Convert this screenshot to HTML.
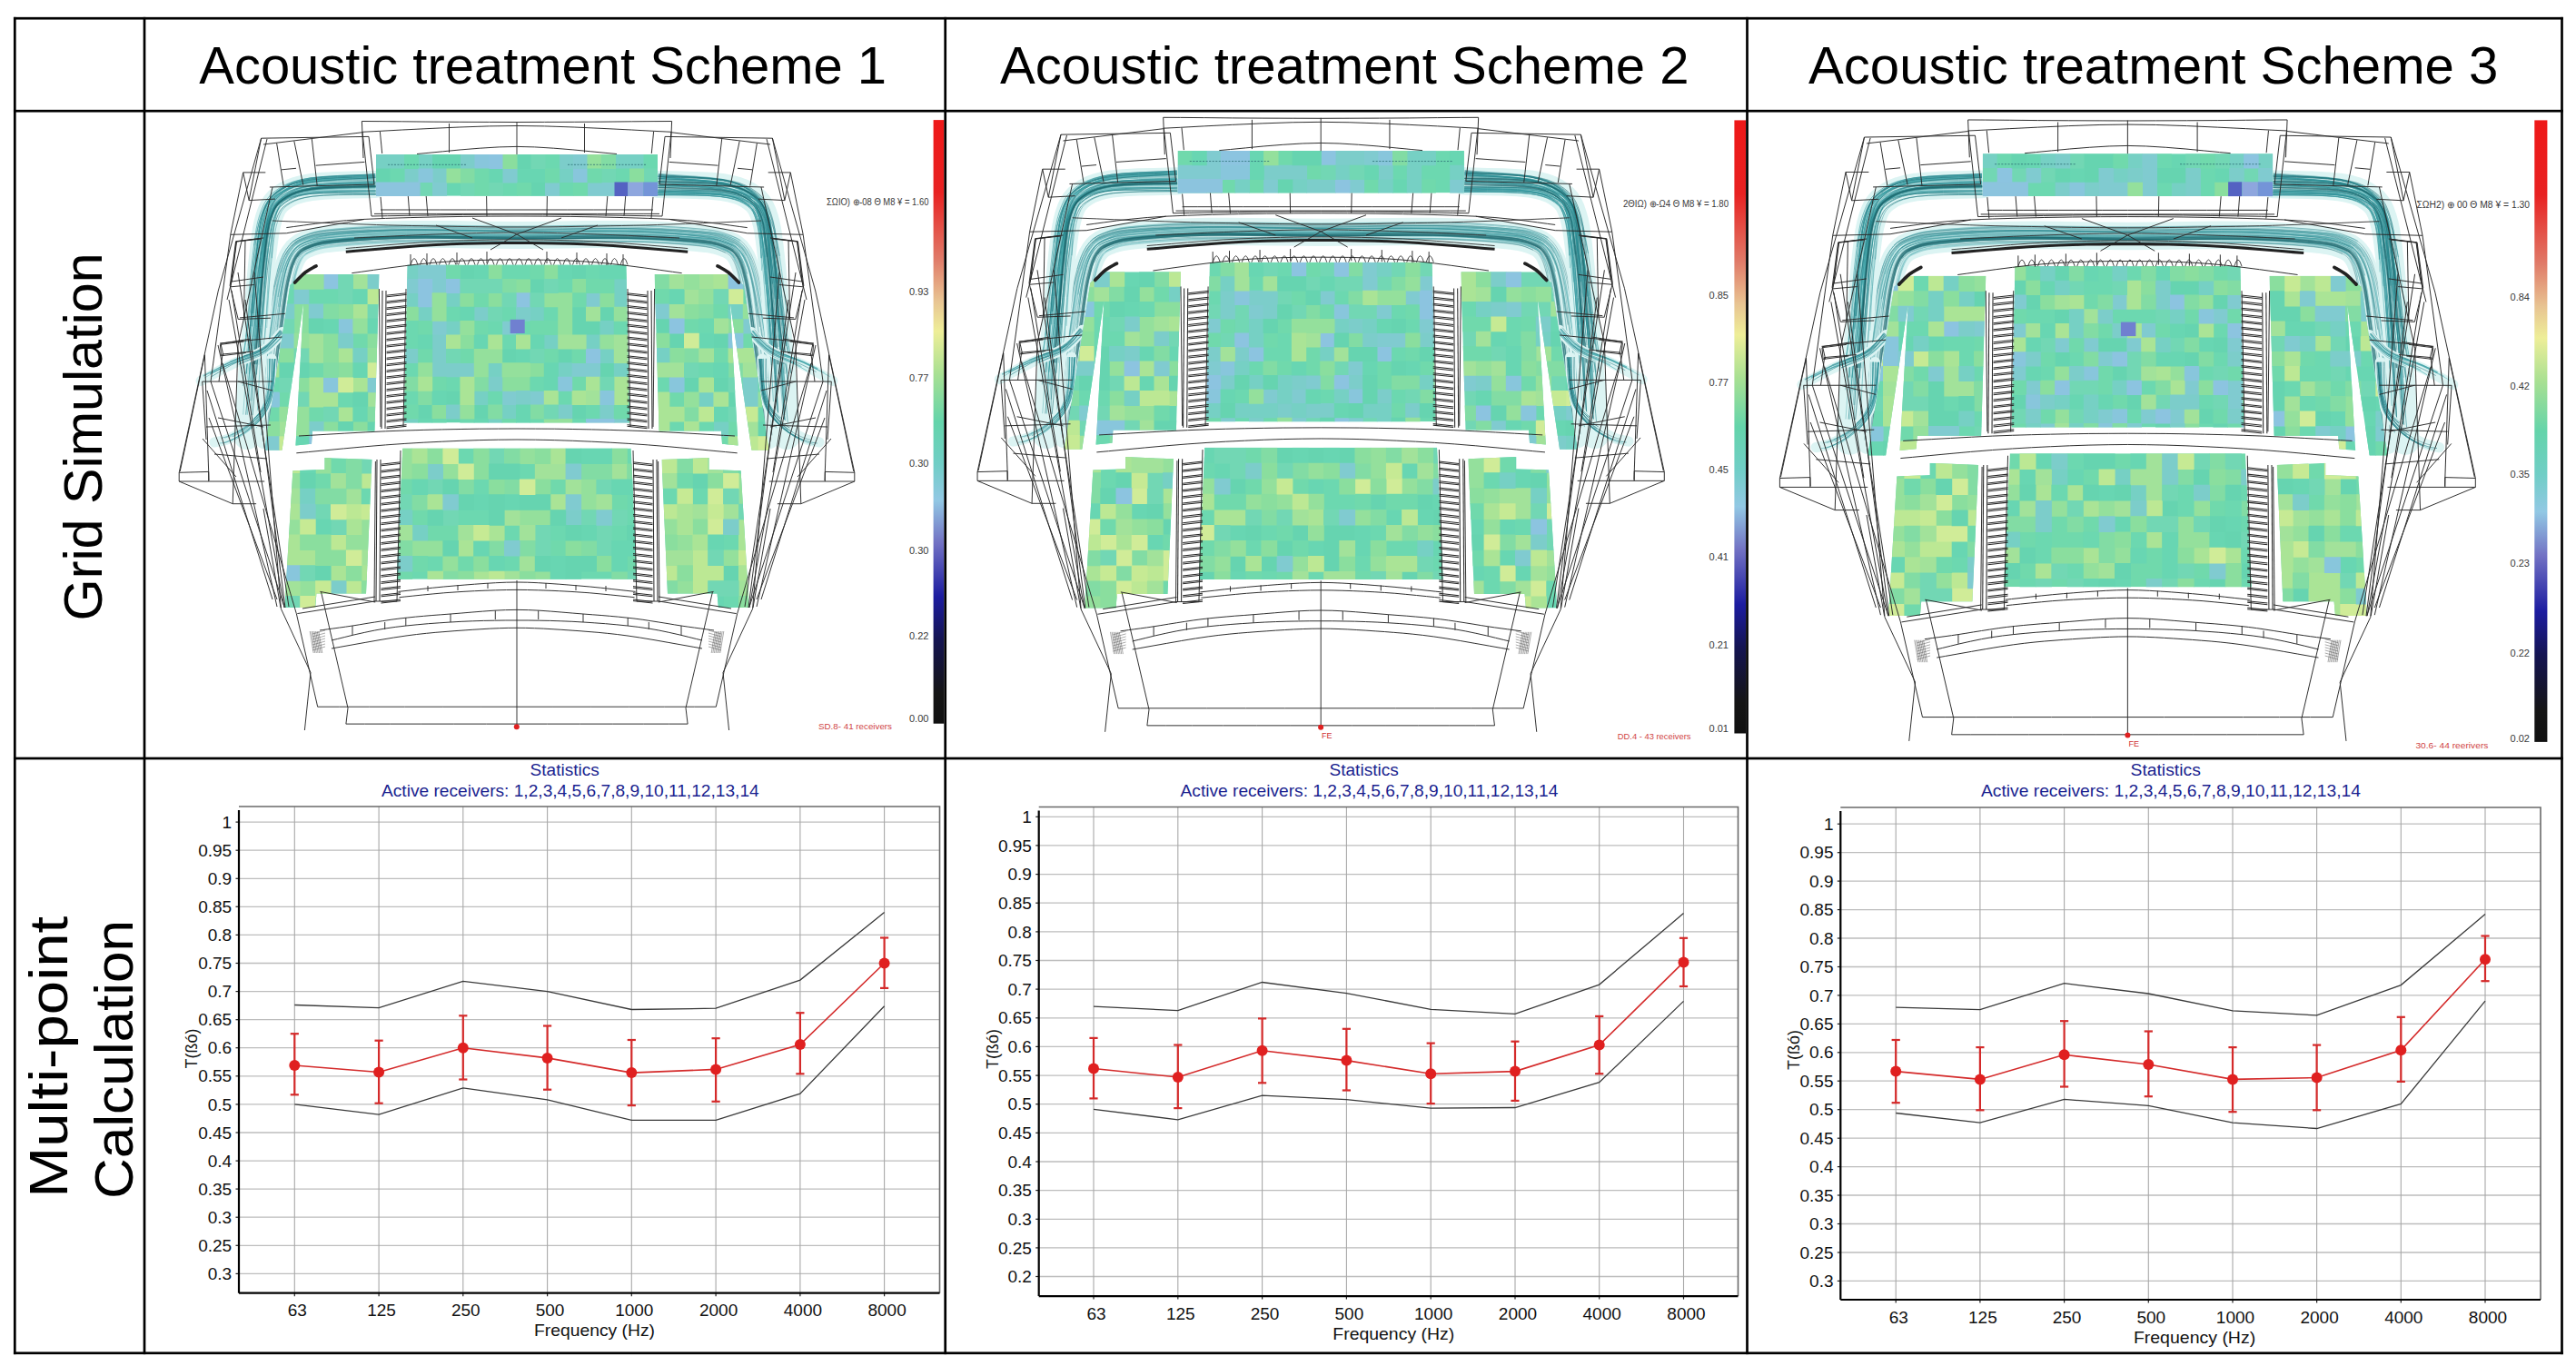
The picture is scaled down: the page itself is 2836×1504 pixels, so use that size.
<!DOCTYPE html>
<html><head><meta charset="utf-8"><style>html,body{margin:0;padding:0;width:2836px;height:1504px;overflow:hidden;background:#fff}</style></head><body>
<svg width="2836" height="1504" viewBox="0 0 2836 1504" style="position:absolute;left:0;top:0" font-family='"Liberation Sans", sans-serif'>
<rect width="2836" height="1504" fill="#fff"/>
<defs><filter id="soft" x="-2%" y="-2%" width="104%" height="104%"><feGaussianBlur stdDeviation="0.45"/></filter></defs>
<defs><g id="bund"><polyline points="845.1,479.7 844.4,471.6 843.6,460.1 842.5,446.7 841.3,432.9 840,420 838.6,407.9 837.1,395.7 835.5,383.6 833.9,371.8 832.3,360.4 830.8,349.3 829.3,338.3 827.9,327.7 826.3,317.9 824.6,309.2 822.8,301.7 821,295.1 819,289.4 816.9,284.4 814.4,280 811.7,276.4 808.9,273.7 805.8,271.5 802.2,269.7 798,268 793.6,266.4 789.3,265.1 784.1,264 777.3,263 768,262 756.3,261 742.6,260 727,259.1 709.7,258.4 690.6,258 669.1,257.9 645.1,258.1 619.8,258.5 594,258.8 569,259 544,258.8 518.2,258.5 492.9,258.1 468.9,257.9 447.4,258 428.3,258.4 411,259.1 395.4,260 381.7,261 370,262 360.7,263 353.9,264 348.7,265.1 344.4,266.4 340,268 335.8,269.7 332.2,271.5 329.1,273.7 326.3,276.4 323.6,280 321.1,284.4 319,289.4 317,295.1 315.2,301.7 313.4,309.2 311.7,317.9 310.1,327.7 308.7,338.3 307.2,349.3 305.7,360.4 304.1,371.8 302.5,383.6 300.9,395.7 299.4,407.9 298,420 296.7,432.9 295.5,446.7 294.4,460.1 293.6,471.6 292.9,479.7" fill="none" stroke="#dcf4f3" stroke-width="30.0" stroke-linejoin="round" stroke-linecap="round"/>
<polyline points="848.8,446.2 847.4,432.3 845.9,419.4 844.3,407.3 842.5,395.1 840.7,382.9 838.9,371.1 837.1,359.7 835.4,348.7 833.7,337.7 832,327.1 830.2,317.2 828.3,308.4 826.3,300.8 824.2,294.1 822,288.3 819.5,283.1 816.7,278.5 813.6,274.8 810.4,271.9 806.9,269.8 803,268.1 798.6,266.5 794.1,265.1 789.5,263.9 784.2,263 777.3,262.2 768.1,261.5 756.3,260.7 742.6,259.9 727,259.2 709.7,258.8 690.6,258.5 669.1,258.6 645.2,259.1 619.8,259.7 594,260.2 569,260.6 544,260.7 518.2,260.5 492.8,260.4 468.9,260.4 447.4,260.7 428.4,261.3 411.1,262.2 395.6,263.3 382,264.5 370.4,265.7 361.2,266.9 354.7,268.1 349.8,269.3 345.8,270.7 341.7,272.5 337.8,274.3 334.8,276.1 332.5,277.9 330.6,280.1 328.3,283.5" fill="none" stroke="#1f7f86" stroke-width="0.72" stroke-opacity="0.5"/>
<polyline points="823.9,350.2 822.6,339.2 821.2,328.7 819.8,319 818.2,310.6 816.6,303.3 815,297 813.3,291.6 811.4,287.1 809.4,283.2 807.3,280.2 805.3,278.1 803,276.4 800,274.8 796,273 791.9,271.4 788,270.1 783.2,269 776.6,267.9 767.5,266.8 755.9,265.7 742.3,264.6 726.8,263.7 709.5,262.9 690.5,262.3 669.1,262.1 645.2,262.2 619.8,262.5 594.1,262.7 569,262.7 543.9,262.5 518.2,262 492.8,261.5 468.9,261.2 447.4,261.2 428.4,261.5 411.1,262.1 395.6,262.9 382,263.7 370.2,264.6 361.1,265.5 354.3,266.3 349.3,267.3 345.1,268.5 340.8,269.9 336.6,271.5 333.1,273.1 330.2,275 327.5,277.5 324.9,280.8 322.4,285 320.2,289.8 318.1,295.5 316.2,301.9 314.3,309.4 312.5,318 310.9,327.8 309.3,338.3 307.7,349.3 306.1,360.5 304.4,371.8" fill="none" stroke="#1f7f86" stroke-width="0.60" stroke-opacity="0.5"/>
<polyline points="817.8,289.9 815.8,284.9 813.5,280.6 811,277.1 808.4,274.4 805.4,272.2 802,270.4 797.8,268.5 793.5,266.8 789.2,265.4 784,264.2 777.2,263.1 768,262 756.3,260.9 742.6,259.8 727,258.9 709.7,258 690.6,257.5 669.1,257.3 645.1,257.4 619.8,257.7 594,257.9 569,258 544,257.7 518.3,257.2 492.9,256.8 468.9,256.4 447.4,256.4 428.3,256.8 410.9,257.4 395.3,258.1 381.6,259 369.8,259.9 360.5,260.8 353.5,261.7 348.2,262.7 343.6,264 339,265.5 334.6,267.2 330.7,269.1 327.2,271.4 323.9,274.4 320.9,278.3 318.2,282.9 315.8,288.2 313.7,294.1 311.7,300.8 309.8,308.4 307.9,317.2 306.3,327.1 304.7,337.7 303.1,348.7 301.5,359.8 299.8,371.2 298.1,383 296.4,395.2 294.7,407.4 293.2,419.5 291.9,432.4 290.5,446.3 289.4,459.7 288.4,471.2 287.6,479.3" fill="none" stroke="#3aa0a6" stroke-width="0.66" stroke-opacity="0.5"/>
<polyline points="832.1,461 831.3,447.7 830.3,433.9 829.2,421.1 828.1,409.2 826.8,397.1 825.4,385 824,373.1 822.6,361.7 821.3,350.5 820.1,339.5 818.8,329 817.5,319.4 816.1,311 814.6,303.8 813.1,297.5 811.5,292.3 809.8,287.9 808,284.1 806.1,281.3 804.3,279.2 802.3,277.6 799.4,275.9 795.6,274.1 791.6,272.4 787.7,271 783,269.8 776.6,268.7 767.5,267.5 755.8,266.3 742.3,265.1 726.8,264 709.5,263.1 690.5,262.5 669.1,262.2 645.2,262.2 619.8,262.3 594.1,262.5 569,262.4 543.9,262 518.2,261.5 492.8,260.9 468.9,260.5 447.4,260.3 428.4,260.6 411.1,261.1 395.5,261.7 381.9,262.5 370.1,263.3 360.9,264 354.1,264.8 348.9,265.7 344.5,266.8 340.1,268.2 335.8,269.8 332.1,271.4 328.8,273.4 325.8,276 322.9,279.5 320.2,283.9 317.8,288.9 315.6,294.7 313.6,301.3 311.5,308.8 309.6,317.5 307.8,327.4 306.2,337.9 304.5,348.9 302.8,360 301,371.3 299.1,383.2 297.3,395.3" fill="none" stroke="#2a8f96" stroke-width="0.78" stroke-opacity="0.5"/>
<polyline points="832,372 830.3,360.7 828.7,349.6 827.1,338.6 825.4,328.1 823.8,318.3 821.9,309.8 820,302.4 818.1,296 816.1,290.5 813.9,285.9 811.5,281.9 809,278.7 806.6,276.5 803.9,274.9 800.6,273.4 796.5,271.9 792.3,270.5 788.2,269.4 783.3,268.5 776.7,267.7 767.5,266.8 755.9,266 742.2,265.2 726.8,264.4 709.5,263.9 690.5,263.6 669.1,263.6 645.2,264 619.8,264.5 594.1,265 569,265.3 543.9,265.3 518.1,265.1 492.8,264.9 468.9,264.8 447.5,265 428.6,265.6 411.3,266.4 395.9,267.4 382.3,268.6 370.7,269.7 361.7,270.8 355.3,271.9 350.7,273 347,274.3 343.1,275.9 339.3,277.6 336.6,279.1 334.7,280.5 333.1,282.3 331.3,285 329.5,288.5 327.8,292.8 326.2,297.9 324.6,304.1 323.1,311.3 321.6,319.6 320.2,329.2 318.9,339.7 317.6,350.7 316.2,361.8 314.7,373.2 313.3,385.1 311.8,397.2 310.5,409.3 309.2,421.3" fill="none" stroke="#3aa0a6" stroke-width="0.72" stroke-opacity="0.5"/>
<polyline points="806.8,276.7 804,274.6 800.9,272.8 796.8,271 792.7,269.2 788.6,267.8 783.6,266.6 777,265.4 767.8,264.3 756.1,263.1 742.5,261.9 726.9,260.9 709.6,260 690.6,259.4 669.1,259.1 645.2,259.2 619.8,259.4 594,259.5 569,259.5 544,259.2 518.2,258.7 492.9,258.1 468.9,257.7 447.4,257.6 428.3,257.9 410.9,258.4 395.4,259.1 381.7,259.9 369.9,260.8 360.6,261.6 353.7,262.4 348.3,263.4 343.8,264.5 339.2,266 334.8,267.6 330.9,269.4 327.4,271.6 324.1,274.6 321.1,278.4 318.3,283 315.8,288.2 313.6,294.1 311.6,300.8 309.6,308.4 307.7,317.2 305.9,327" fill="none" stroke="#1f7f86" stroke-width="0.78" stroke-opacity="0.5"/>
<polyline points="814.6,265.4 810.9,262.9 806.4,260.6 801.6,258.7 796.8,256.9 791.7,255.4 785.8,254.1 778.5,253 768.9,252 757,251 743.2,250 727.5,249.1 710,248.4 690.7,248 669.1,247.9 645,248.1 619.6,248.5 593.9,248.8 569,249 544.1,248.8 518.4,248.5 493,248.1 468.9,247.9 447.3,247.9 428,248.4 410.5,249.1 394.8,250 381,251 369.1,252 359.5,253 352.2,254 346.3,255.3 341.2,256.8 336.3,258.6 331.6,260.5 327,262.8 322.6,265.9 318.6,269.8 315.1,274.5 312.1,279.9 309.5,285.8 307.3,292.1 305.4,299.2 303.5,307.1 301.7,316.1 300.1,326.2 298.6,336.9 297.2,347.9 295.7,359" fill="none" stroke="#2a8f96" stroke-width="0.52" stroke-opacity="0.5"/>
<polyline points="798.8,278.2 794.7,276.3 790.8,274.7 787.1,273.5 782.6,272.4 776.2,271.3 767.2,270.2 755.6,269.1 742.1,268 726.6,267 709.4,266.1 690.5,265.5 669.1,265.3 645.2,265.4 619.9,265.6 594.1,265.8 569,265.8 543.9,265.5 518.1,265.1 492.8,264.6 468.9,264.2 447.5,264.1 428.5,264.4 411.3,265 395.8,265.7 382.2,266.5 370.5,267.4 361.4,268.2 354.8,269 350,269.9 345.9,271 341.7,272.4 337.6,273.9 334.4,275.4 331.8,277 329.4,279.1 326.8,282.4" fill="none" stroke="#186c74" stroke-width="0.78" stroke-opacity="0.5"/>
<polyline points="836.4,359.9 834.7,348.8 833,337.8 831.4,327.2 829.6,317.3 827.7,308.5 825.8,300.9 823.7,294.3 821.5,288.4 819.1,283.3 816.4,278.7 813.4,275 810.2,272.2 806.7,270 802.9,268.3 798.5,266.7 794,265.2 789.5,264 784.2,263.1 777.3,262.2 768.1,261.4 756.3,260.6 742.6,259.8 727,259.1 709.7,258.6 690.6,258.3 669.1,258.4 645.2,258.8 619.8,259.3 594,259.9 569,260.2 544,260.2 518.2,260.1 492.8,259.9 468.9,259.8 447.4,260.1 428.4,260.7 411.1,261.6 395.6,262.6 382,263.8 370.3,264.9 361.1,266.1 354.5,267.2 349.6,268.5 345.5,269.9 341.4,271.6 337.4,273.4 334.3,275.2 331.8,277 329.7,279.4 327.4,282.8" fill="none" stroke="#186c74" stroke-width="0.79" stroke-opacity="0.5"/>
<polyline points="826.8,338.6 825.6,328 824.3,318.3 822.8,309.6 821.3,302.1 819.7,295.5 818,289.8 816.1,284.8 813.9,280.3 811.4,276.7 808.8,273.8 805.9,271.5 802.4,269.4 798.2,267.5 793.9,265.6 789.5,264.1 784.3,262.7 777.4,261.5 768.2,260.2 756.4,259 742.7,257.8 727.1,256.7 709.8,255.7 690.6,255 669.1,254.7 645.1,254.7 619.7,254.8 594,254.9 569,254.8 544,254.4 518.3,253.9 492.9,253.3 468.9,252.8 447.3,252.6 428.2,252.9 410.7,253.3 395,253.9 381.2,254.7 369.4,255.5 359.9,256.2 352.7,257 347,258 342,259.3 337.2,260.8 332.5,262.5 328,264.4 324.3,266.7" fill="none" stroke="#1f7f86" stroke-width="0.53" stroke-opacity="0.5"/>
<polyline points="810,288.2 808,284.2 806.1,281.3 804.3,279.3 802.2,277.7 799.4,276.1 795.5,274.3 791.5,272.7 787.7,271.3 783,270.1 776.5,269 767.4,267.9 755.8,266.7 742.2,265.6 726.8,264.5 709.5,263.6 690.5,263 669.1,262.8 645.2,262.8 619.8,263 594.1,263.2 569,263.1 543.9,262.8 518.2,262.3 492.8,261.7 468.9,261.3 447.4,261.2 428.4,261.5 411.1,262 395.6,262.7 381.9,263.5 370.2,264.4 361,265.1 354.3,266 349.2,266.9 344.9,268 340.5,269.4 336.3,270.9 332.7,272.5 329.7,274.4 326.9,276.9 324.1,280.3 321.5,284.6 319.2,289.5 317.1,295.1 315.1,301.6 313.1,309.1 311.2,317.8 309.5,327.6 307.8,338.1 306.2,349.1 304.5,360.2" fill="none" stroke="#48aaae" stroke-width="0.48" stroke-opacity="0.5"/>
<polyline points="815,303.8 813.5,297.4 812,292.1 810.3,287.6 808.5,283.8 806.6,280.8 804.8,278.7 802.7,276.9 799.8,275.2 795.9,273.3 791.9,271.6 788,270.1 783.2,268.8 776.7,267.6 767.6,266.4 755.9,265.1 742.3,263.9 726.8,262.8 709.6,261.8 690.6,261.1 669.1,260.7 645.2,260.7 619.8,260.8 594,260.9 569,260.8 544,260.4 518.2,259.8 492.8,259.1 468.9,258.7 447.4,258.5 428.3,258.7 411,259.1 395.4,259.7 381.7,260.4 369.9,261.2 360.6,261.9 353.7,262.6 348.4,263.5 343.8,264.6 339.2,266 334.8,267.6 330.8,269.2 327.2,271.4 323.9,274.3 320.7,278.1 317.8,282.7 315.2,288 313,293.9 310.8,300.6 308.8,308.2 306.8,317 304.9,326.9 303.2,337.5 301.4,348.5 299.7,359.6 297.9,370.9 296,382.8 294.1,394.9 292.3,407.1 290.7,419.2 289.1,432.2 287.7,446.1 286.3,459.5" fill="none" stroke="#48aaae" stroke-width="0.62" stroke-opacity="0.5"/>
<polyline points="850,479.3 849.4,471.2 848.6,459.7 847.6,446.3 846.5,432.4 845.3,419.4 844,407.3 842.5,395.1 841,382.9 839.5,371 838,359.6 836.6,348.5 835.2,337.5 833.8,326.8 832.3,316.8 830.6,307.9 828.9,300.1 827,293.3 825,287.1 822.7,281.5 819.9,276.4 816.8,272 813.2,268.5 809.3,265.6 805.1,263.4 800.5,261.5 795.9,259.7 791,258.1 785.3,256.8 778.1,255.7 768.7,254.6 756.8,253.5 743.1,252.4 727.4,251.5 709.9,250.7 690.7,250.1 669.1,250 645,250.1 619.6,250.4 593.9,250.7 569,250.7 544.1,250.5 518.4,250.1 493,249.6 468.9,249.3 447.3,249.3 428.1,249.7 410.6,250.3 394.9,251.1 381,252 369.1,252.9 359.6,253.8 352.3,254.8 346.4,256 341.4,257.4 336.5,259.1 331.8,261 327.2,263.2 322.8,266.1 318.8,269.9 315.2,274.6 312.1,279.9 309.5,285.7 307.2,292.1 305.2,299.1 303.2,307 301.4,316.1 299.7,326.1 298.1,336.8 296.5,347.8 295,358.9 293.3,370.3 291.6,382.2 289.9,394.3 288.3,406.6 286.8,418.8 285.4,431.8 284.1,445.8 283,459.2 282,470.7" fill="none" stroke="#186c74" stroke-width="0.65" stroke-opacity="0.5"/>
<polyline points="818.2,310.7 816.4,303.3 814.6,297.1 812.7,291.8 810.7,287.4 808.5,283.8 806.4,281 804.4,279.2 802.2,277.8 799.2,276.4 795.3,274.9 791.3,273.5 787.4,272.4 782.7,271.5 776.3,270.7 767.3,269.8 755.6,268.9 742.1,268 726.6,267.2 709.4,266.6 690.5,266.2 669.1,266.2 645.2,266.5 619.9,267 594.1,267.4 569,267.7 543.9,267.6 518.1,267.3 492.8,267.1 468.9,266.9 447.5,267.1 428.6,267.6 411.4,268.4 396,269.3 382.5,270.4 370.9,271.5 361.9,272.5 355.6,273.5 351.1,274.5 347.5,275.7 343.6,277.3 339.9,278.9 337.3,280.2 335.5,281.5 334,283.1 332.3,285.6 330.5,289 328.8,293.2 327.1,298.2 325.5,304.3 323.9,311.5 322.4,319.8 321,329.3 319.6,339.7 318.2,350.7 316.8,361.9 315.3,373.3 313.8,385.1 312.3,397.2 310.8,409.3 309.6,421.2 308.4,434" fill="none" stroke="#3aa0a6" stroke-width="0.64" stroke-opacity="0.5"/>
<polyline points="814.7,279.8 812.1,276.1 809.4,273.1 806.3,270.8 802.7,268.7 798.5,266.8 794.1,265 789.7,263.5 784.4,262.1 777.5,260.9 768.2,259.8 756.5,258.6 742.7,257.4 727.2,256.3 709.8,255.4 690.6,254.8 669.1,254.5 645.1,254.6 619.7,254.7 594,254.9 569,254.8 544,254.5 518.3,254 492.9,253.4 468.9,253 447.3,252.9 428.2,253.1 410.7,253.7 395.1,254.3 381.3,255.1 369.4,256 360,256.8 352.8,257.6 347.1,258.6 342.2,259.9 337.4,261.4 332.8,263.2 328.4,265.2 324.2,267.8 320.4,271.3 316.9,275.7 313.8,280.8 311.1,286.4 308.8,292.6 306.7,299.5 304.7,307.3 302.7,316.3 300.9,326.3 299.2,337 297.6,348 295.9,359.1 294.1,370.4 292.3,382.3 290.5,394.4 288.8,406.7 287.2,418.8" fill="none" stroke="#186c74" stroke-width="0.57" stroke-opacity="0.5"/>
<polyline points="810.4,271.5 807.2,269.2 803.4,267.2 799,265.4 794.5,263.6 790,262.2 784.6,261 777.6,259.9 768.3,258.8 756.5,257.8 742.8,256.7 727.2,255.8 709.8,255 690.6,254.5 669.1,254.3 645.1,254.5 619.7,254.8 594,255.1 569,255.1 544,254.9 518.3,254.5 492.9,254.1 468.9,253.8 447.3,253.8 428.2,254.2 410.8,254.8 395.1,255.6 381.4,256.5 369.6,257.5 360.2,258.4 353.1,259.4 347.6,260.5 342.8,261.8 338.2,263.4 333.7,265.2 329.6,267.2 325.8,269.7 322.4,273 319.2,277.2 316.4,282 313.9,287.5 311.8,293.5 309.9,300.2" fill="none" stroke="#1f7f86" stroke-width="0.72" stroke-opacity="0.5"/>
<polyline points="821.9,281.5 819.3,276.9 816.2,272.6 812.7,269.1 808.8,266.4 804.7,264.3 800.2,262.4 795.6,260.6 790.7,259.2 785.1,257.9 778,256.8 768.6,255.8 756.7,254.7 743,253.7 727.3,252.8 709.9,252.1 690.7,251.6 669.1,251.4 645.1,251.6 619.7,252 594,252.3 569,252.4 544,252.2 518.3,251.8 492.9,251.4 468.9,251.1 447.3,251.2 428.1,251.6 410.7,252.2 395,253.1 381.2,254 369.3,255 359.9,255.9 352.7,256.9 347,258.1 342.1,259.5 337.4,261.2 332.7,263.1 328.4,265.2 324.4,268 321.1,271.1" fill="none" stroke="#186c74" stroke-width="0.72" stroke-opacity="0.5"/>
<polyline points="840.8,432.9 839.5,420.1 838.1,408 836.5,395.8 834.8,383.7 833.2,371.9 831.5,360.5 830,349.4 828.5,338.4 826.9,327.8 825.3,318.1 823.6,309.4 821.8,301.9 819.9,295.4 817.9,289.8 815.8,284.9 813.3,280.7 810.7,277.3 808,274.8 805.1,272.8 801.6,271.1 797.4,269.5 793.1,267.9 788.8,266.7 783.8,265.7 777,264.7 767.8,263.8 756.1,262.9 742.5,261.9 726.9,261.1 709.6,260.5 690.6,260.1 669.1,260.1 645.2,260.3 619.8,260.7 594,261.1 569,261.4 543.9,261.3 518.2,261 492.8,260.6 468.9,260.5 447.4,260.6 428.4,261.1 411.1,261.9 395.6,262.8 382,263.8 370.3,264.9 361.1,265.9 354.4,266.9 349.5,268 345.4,269.3 341.1,270.9 337.1,272.7 333.6,274.4" fill="none" stroke="#186c74" stroke-width="0.52" stroke-opacity="0.5"/>
<polyline points="825.9,338.7 824.5,328.2 822.9,318.5 821.2,309.9 819.5,302.5 817.7,296.1 815.8,290.6 813.8,285.9 811.5,281.9 809.1,278.7 806.7,276.4 804.1,274.5 800.8,272.9 796.7,271.3 792.5,269.7 788.4,268.5 783.5,267.4 776.8,266.5 767.7,265.5 756,264.5 742.4,263.5 726.8,262.7 709.6,262 690.6,261.5 669.1,261.5 645.2,261.7 619.8,262.1 594.1,262.4 569,262.6 543.9,262.4 518.2,262.1 492.8,261.7 468.9,261.5 447.4,261.6 428.4,262 411.2,262.7 395.7,263.6 382,264.6 370.3,265.6 361.2,266.6 354.6,267.5 349.6,268.6 345.5,269.8 341.3,271.4 337.2,273.1 334,274.7 331.4,276.5 329,278.8 326.7,282 324.4,286 322.4,290.7 320.5,296.2 318.7,302.6 317,310 315.3,318.5 313.8,328.2 312.3,338.8 310.9,349.8" fill="none" stroke="#186c74" stroke-width="0.64" stroke-opacity="0.5"/>
<polyline points="819,283.2 816.5,278.7 813.7,274.7 810.6,271.6 807.2,269.2 803.4,267.1 799.1,265.2 794.6,263.5 790,262 784.6,260.8 777.7,259.7 768.3,258.6 756.5,257.5 742.8,256.4 727.2,255.5 709.8,254.7 690.7,254.1 669.1,253.9 645.1,254.1 619.7,254.3 594,254.6 569,254.7 544,254.4 518.3,254 492.9,253.5 468.9,253.2 447.3,253.2 428.2,253.6 410.7,254.2 395.1,254.9 381.3,255.8 369.5,256.8 360.1,257.7 353,258.6 347.4,259.7 342.6,261 337.9,262.7 333.4,264.4 329.2,266.4 325.2,269 321.6,272.4 318.4,276.6 315.5,281.6 313,287.1 310.8,293.2 308.8,300 306.9,307.8 305,316.7 303.4,326.7 301.8,337.3 300.2,348.3 298.6,359.4 297,370.8 295.3,382.6" fill="none" stroke="#3aa0a6" stroke-width="0.64" stroke-opacity="0.5"/>
<polyline points="842.5,432.8 841.3,419.9 840,407.8 838.6,395.6 837.1,383.4 835.6,371.5 834.1,360.2 832.7,349 831.3,338 829.9,327.4 828.5,317.5 826.8,308.7 825.1,301.1 823.4,294.4 821.5,288.5 819.3,283.2 816.7,278.5 813.9,274.5 810.8,271.4 807.4,268.9 803.6,266.9 799.2,265 794.7,263.2 790.1,261.7 784.7,260.5 777.7,259.3 768.4,258.3 756.6,257.1 742.8,256.1 727.2,255.1 709.8,254.3 690.7,253.8 669.1,253.6 645.1,253.7 619.7,254 594,254.2 569,254.3 544,254 518.3,253.6 492.9,253.1 468.9,252.8 447.3,252.8 428.2,253.1 410.7,253.7 395.1,254.5 381.3,255.4 369.5,256.3 360,257.2 352.9,258.2 347.3,259.3 342.4,260.6 337.8,262.2 333.2,264 328.9,266 324.9,268.7 321.3,272.1 318,276.4 315.1,281.4 312.5,286.9 310.3,293.1 308.3,299.9 306.4,307.7 304.5,316.6 302.9,326.6 301.3,337.3 299.7,348.3 298.1,359.4 296.4,370.7 294.7,382.6 293,394.7 291.4,407 289.9,419.1 288.5,432.1 287.2,446 286,459.4" fill="none" stroke="#48aaae" stroke-width="0.46" stroke-opacity="0.5"/>
<polyline points="813.9,266.4 810.2,264.1 805.7,262 801,260.3 796.2,258.7 791.2,257.4 785.4,256.3 778.2,255.4 768.7,254.6 756.8,253.8 743,252.9 727.3,252.2 709.9,251.7 690.7,251.4 669.1,251.5 645.1,251.9 619.7,252.5 594,253 569,253.3 544,253.3 518.3,253.2 492.9,253 468.9,252.9 447.3,253.2 428.2,253.8 410.8,254.7 395.2,255.7 381.4,256.9 369.6,258.1 360.3,259.2 353.3,260.4 347.9,261.8 343.3,263.3 338.9,265.1 334.6,267.1 330.8,269.2 327.4,271.7 324.5,274.9 321.8,278.8 319.3,283.5 317.2,288.7 315.4,294.6 313.7,301.3 312.1,308.9 310.6,317.7 309.2,327.5 307.9,338.2 306.6,349.2 305.3,360.3 303.9,371.7 302.4,383.6 301,395.8 299.6,408 298.4,420 297.3,432.9 296.3,446.8 295.4,460.2 294.7,471.7" fill="none" stroke="#48aaae" stroke-width="0.54" stroke-opacity="0.5"/>
<polyline points="839.8,460.4 838.6,447.1 837.3,433.3 836,420.4 834.5,408.4 832.9,396.3 831.2,384.2 829.5,372.4 827.8,361 826.2,349.9 824.6,338.9 823,328.4 821.4,318.8 819.6,310.3 817.8,303 815.9,296.7 814,291.3 811.9,286.8 809.7,283 807.4,280.1 805.2,278.2 802.8,276.7 799.8,275.2 795.8,273.7 791.6,272.3 787.7,271.2 783,270.3 776.5,269.5 767.4,268.6 755.7,267.7 742.1,266.9 726.7,266.1 709.4,265.5 690.5,265.2 669.1,265.2 645.2,265.5 619.9,266 594.1,266.5 569,266.7 543.9,266.7 518.1,266.4 492.8,266.2 468.9,266 447.5,266.2 428.6,266.8 411.4,267.6 396,268.6 382.4,269.6 370.8,270.7 361.8,271.8 355.5,272.8 351,273.9 347.3,275.1 343.4,276.7 339.6,278.3 337,279.7 335.2,281.1 333.6,282.7 331.8,285.3 330,288.8 328.3,293 326.7,298.1 325.1,304.2 323.5,311.6" fill="none" stroke="#3aa0a6" stroke-width="0.54" stroke-opacity="0.5"/>
<polyline points="807.4,268.4 803.6,266.7 799.1,265.1 794.6,263.6 789.9,262.4 784.5,261.5 777.5,260.6 768.2,259.9 756.4,259.1 742.7,258.3 727.1,257.6 709.7,257.1 690.6,256.9 669.1,257 645.1,257.4 619.8,258 594,258.5 569,258.9 544,258.9 518.2,258.8 492.9,258.6 468.9,258.6 447.4,258.9 428.4,259.5 411,260.4 395.5,261.5 381.9,262.7 370.2,263.9 361,265.1 354.3,266.2 349.4,267.5 345.2,269 341.1,270.7 337,272.6 333.8,274.4 331.3,276.4 329.1,278.8 326.9,282.1 324.8,286.2 323,290.9 321.3,296.4 319.8,302.8 318.2,310.3" fill="none" stroke="#48aaae" stroke-width="0.62" stroke-opacity="0.5"/>
<polyline points="839.8,460.4 838.9,447 837.8,433.2 836.7,420.3 835.5,408.3 834.1,396.1 832.7,384 831.2,372.1 829.8,360.7 828.4,349.6 827.1,338.6 825.8,328 824.4,318.2 822.9,309.6 821.3,302.1 819.6,295.5 817.8,289.9 815.8,284.9 813.6,280.5 811.1,277 808.5,274.2 805.6,272 802.1,270.1 797.9,268.2 793.6,266.5 789.3,265 784.1,263.8 777.3,262.6 768,261.5 756.3,260.3 742.6,259.2 727.1,258.2 709.7,257.3 690.6,256.7 669.1,256.5 645.1,256.5 619.7,256.8 594,256.9 569,256.9 544,256.6 518.3,256.1 492.9,255.6 468.9,255.2 447.4,255.2 428.2,255.5 410.8,256 395.2,256.7 381.5,257.6 369.7,258.4 360.3,259.3 353.3,260.1 347.8,261.1 343,262.4 338.4,263.9 333.9,265.6 329.8,267.5 326,270 322.5,273.2 319.3,277.2 316.4,282 313.9,287.4 311.7,293.5 309.6,300.3 307.6,308 305.8,316.8 304,326.8 302.4,337.4 300.8,348.4 299.1,359.5 297.4,370.9 295.6,382.7 293.8,394.8" fill="none" stroke="#48aaae" stroke-width="0.49" stroke-opacity="0.5"/>
<polyline points="806.9,281.4 804.6,278.9 802.5,277.2 799.6,275.5 795.8,273.8 791.7,272 787.8,270.7 783.1,269.4 776.6,268.3 767.5,267.1 755.9,265.9 742.3,264.8 726.8,263.7 709.5,262.8 690.5,262.1 669.1,261.9 645.2,261.9 619.8,262 594.1,262.2 569,262.1 543.9,261.8 518.2,261.2 492.8,260.7 468.9,260.2 447.4,260.1 428.4,260.4 411.1,260.9 395.5,261.5 381.8,262.3 370.1,263.1 360.9,263.9 354.1,264.7 348.9,265.6 344.5,266.7 340,268.1 335.7,269.6 332,271.3 328.7,273.3 325.7,275.9 322.8,279.5 320.1,283.9 317.7,288.9 315.5,294.7 313.5,301.2 311.5,308.8 309.6,317.5 307.8,327.3 306.1,337.9" fill="none" stroke="#2a8f96" stroke-width="0.53" stroke-opacity="0.5"/>
<polyline points="844.8,370.3 843.1,358.9 841.4,347.9 839.8,336.8 838.1,326.2 836.3,316.1 834.4,307.1 832.3,299.2 830.2,292.3 827.9,286 825.2,280.3 822.1,275.1 818.5,270.6 814.5,266.9 810.2,264.1 805.7,262.1 801,260.3 796.2,258.7 791.2,257.4 785.4,256.3 778.2,255.5 768.7,254.6 756.8,253.8 743,253 727.3,252.3 709.9,251.8 690.7,251.5 669.1,251.6 645.1,252 619.7,252.5 594,253 569,253.4 544,253.4 518.3,253.2 492.9,253 468.9,253 447.3,253.2 428.2,253.8 410.8,254.7 395.2,255.8 381.4,256.9 369.6,258.1 360.3,259.3 353.3,260.5 347.9,261.8 343.4,263.3 338.9,265.2 334.6,267.1 330.8,269.2 327.5,271.7 324.5,274.9 321.8,278.8 319.3,283.5 317.3,288.7 315.4,294.6 313.7,301.3 312.1,308.9 310.6,317.7 309.2,327.6 307.9,338.2 306.6,349.2 305.3,360.3 303.9,371.7 302.4,383.6 301,395.8 299.6,408 298.4,420 297.3,432.9 296.3,446.8 295.4,460.2 294.7,471.7 294.2,479.8" fill="none" stroke="#186c74" stroke-width="0.69" stroke-opacity="0.5"/>
<polyline points="839.1,325.9 837.5,315.9 835.6,306.8 833.7,298.9 831.6,291.8 829.4,285.4 826.7,279.5 823.6,274.1 820,269.3 815.8,265.3 811.3,262.3 806.6,260 801.8,258.1 797,256.4 791.8,254.9 785.9,253.7 778.5,252.7 769,251.8 757.1,250.8 743.2,249.9 727.5,249.1 710,248.5 690.7,248.1 669.1,248.1 645,248.4 619.6,248.8 593.9,249.2 569,249.4 544.1,249.4 518.4,249.1 493,248.8 468.9,248.6 447.3,248.8 428,249.3 410.6,250.1 394.9,251 381,252.1 369.2,253.2 359.7,254.2 352.4,255.4 346.6,256.7 341.6,258.2 336.9,260.1 332.3,262 327.9,264.3 323.8,267.3 320,271 316.7,275.6 313.9,280.8 311.4,286.5 309.4,292.8 307.5,299.7 305.7,307.6 304.1,316.5 302.5,326.6 301.1,337.2 299.7,348.3 298.3,359.4 296.8,370.8 295.2,382.6 293.7,394.8 292.2,407.1 290.9,419.2" fill="none" stroke="#186c74" stroke-width="0.61" stroke-opacity="0.5"/>
<polyline points="833.5,337.7 832.1,327.1 830.5,317.2 828.8,308.3 827.1,300.6 825.2,293.8 823.2,287.8 820.9,282.4 818.2,277.5 815.2,273.4 811.9,270.1 808.2,267.5 804.2,265.4 799.7,263.5 795.2,261.8 790.4,260.3 784.9,259.1 777.9,258 768.5,257 756.7,255.9 742.9,254.9 727.3,254 709.8,253.3 690.7,252.8 669.1,252.6 645.1,252.8 619.7,253.1 594,253.4 569,253.5 544,253.3 518.3,252.9 492.9,252.5 468.9,252.3 447.3,252.3 428.2,252.7 410.7,253.4 395.1,254.2 381.3,255.1 369.4,256.1 360,257.1 352.9,258 347.3,259.2 342.4,260.6 337.8,262.3 333.2,264.1 329,266.2 325.1,268.8 321.5,272.3 318.2,276.5 315.4,281.5 312.9,287.1 310.8,293.2 308.8,300.1 306.9,307.8 305.2,316.7 303.5,326.7 302,337.3 300.5,348.4 298.9,359.5 297.3,370.8 295.6,382.7 294,394.9 292.4,407.1 291,419.3 289.7,432.2 288.4,446.1 287.3,459.5 286.3,471 285.6,479.1" fill="none" stroke="#1f7f86" stroke-width="0.47" stroke-opacity="0.5"/>
<polyline points="846,394.6 844.2,382.5 842.3,370.6 840.4,359.3 838.7,348.2 836.9,337.2 835.2,326.6 833.3,316.7 831.3,307.8 829.2,300.1 827,293.3 824.7,287.2 822,281.8 819,277 815.7,273 812.1,269.9 808.2,267.5 804,265.8 799.5,264.2 794.8,262.8 790.1,261.6 784.6,260.7 777.6,260 768.3,259.3 756.5,258.5 742.7,257.8 727.1,257.2 709.7,256.8 690.6,256.6 669.1,256.8 645.1,257.3 619.8,258 594,258.6 569,259 544,259.1 518.2,259.1 492.8,259 468.9,259 447.4,259.4 428.4,260.1 411.1,261.1 395.6,262.2 381.9,263.4 370.3,264.7 361.1,266 354.5,267.2 349.6,268.5 345.6,270 341.5,271.8 337.6,273.7 334.2,275.7" fill="none" stroke="#2a8f96" stroke-width="0.56" stroke-opacity="0.5"/>
<polyline points="807.8,275.3 804.8,273.4 801.3,271.8 797.2,270.1 792.9,268.7 788.6,267.5 783.6,266.5 776.9,265.7 767.7,264.8 756,263.9 742.4,263 726.9,262.2 709.6,261.6 690.6,261.3 669.1,261.3 645.2,261.6 619.8,262.1 594.1,262.5 569,262.8 543.9,262.7 518.2,262.5 492.8,262.2 468.9,262.1 447.5,262.3 428.5,262.8 411.2,263.6 395.7,264.6 382.1,265.6 370.4,266.7 361.3,267.8 354.8,268.9 350,270 346,271.3 341.9,272.9 338,274.6 334.9,276.2 332.6,278 330.5,280.1 328.4,283.1 326.4,287 324.4,291.8" fill="none" stroke="#2a8f96" stroke-width="0.65" stroke-opacity="0.5"/>
<polyline points="809,284 806.9,280.6 805.1,278.4 802.9,276.5 800,274.6 796.2,272.7 792.2,270.8 788.2,269.2 783.4,267.8 776.8,266.5 767.7,265.2 756,263.8 742.4,262.5 726.9,261.3 709.6,260.2 690.6,259.4 669.1,259 645.2,258.9 619.8,258.9 594,258.9 569,258.6 544,258.1 518.3,257.4 492.9,256.7 468.9,256.1 447.4,255.9 428.3,256 410.8,256.3 395.2,256.8 381.5,257.4 369.6,258.1 360.2,258.7 353.1,259.4 347.5,260.2 342.7,261.3 337.9,262.7 333.3,264.2 328.9,266 324.8,268.5 320.9,271.7 317.3,275.9 314.1,280.9 311.3,286.4 308.8,292.6 306.6,299.5 304.3,307.3 302.3,316.1" fill="none" stroke="#1f7f86" stroke-width="0.51" stroke-opacity="0.5"/>
<polyline points="815.2,272.9 812,270 808.2,267.5 804.1,265.6 799.6,263.9 795,262.4 790.3,261.1 784.8,260 777.7,259.1 768.4,258.3 756.5,257.4 742.8,256.6 727.2,255.8 709.8,255.2 690.6,254.9 669.1,255 645.1,255.3 619.7,255.8 594,256.3 569,256.6 544,256.6 518.3,256.3 492.9,256.1 468.9,256 447.4,256.2 428.3,256.8 410.9,257.6 395.3,258.6 381.6,259.7 369.9,260.9 360.6,262 353.8,263.1 348.6,264.4 344.2,265.8 339.8,267.6 335.6,269.4 332.1,271.4" fill="none" stroke="#1f7f86" stroke-width="0.52" stroke-opacity="0.5"/>
<polyline points="853,459.3 851.8,446 850.5,432 849.1,419 847.6,406.9 846,394.6 844.3,382.5 842.5,370.6 840.8,359.2 839.2,348.1 837.7,337.1 836,326.5 834.3,316.5 832.5,307.5 830.5,299.7 828.5,292.8 826.2,286.6 823.7,281 820.7,275.9 817.3,271.6 813.6,268.1 809.5,265.4 805.1,263.3 800.5,261.5 795.8,259.9 790.9,258.6 785.2,257.5 778,256.5 768.6,255.7 756.7,254.8 743,253.9 727.3,253.1 709.9,252.5 690.7,252.2 669.1,252.2 645.1,252.6 619.7,253 594,253.5 569,253.8 544,253.7 518.3,253.5 492.9,253.2 468.9,253.1 447.3,253.3 428.2,253.9 410.8,254.7 395.2,255.7 381.4,256.8 369.6,257.9 360.3,259 353.3,260.1 347.8,261.4 343.2,262.9 338.7,264.7 334.3,266.6 330.5,268.7 327,271.2 323.9,274.4 321.1,278.4 318.6,283.1 316.4,288.4 314.5,294.3 312.7,301 311,308.7 309.4,317.5 308,327.3" fill="none" stroke="#1f7f86" stroke-width="0.49" stroke-opacity="0.5"/>
<polyline points="822.8,301.7 820.9,295.1 818.9,289.4 816.7,284.5 814.1,280.2 811.5,276.6 808.7,274 805.6,272 802,270.3 797.8,268.6 793.4,267.1 789.1,265.9 783.9,264.8 777.1,263.9 767.9,263 756.2,262.1 742.5,261.2 727,260.4 709.6,259.8 690.6,259.4 669.1,259.4 645.2,259.7 619.8,260.1 594,260.5 569,260.8 544,260.7 518.2,260.4 492.8,260.1 468.9,260 447.4,260.1 428.4,260.7 411.1,261.4 395.6,262.4 381.9,263.4 370.2,264.5 361.1,265.5 354.4,266.6 349.4,267.7 345.3,269 341,270.7 337,272.4 333.7,274.1 331,276.1 328.7,278.5 326.3,281.8 324.1,285.9 322.1,290.6 320.3,296.1 318.6,302.6 316.9,310 315.3,318.5 313.8,328.2 312.4,338.8 311.1,349.8 309.6,360.9 308.1,372.3 306.6,384.2 305,396.3" fill="none" stroke="#1f7f86" stroke-width="0.76" stroke-opacity="0.5"/>
<polyline points="841,480 840.5,471.9 839.8,460.4 839,447 838,433.2 836.9,420.3 835.8,408.3 834.5,396.1 833.1,384 831.6,372.1 830.3,360.7 829,349.5 827.7,338.5 826.4,327.9 825.1,318.1 823.6,309.4 822,301.9 820.4,295.3 818.7,289.5 816.7,284.5 814.4,280 811.9,276.2 809.2,273.3 806.2,271 802.6,269 798.4,267 794,265.2 789.6,263.6 784.4,262.3 777.5,261.1 768.2,259.9 756.4,258.7 742.7,257.5 727.1,256.4 709.8,255.5 690.6,254.8 669.1,254.6 645.1,254.6 619.7,254.7 594,254.9 569,254.8 544,254.4 518.3,253.9 492.9,253.3 468.9,252.9 447.3,252.8 428.2,253 410.7,253.5 395.1,254.2 381.3,254.9 369.4,255.8 360,256.5 352.8,257.4 347.1,258.4 342.1,259.6 337.3,261.2 332.7,262.9 328.2,264.9 324,267.5 320.1,271.1 316.6,275.5 313.4,280.6 310.8,286.2 308.4,292.5 306.3,299.4 304.2,307.2 302.2,316.2 300.4,326.2 298.7,336.9 297.1,347.9 295.4,359 293.6,370.3 291.7,382.2 289.9,394.3 288.2,406.6 286.6,418.8 285.1,431.7" fill="none" stroke="#3aa0a6" stroke-width="0.57" stroke-opacity="0.5"/>
<polyline points="848.1,419.1 846.7,407 845.2,394.7 843.7,382.5 842.1,370.7 840.5,359.3 839.1,348.2 837.6,337.1 836.2,326.5 834.6,316.4 832.9,307.4 831.1,299.6 829.2,292.6 827.1,286.3 824.6,280.6 821.7,275.3 818.3,270.7 814.5,266.9 810.3,264 805.9,261.7 801.2,259.7 796.5,257.9 791.4,256.4 785.6,255.1 778.3,254 768.9,253 757,251.9 743.2,250.9 727.5,250 710,249.2 690.7,248.7 669.1,248.6 645,248.8 619.6,249.1 593.9,249.4 569,249.5 544.1,249.4 518.4,249 493,248.6 468.9,248.3 447.3,248.4 428,248.8 410.5,249.4 394.8,250.3 381,251.2 369.1,252.2 359.5,253.2 352.2,254.2 346.3,255.4 341.2,256.9 336.4,258.7 331.6,260.6 327,262.8 322.6,265.8 318.6,269.8 315,274.5 311.9,279.8 309.3,285.7 307.1,292.1 305.2,298.9" fill="none" stroke="#48aaae" stroke-width="0.77" stroke-opacity="0.5"/>
<polyline points="819.6,276.2 816.5,272.3 812.9,268.9 808.9,266.3 804.7,264.3 800.1,262.6 795.4,261 790.6,259.6 785,258.6 777.9,257.6 768.5,256.8 756.7,255.9 742.9,255 727.3,254.2 709.8,253.7 690.7,253.3 669.1,253.4 645.1,253.7 619.7,254.2 594,254.7 569,254.9 544,254.9 518.3,254.7 492.9,254.4 468.9,254.3 447.4,254.5 428.2,255.1 410.8,255.9 395.2,256.9 381.5,258 369.7,259.1 360.4,260.2 353.5,261.3 348.1,262.6 343.6,264.1 339.2,265.8 334.8,267.7 331.1,269.8 327.8,272.2 324.9,275.2 322.2,279.1 319.7,283.7 317.6,288.9 315.7,294.7 314,301.4 312.3,309 310.7,317.7 309.3,327.6 307.9,338.2" fill="none" stroke="#2a8f96" stroke-width="0.70" stroke-opacity="0.5"/>
<polyline points="853.4,459.3 852.1,445.9 850.6,432 849.1,419 847.5,406.9 845.8,394.6 843.9,382.5 842.1,370.6 840.3,359.3 838.6,348.2 836.9,337.2 835.2,326.6 833.3,316.7 831.4,307.7 829.3,300 827.2,293.2 824.9,287.1 822.3,281.7 819.3,276.9 815.9,272.8 812.3,269.6 808.4,267.1 804.3,265.3 799.7,263.7 795,262.2 790.3,261 784.7,260 777.7,259.3 768.3,258.5 756.5,257.7 742.8,256.9 727.2,256.3 709.7,255.8 690.6,255.6 669.1,255.7 645.1,256.2 619.7,256.8 594,257.4 569,257.7 544,257.8 518.2,257.7 492.9,257.6 468.9,257.6 447.4,257.9 428.3,258.5 411,259.5 395.5,260.6 381.8,261.8 370.1,263 360.9,264.2 354.2,265.4 349.2,266.7 345,268.2 340.8,270 336.7,271.9 333.5,273.8 330.9,275.8 328.6,278.4 326.3,281.8 324.3,285.9 322.4,290.7 320.8,296.3 319.2,302.7 317.7,310.1 316.3,318.7 314.9,328.4 313.7,338.9 312.5,350 311.2,361.2 309.8,372.6 308.4,384.4 307.1,396.5 305.8,408.7 304.6,420.7 303.6,433.6" fill="none" stroke="#48aaae" stroke-width="0.66" stroke-opacity="0.5"/>
<polyline points="811.3,282.3 808.8,278.9 806.5,276.7 803.9,274.9 800.6,273.3 796.6,271.7 792.4,270.1 788.3,268.9 783.4,267.9 776.8,267 767.6,266 755.9,265.1 742.3,264.1 726.8,263.3 709.5,262.6 690.5,262.2 669.1,262.1 645.2,262.4 619.8,262.7 594.1,263.1 569,263.3 543.9,263.2 518.2,262.8 492.8,262.5 468.9,262.3 447.5,262.4 428.5,262.9 411.2,263.6 395.7,264.5 382.1,265.5 370.4,266.5 361.3,267.5 354.7,268.5 349.9,269.5 345.8,270.7 341.7,272.3 337.7,274 334.5,275.6 332,277.3 329.8,279.5 327.6,282.6 325.4,286.5 323.4,291.1 321.6,296.5 319.9,302.9 318.1,310.2 316.5,318.7 315,328.4 313.5,338.9 312.1,349.9 310.6,361.1 309.1,372.5 307.5,384.3" fill="none" stroke="#186c74" stroke-width="0.72" stroke-opacity="0.5"/>
<polyline points="822.8,294.5 820.9,288.7 818.8,283.5 816.2,278.8 813.5,274.9 810.4,271.9 807.1,269.4 803.3,267.4 799,265.6 794.5,263.8 789.9,262.4 784.6,261.1 777.6,260 768.3,259 756.5,257.9 742.8,256.8 727.2,255.8 709.8,255 690.6,254.5 669.1,254.3 645.1,254.5 619.7,254.7 594,255 569,255.1 544,254.8 518.3,254.4 492.9,253.9 468.9,253.6 447.3,253.6 428.2,254 410.8,254.6 395.1,255.4 381.4,256.3 369.5,257.2 360.2,258.1 353.1,259 347.5,260.1 342.7,261.5 338.1,263.1 333.5,264.9 329.4,266.9 325.6,269.4 322,272.7 318.8,276.9 315.9,281.8 313.5,287.3 311.3,293.4 309.3,300.2 307.4,307.9 305.6,316.8 303.9,326.8 302.3,337.4 300.8,348.4" fill="none" stroke="#48aaae" stroke-width="0.46" stroke-opacity="0.5"/>
<polyline points="851.3,471 850.5,459.6 849.4,446.2 848.2,432.2 846.9,419.3 845.6,407.1 844.1,394.9 842.5,382.7 840.9,370.8 839.3,359.4 837.8,348.3 836.4,337.3 834.9,326.6 833.3,316.7 831.6,307.7 829.8,299.9 827.9,293 825.8,286.8 823.3,281.2 820.5,276.1 817.2,271.7 813.6,268.1 809.5,265.3 805.3,263.1 800.7,261.2 796,259.4 791.1,257.9 785.3,256.7 778.1,255.6 768.7,254.6 756.8,253.6 743,252.6 727.4,251.7 709.9,251 690.7,250.5 669.1,250.4 645.1,250.6 619.7,251 594,251.3 569,251.4 544,251.3 518.3,250.9 492.9,250.5 468.9,250.3 447.3,250.4 428.1,250.8 410.6,251.5 394.9,252.3 381.1,253.3 369.3,254.3 359.8,255.3 352.6,256.3 346.8,257.5 341.9,259 337.2,260.7 332.5,262.6 328.2,264.8 324.1,267.6 320.8,270.8" fill="none" stroke="#48aaae" stroke-width="0.49" stroke-opacity="0.5"/>
<polyline points="816.3,319.8 814.9,311.3 813.5,304.1 812,297.9 810.5,292.7 808.9,288.3 807.2,284.7 805.4,281.9 803.8,279.9 801.9,278.3 799.1,276.6 795.3,274.8 791.4,273.1 787.6,271.7 782.9,270.4 776.5,269.2 767.4,268 755.8,266.7 742.2,265.5 726.8,264.4 709.5,263.4 690.5,262.7 669.1,262.4 645.2,262.4 619.8,262.5 594.1,262.5 569,262.4 543.9,262 518.2,261.4 492.8,260.8 468.9,260.3 447.4,260.2 428.4,260.3 411.1,260.8 395.5,261.4 381.8,262.1 370.1,262.9 360.8,263.6 354,264.3 348.8,265.2 344.3,266.2 339.8,267.6 335.5,269.1 331.7,270.7 328.4,272.7" fill="none" stroke="#186c74" stroke-width="0.48" stroke-opacity="0.5"/>
<polyline points="840.2,407.7 838.8,395.5 837.4,383.4 835.9,371.5 834.5,360.1 833.1,349 831.8,337.9 830.5,327.3 829.1,317.4 827.5,308.6 825.9,300.9 824.2,294.1 822.3,288.1 820.2,282.8 817.6,277.9 814.8,273.8 811.6,270.5 808,267.8 804.1,265.7 799.7,263.7 795.2,261.8 790.5,260.2 784.9,258.9 777.9,257.7 768.5,256.6 756.7,255.4 742.9,254.2 727.3,253.2 709.9,252.3 690.7,251.7 669.1,251.5 645.1,251.5 619.7,251.7 594,251.9 569,251.9 544,251.6 518.3,251.1 492.9,250.5 468.9,250.2 447.3,250.1 428.1,250.4 410.6,250.9 394.9,251.6 381.1,252.4 369.2,253.3 359.7,254.1 352.4,255 346.5,256.1 341.4,257.5 336.5,259.1 331.8,260.9 327.2,263 322.7,265.9 319.1,269.1" fill="none" stroke="#1f7f86" stroke-width="0.76" stroke-opacity="0.5"/>
<polyline points="838.7,460.5 837.7,447.1 836.6,433.3 835.4,420.5 834.2,408.5 832.7,396.3 831.2,384.2 829.7,372.4 828.2,361 826.8,349.8 825.5,338.8 824.1,328.3 822.6,318.5 821.1,310 819.4,302.5 817.7,296.1 816,290.6 814,285.8 811.8,281.7 809.4,278.4 807.1,275.9 804.4,274 801.1,272.2 797,270.4 792.8,268.8 788.7,267.4 783.7,266.3 777,265.2 767.8,264.1 756.1,263 742.5,261.9 726.9,261 709.6,260.2 690.6,259.6 669.1,259.4 645.2,259.6 619.8,259.8 594,260.1 569,260.1 544,259.9 518.2,259.4 492.8,259 468.9,258.7 447.4,258.6 428.3,259 411,259.6 395.4,260.4 381.8,261.2 370,262.1 360.8,263 353.9,263.9 348.7,264.9 344.3,266.1 339.9,267.7 335.6,269.3 331.9,271.1 328.6,273.2 325.7,275.9 322.9,279.5 320.3,284 318,289 315.9,294.8 314,301.4 312.1,308.9 310.3,317.6 308.6,327.5 307,338 305.5,349 303.9,360.2 302.2,371.5 300.5,383.4 298.8,395.5 297.2,407.7 295.7,419.8 294.3,432.7 293,446.5 291.8,459.9 290.8,471.4" fill="none" stroke="#2a8f96" stroke-width="0.48" stroke-opacity="0.5"/>
<polyline points="832.5,461 831.6,447.7 830.4,433.9 829.3,421.1 828,409.2 826.6,397.1 825.1,385 823.5,373.2 822,361.8 820.6,350.6 819.2,339.6 817.9,329.2 816.4,319.6 814.9,311.3 813.3,304.1 811.6,298 810,292.9 808.3,288.7 806.4,285.2 804.6,282.6 803,280.9 801.1,279.5 798.5,278.1 794.7,276.5 790.8,274.9 787.1,273.7 782.5,272.7 776.2,271.7 767.2,270.6 755.6,269.6 742,268.5 726.6,267.6 709.4,266.8 690.5,266.3 669.1,266.1 645.2,266.2 619.9,266.5 594.1,266.8 569,266.8 543.9,266.6 518.1,266.2 492.8,265.7 468.9,265.4 447.5,265.4 428.6,265.8 411.3,266.4 395.9,267.2 382.3,268.1 370.7,269 361.6,269.8 355.1,270.7 350.4,271.6 346.5,272.7 342.4,274.1 338.4,275.7 335.4,277.1 333.1,278.6 330.6,280.9" fill="none" stroke="#186c74" stroke-width="0.60" stroke-opacity="0.5"/>
<polyline points="837.4,460.6 836.5,447.2 835.4,433.4 834.3,420.6 833.1,408.6 831.8,396.4 830.3,384.3 828.9,372.5 827.4,361.1 826.1,349.9 824.8,338.9 823.5,328.3 822.1,318.6 820.6,310.1 819,302.6 817.4,296.2 815.7,290.7 813.8,285.9 811.6,281.8 809.4,278.4 807.1,275.9 804.4,273.9 801.2,272.1 797.1,270.3 792.9,268.6 788.7,267.1 783.7,265.9 777,264.8 767.8,263.6 756.1,262.5 742.5,261.3 727,260.3 709.6,259.4 690.6,258.8 669.1,258.6 645.1,258.6 619.8,258.8 594,259 569,259 544,258.7 518.2,258.2 492.9,257.7 468.9,257.3 447.4,257.2 428.3,257.5 410.9,258 395.3,258.7 381.6,259.5 369.8,260.4 360.5,261.2 353.6,262.1 348.2,263 343.7,264.2 339.1,265.7 334.7,267.4 330.8,269.2 327.2,271.4 323.9,274.4 320.9,278.2 318.1,282.9 315.6,288.1 313.4,294 311.4,300.7 309.4,308.3 307.5,317.2 305.8,327 304.1,337.6 302.5,348.6 300.9,359.7 299.1,371.1 297.3,382.9 295.6,395.1 293.9,407.3 292.3,419.4 290.9,432.3" fill="none" stroke="#2a8f96" stroke-width="0.60" stroke-opacity="0.5"/>
<polyline points="806.3,270.6 802.7,268.6 798.5,266.7 794.1,264.9 789.7,263.4 784.4,262.1 777.5,260.9 768.2,259.8 756.4,258.6 742.7,257.4 727.1,256.4 709.8,255.5 690.6,254.9 669.1,254.6 645.1,254.7 619.7,254.9 594,255 569,255 544,254.7 518.3,254.2 492.9,253.6 468.9,253.2 447.3,253.1 428.2,253.4 410.7,253.9 395.1,254.6 381.3,255.5 369.5,256.3 360,257.1 352.9,258 347.2,259 342.3,260.3 337.6,261.9 333,263.6 328.6,265.6 324.5,268.2 320.7,271.6 317.3,276 314.5,280.6" fill="none" stroke="#186c74" stroke-width="0.54" stroke-opacity="0.5"/>
<polyline points="834.4,348.8 832.7,337.8 831,327.2 829.2,317.4 827.3,308.6 825.3,301 823.2,294.4 821,288.6 818.6,283.5 815.8,279.1 812.8,275.5 809.7,272.7 806.4,270.7 802.6,269 798.2,267.5 793.7,266 789.3,264.9 784.1,264 777.2,263.3 768,262.5 756.2,261.7 742.5,261 727,260.3 709.6,259.8 690.6,259.6 669.1,259.7 645.2,260.2 619.8,260.8 594.1,261.3 569,261.7 543.9,261.8 518.2,261.7 492.8,261.5 468.9,261.5 447.5,261.8 428.5,262.5 411.2,263.4 395.7,264.5 382.1,265.7 370.5,266.9 361.4,268.1 354.9,269.2 350.1,270.5 346.2,271.9 342.2,273.6 338.3,275.4 335.4,277.1 333.3,278.8 331.5,280.9 329.6,283.8 327.7,287.6 326,292.1 324.4,297.4 322.9,303.7 321.4,310.9 320,319.4 318.7,329 317.4,339.5 316.2,350.5 314.9,361.7 313.5,373.1 312.1,384.9 310.8,397 309.5,409.1 308.3,421.1 307.3,433.9 306.3,447.6 305.5,461" fill="none" stroke="#2a8f96" stroke-width="0.73" stroke-opacity="0.5"/>
<polyline points="806.5,277.2 803.7,275.2 800.5,273.6 796.5,271.9 792.3,270.3 788.2,269.1 783.4,268 776.8,267 767.6,266 756,264.9 742.3,263.9 726.8,263 709.5,262.3 690.6,261.8 669.1,261.6 645.2,261.8 619.8,262.2 594.1,262.5 569,262.6 543.9,262.4 518.2,262 492.8,261.6 468.9,261.3 447.4,261.4 428.4,261.8 411.1,262.4 395.6,263.2 382,264.2 370.3,265.1 361.1,266.1 354.5,267 349.5,268 345.3,269.2 341.1,270.7 336.9,272.4 333.6,274 330.9,275.8 328.4,278.2 325.9,281.5 323.5,285.6 321.4,290.3 319.5,296" fill="none" stroke="#1f7f86" stroke-width="0.47" stroke-opacity="0.5"/>
<polyline points="815.3,264.4 811.3,262.3 806.4,260.5 801.5,259.1 796.5,257.9 791.3,257 785.4,256.3 778.1,255.9 768.6,255.5 756.7,255 742.9,254.6 727.2,254.3 709.8,254.2 690.6,254.4 669.1,254.9 645.1,255.7 619.7,256.6 594,257.6 569,258.3 544,258.8 518.2,259 492.8,259.2 468.9,259.6 447.4,260.3 428.4,261.3 411.1,262.6 395.7,264 382.1,265.6 370.5,267.2 361.5,268.7 355,270.3 350.5,271.8 346.8,273.6 343,275.6 339.3,277.7 336.3,279.9" fill="none" stroke="#3aa0a6" stroke-width="0.72" stroke-opacity="0.5"/>
<polyline points="827.1,285.9 824.6,280.6 821.4,275.5 817.9,271.1 814,267.6 809.7,264.9 805.3,263 800.6,261.3 795.8,259.8 790.9,258.6 785.2,257.6 778,256.8 768.6,256 756.7,255.2 742.9,254.5 727.3,253.8 709.8,253.4 690.7,253.1 669.1,253.3 645.1,253.7 619.7,254.3 594,254.9 569,255.3 544,255.4 518.3,255.3 492.9,255.1 468.9,255.2 447.4,255.5 428.3,256.2 410.9,257.1 395.3,258.2 381.6,259.4 369.9,260.7 360.6,261.9 353.8,263.1 348.6,264.4 344.2,266 339.9,267.8 335.8,269.8 332.3,271.8 329.4,274.1 326.8,276.9" fill="none" stroke="#48aaae" stroke-width="0.54" stroke-opacity="0.5"/>
<polyline points="821.8,328.7 820.2,319 818.5,310.5 816.7,303.2 814.9,297 813.1,291.7 811.1,287.3 808.9,283.5 806.7,280.7 804.7,278.8 802.4,277.4 799.4,275.9 795.5,274.4 791.4,273 787.5,271.9 782.8,270.9 776.4,270.1 767.3,269.2 755.7,268.2 742.1,267.3 726.7,266.5 709.4,265.9 690.5,265.5 669.1,265.5 645.2,265.8 619.9,266.2 594.1,266.7 569,266.9 543.9,266.8 518.1,266.5 492.8,266.2 468.9,266 447.5,266.2 428.6,266.7 411.4,267.5 396,268.4 382.4,269.4 370.8,270.5 361.8,271.5 355.4,272.5 350.9,273.5 347.2,274.7 343.2,276.3 339.4,277.9 336.7,279.3 334.8,280.7 333.2,282.4 331.3,285 329.4,288.5 327.7,292.7 326,297.9 324.3,304 322.7,311.2 321.1,319.6 319.7,329.1 318.3,339.6 316.9,350.6 315.5,361.7 313.9,373.1 312.4,385 310.9,397.1" fill="none" stroke="#48aaae" stroke-width="0.48" stroke-opacity="0.5"/>
<polyline points="820.7,288.7 818.4,283.6 815.7,279.1 812.9,275.4 809.8,272.6 806.5,270.4 802.8,268.6 798.4,267 794,265.4 789.5,264.2 784.2,263.1 777.3,262.2 768.1,261.3 756.3,260.4 742.6,259.6 727,258.8 709.7,258.2 690.6,257.8 669.1,257.8 645.1,258.1 619.8,258.6 594,259 569,259.3 544,259.2 518.2,259 492.9,258.7 468.9,258.6 447.4,258.8 428.4,259.3 411,260.1 395.5,261.1 381.8,262.1 370.1,263.2 360.9,264.3 354.2,265.4 349.1,266.5 344.9,267.9 340.6,269.6 336.5,271.4 333.1,273.2 330.3,275.2 327.8,277.8 325.4,281.2 323.2,285.4 321.2,290.2 319.3,295.8 317.6,302.3 316,309.8 314.4,318.4 312.9,328.1 311.6,338.7 310.2,349.7 308.8,360.8 307.3,372.2 305.8,384.1 304.3,396.2 302.8,408.4 301.6,420.4 300.4,433.2 299.3,447.1 298.3,460.4" fill="none" stroke="#3aa0a6" stroke-width="0.59" stroke-opacity="0.5"/>
<polyline points="832.7,396.3 831.3,384.2 829.9,372.3 828.5,360.9 827.2,349.8 825.9,338.7 824.7,328.2 823.3,318.4 821.8,309.8 820.2,302.3 818.6,295.8 816.9,290.2 815,285.3 812.8,281 810.4,277.5 808,274.8 805.2,272.7 801.8,270.8 797.7,268.9 793.4,267.1 789.1,265.6 784,264.3 777.2,263.1 768,262 756.3,260.8 742.6,259.6 727,258.5 709.7,257.6 690.6,257 669.1,256.7 645.1,256.7 619.7,256.9 594,257.1 569,257 544,256.7 518.3,256.2 492.9,255.6 468.9,255.2 447.4,255.1 428.2,255.3 410.8,255.8 395.2,256.5 381.5,257.3 369.6,258.1 360.3,258.9 353.2,259.8 347.6,260.7 342.9,262 338.2,263.5 333.7,265.1 329.5,267 325.6,269.5 322,272.7 318.7,276.8 315.7,281.7 313.2,287.2 310.9,293.2 308.8,300 306.8,307.8 304.8,316.7 303,326.6 301.4,337.3 299.7,348.3 298,359.3 296.2,370.7 294.4,382.5 292.6,394.7" fill="none" stroke="#48aaae" stroke-width="0.54" stroke-opacity="0.5"/>
<polyline points="850.9,459.5 849.6,446.1 848.1,432.3 846.5,419.3 844.9,407.2 843.1,395 841.2,382.9 839.3,371 837.5,359.7 835.7,348.6 834,337.6 832.2,327 830.4,317.2 828.4,308.4 826.3,300.8 824.2,294.1 821.9,288.3 819.4,283.1 816.5,278.6 813.5,274.9 810.2,272.1 806.7,270 802.9,268.4 798.4,266.9 793.9,265.5 789.4,264.4 784.1,263.6 777.3,262.8 768,262.1 756.2,261.4 742.5,260.7 727,260.1 709.6,259.7 690.6,259.5 669.1,259.7 645.2,260.1 619.8,260.8 594.1,261.4 569,261.8 543.9,261.9 518.2,261.9 492.8,261.8 468.9,261.8 447.5,262.2 428.5,262.9 411.2,263.8 395.7,265 382.1,266.2 370.5,267.5 361.4,268.7 355,269.9 350.3,271.2 346.5,272.6 342.5,274.4 338.7,276.2 335.9,277.9 333.9,279.6 332.3,281.6 330.5,284.4 328.7,288.1 327.1,292.5 325.6,297.7 324.1,304 322.7,311.2 321.3,319.8" fill="none" stroke="#3aa0a6" stroke-width="0.46" stroke-opacity="0.5"/>
<polyline points="842.6,479.9 842,471.8 841.1,460.3 840,446.9 838.8,433.1 837.6,420.3 836.2,408.2 834.7,396.1 833.1,384 831.4,372.1 829.9,360.7 828.4,349.6 826.9,338.6 825.4,328.1 823.9,318.3 822.2,309.7 820.4,302.3 818.6,295.8 816.8,290.3 814.7,285.5 812.3,281.3 809.9,278 807.4,275.6 804.6,273.7 801.2,272 797.1,270.3 792.8,268.7 788.7,267.5 783.6,266.4 777,265.4 767.8,264.4 756.1,263.4 742.4,262.5 726.9,261.6 709.6,260.9 690.6,260.5 669.1,260.4 645.2,260.6 619.8,261 594.1,261.3 569,261.5 543.9,261.3 518.2,261 492.8,260.6 468.9,260.4 447.4,260.5 428.4,260.9 411.1,261.6 395.6,262.5 381.9,263.4 370.2,264.4 361,265.4 354.4,266.4 349.3,267.5 345.2,268.7 340.9,270.3 336.8,272 333.4,273.7 330.6,275.6 328.1,278 325.7,281.3 323.3,285.5 321.2,290.3 319.4,295.8 317.6,302.3 315.8,309.7 314.1,318.3 312.6,328.1 311.1,338.6 309.6,349.6 308.1,360.7 306.6,372.1 304.9,384 303.3,396.1 301.8,408.2 300.4,420.3 299.2,433.1 298,446.9 296.9,460.3 296,471.8 295.4,479.9" fill="none" stroke="#125a60" stroke-width="1.6" stroke-opacity="0.6"/>
<polyline points="841,480 840.4,471.9 839.5,460.4 838.4,447.1 837.2,433.3 835.9,420.4 834.5,408.4 833,396.3 831.4,384.2 829.8,372.3 828.2,361 826.7,349.8 825.3,338.8 823.8,328.3 822.3,318.6 820.6,310.1 818.8,302.7 817.1,296.3 815.2,290.9 813.2,286.2 810.9,282.2 808.6,279.1 806.3,276.8 803.8,275.1 800.6,273.5 796.5,271.8 792.3,270.3 788.2,269.1 783.4,268 776.8,267.1 767.6,266.1 755.9,265.1 742.3,264.1 726.8,263.2 709.5,262.6 690.5,262.1 669.1,262 645.2,262.2 619.8,262.6 594.1,263 569,263.1 543.9,263 518.2,262.6 492.8,262.2 468.9,262 447.5,262.1 428.5,262.6 411.2,263.2 395.7,264.1 382.1,265.1 370.4,266.1 361.2,267.1 354.6,268 349.8,269.1 345.7,270.3 341.5,271.8 337.4,273.5 334.2,275.1 331.7,276.8 329.4,279.1 327.1,282.2 324.8,286.2 322.8,290.9 320.9,296.3 319.2,302.7 317.4,310.1 315.7,318.6 314.2,328.3 312.7,338.8 311.3,349.8 309.8,361 308.2,372.3 306.6,384.2 305,396.3 303.5,408.4 302.1,420.4 300.8,433.3 299.6,447.1 298.5,460.4 297.6,471.9 297,480" fill="none" stroke="#125a60" stroke-width="1.6" stroke-opacity="0.6"/>
<polyline points="413.5,203 403.3,203.3 388.6,203.6 371.9,204 355.8,204.8 343,206 333.7,207.7 326.2,209.7 320,212 314.8,214.8 310,218 305.9,221.4 302.7,225.1 300.2,229.2 298,234.1 296,240 294.2,246.7 292.7,254.1 291.5,262.3 290.3,271.9 289,283 287.6,296.6 286.1,312.6 284.7,329.4 283.3,345.7 282,360 280.9,371.7 279.9,381.8 278.9,391.2 278,401 277,412 275.9,425.7 274.8,441.3 273.6,456.9 272.7,470.5 272,480" fill="none" stroke="#dcf4f3" stroke-width="30.0" stroke-linejoin="round" stroke-linecap="round"/>
<polyline points="413.8,213.3 403.5,213.6 388.8,213.8 372.3,214.3 356.5,215 344.3,216.2 335.9,217.7 329.3,219.5 324.3,221.4 320,223.6 316.1,226.2 313,228.8 311,231.1 309.3,233.9 307.6,237.8 305.8,243 304.1,249.1 302.8,255.8 301.6,263.7 300.4,273.1 299.2,284.1 297.7,297.6 296.3,313.5 294.8,330.2 293.4,346.5 292.2,360.9 291,372.7 290,382.9" fill="none" stroke="#2a8f96" stroke-width="0.55" stroke-opacity="0.8"/>
<polyline points="413.5,203.2 403.3,203.1 388.6,203.1 371.9,203.3 355.8,203.8 342.8,204.7 333.4,206.1 325.6,207.9 319.2,210.1 313.6,212.7 308.4,215.8 303.8,219.3 300.1,223.1 297,227.6 294.5,232.7 292.1,238.8 289.9,245.7 288.1,253.3 286.5,261.7 285.1,271.3 283.5,282.4 281.8,296.1 280,312 278.3,328.8 276.6,345.1 275,359.4 273.6,371 272.3,381.1 271.1,390.5 269.9,400.2 268.6,411.3 267.2,425" fill="none" stroke="#3aa0a6" stroke-width="0.49" stroke-opacity="0.8"/>
<polyline points="413.6,207.1 403.4,207.2 388.7,207.4 372,207.7 356.1,208.3 343.4,209.4 334.4,210.9 327.1,212.7 321.3,214.8 316.2,217.3 311.6,220.2 307.7,223.3 304.7,226.5 302.2,230.3 300.1,234.9 297.9,240.6 296,247.1 294.4,254.4 293.1,262.6 291.7,272.1 290.3,283.1 288.7,296.7 287.1,312.6 285.6,329.4 284,345.7 282.6,360.1 281.3,371.8 280.2,381.9 279.1,391.3 278,401 276.9,412 275.7,425.6" fill="none" stroke="#3aa0a6" stroke-width="0.51" stroke-opacity="0.8"/>
<polyline points="413.7,211.6 403.5,211 388.7,210.5 372.1,210.1 356.2,210.1 343.6,210.4 334.5,211.2 327,212.3 320.8,213.9 315.4,215.8 310.2,218.3 305.5,221.1 301.6,224.3 298.3,228.2 295.3,233 292.4,238.9 289.6,245.7 287.3,253.1 285.2,261.5 283.2,271 281.1,282.1 278.8,295.7" fill="none" stroke="#48aaae" stroke-width="0.49" stroke-opacity="0.8"/>
<polyline points="413.2,192.9 403.1,193.8 388.4,194.6 371.6,195.6 355.3,197 342.1,198.8 332.3,201.1 324.3,203.8 317.7,206.9 312.2,210.5 307.3,214.4 303.1,218.6 300,223.1 297.7,227.9 295.9,233.3 294.4,239.5 293,246.4 292.1,254 291.4,262.3 290.8,271.9 290.1,283.1 289.2,296.8 288.3,312.7 287.4,329.6 286.5,345.9 285.8,360.4 285.3,372.2 284.8,382.3" fill="none" stroke="#3aa0a6" stroke-width="0.50" stroke-opacity="0.8"/>
<polyline points="413.8,214.2 403.6,214.3 388.8,214.4 372.3,214.6 356.5,215.2 344.3,216.1 335.8,217.4 329.2,219 324,220.8 319.6,222.9 315.5,225.4 312.1,227.9 309.8,230.2 307.8,233.1 305.8,237.1 303.8,242.4 301.9,248.5 300.3,255.4 298.9,263.3 297.5,272.8 296.1,283.8 294.4,297.3 292.8,313.1 291.1,329.9 289.5,346.2 288,360.6 286.7,372.3 285.5,382.4 284.3,391.8 283.2,401.5 282,412.4 280.7,426 279.4,441.6 278,457.2" fill="none" stroke="#186c74" stroke-width="0.73" stroke-opacity="0.8"/>
<polyline points="413.3,194.8 403.1,195.2 388.4,195.5 371.6,196 355.3,196.9 342,198.2 332,200.1 323.8,202.3 316.9,205.1 310.9,208.3 305.5,212 300.7,216.1 296.8,220.7 293.7,225.9 291.3,231.5 289.2,237.9 287.3,245.1 285.8,252.9 284.6,261.4 283.5,271.1 282.2,282.3 280.9,296 279.5,312 278.1,328.8 276.8,345.1 275.6,359.4 274.5,371.1 273.6,381.2 272.7,390.6 271.8,400.4 270.9,411.5 269.9,425.2 268.8,440.9 267.7,456.5" fill="none" stroke="#3aa0a6" stroke-width="0.51" stroke-opacity="0.8"/>
<polyline points="413.7,211.2 403.5,210.9 388.7,210.7 372.1,210.6 356.2,210.8 343.7,211.5 334.8,212.6 327.6,213.9 321.6,215.6 316.5,217.7 311.7,220.3 307.5,223.1 304.1,226.1 301.3,229.8 298.7,234.4 296.2,240.1 293.8,246.6 291.8,253.9 290.1,262.2 288.4,271.7 286.5,282.7 284.6,296.3 282.6,312.2 280.6,329 278.7,345.3 276.9,359.5" fill="none" stroke="#3aa0a6" stroke-width="0.54" stroke-opacity="0.8"/>
<polyline points="413.2,191.9 403.1,192.3 388.3,192.8 371.5,193.5 355.1,194.5 341.7,195.9 331.6,197.9 323.2,200.4 316.1,203.3 310,206.8 304.5,210.6 299.6,215 295.6,219.9 292.6,225.3 290.2,231.1 288.2,237.6 286.4,244.9 285,252.7 283.9,261.3 282.9,271" fill="none" stroke="#186c74" stroke-width="0.54" stroke-opacity="0.8"/>
<polyline points="413.5,202.1 403.3,202.9 388.6,203.7 371.9,204.6 355.9,205.9 343.2,207.6 334.1,209.7 327,212.2 321.3,214.9 316.6,217.9 312.5,221.3 309.1,224.8 306.9,228.1 305.2,231.8 303.8,236.3 302.4,242 301.1,248.4 300.3,255.4 299.6,263.4 298.9,272.9 298.2,284 297.2,297.6 296.3,313.5 295.3,330.3 294.5,346.6 293.7,361" fill="none" stroke="#48aaae" stroke-width="0.51" stroke-opacity="0.8"/>
<polyline points="413.3,196 403.2,196.1 388.4,196.3 371.6,196.6 355.3,197.2 342,198.4 332,200 323.8,202.1 316.7,204.7 310.6,207.8 305,211.3 300,215.4 295.8,220 292.4,225.2 289.8,230.9 287.4,237.4 285.3,244.6 283.6,252.5 282.2,261.1 280.9,270.8 279.4,281.9 277.9,295.7 276.3,311.7 274.7,328.5 273.2,344.8 271.8,359.1 270.5,370.8" fill="none" stroke="#186c74" stroke-width="0.46" stroke-opacity="0.8"/>
<polyline points="413.5,201.1 403.3,201.3 388.5,201.6 371.8,202.1 355.7,202.8 342.7,204 333.3,205.7 325.6,207.8 319.2,210.2 313.8,213.1 308.8,216.4 304.5,220 301,223.9 298.4,228.3 296.1,233.3 294,239.4 292.1,246.2 290.6,253.7 289.4,262.1 288.2,271.6 286.9,282.8 285.4,296.4 284,312.4 282.5,329.2 281.1,345.5 279.8,359.8 278.7,371.5 277.7,381.6 276.7,391 275.7,400.8 274.8,411.8" fill="none" stroke="#3aa0a6" stroke-width="0.54" stroke-opacity="0.8"/>
<polyline points="413.6,205.5 403.4,205.7 388.6,206 372,206.5 356,207.2 343.3,208.4 334.2,210 326.9,212 321,214.3 316,216.9 311.4,220 307.6,223.2 304.7,226.5 302.3,230.3 300.3,235 298.3,240.7 296.5,247.3 295.1,254.5 293.9,262.7 292.7,272.2 291.4,283.3 290,296.9 288.5,312.8 287,329.6 285.7,345.9 284.4,360.2 283.2,372 282.2,382.1 281.3,391.5 280.3,401.2 279.4,412.2 278.3,425.8 277.1,441.5" fill="none" stroke="#186c74" stroke-width="0.48" stroke-opacity="0.8"/>
<polyline points="413.7,210.7 403.5,210.9 388.8,211 372.2,211.4 356.3,212 343.9,213 335.2,214.5 328.3,216.2 322.8,218.2 318.1,220.5 313.8,223.2 310.3,226 307.7,228.7 305.6,232 303.6,236.2 301.5,241.7 299.7,248 298.2,255 296.8,263.1 295.5,272.5 294.1,283.6 292.6,297.1 291,313 289.4,329.8 287.9,346.1 286.5,360.4 285.2,372.2" fill="none" stroke="#1f7f86" stroke-width="0.78" stroke-opacity="0.8"/>
<polyline points="413.7,209.6 403.5,209.8 388.7,210 372.1,210.4 356.3,211.1 343.8,212.2 335,213.7 328,215.5 322.5,217.5 317.8,219.9 313.5,222.7 309.9,225.6 307.3,228.4 305.2,231.8 303.2,236.1 301.3,241.6 299.4,248 298,255 296.7,263.1 295.5,272.5 294.1,283.6 292.6,297.1 291.1,313 289.6,329.8 288.1,346.1 286.8,360.4 285.6,372.2 284.5,382.3 283.4,391.7 282.4,401.4" fill="none" stroke="#1f7f86" stroke-width="0.78" stroke-opacity="0.8"/>
<polyline points="413.6,206.9 403.4,207 388.7,207 372,207.3 356,207.8 343.4,208.8 334.3,210.2 326.9,211.9 320.9,214 315.8,216.5 311,219.4 306.9,222.5 303.7,225.8 301.1,229.7 298.8,234.4 296.6,240.2 294.5,246.8 292.9,254.1 291.4,262.3 290,271.9 288.5,282.9 286.9,296.6 285.2,312.5 283.5,329.3 281.9,345.5 280.4,359.9 279.1,371.6 277.9,381.6 276.7,391 275.5,400.8 274.3,411.8" fill="none" stroke="#48aaae" stroke-width="0.79" stroke-opacity="0.8"/>
<polyline points="413.2,192.9 403.1,193.3 388.3,193.8 371.5,194.4 355.2,195.4 341.8,196.8 331.8,198.8 323.5,201.2 316.4,204.1 310.4,207.5 305,211.3 300.2,215.5 296.2,220.3 293.2,225.6 290.9,231.3 288.8,237.8 287,245 285.6,252.8 284.5,261.4 283.5,271.1 282.4,282.3 281.1,296 279.8,312" fill="none" stroke="#48aaae" stroke-width="0.51" stroke-opacity="0.8"/>
<polyline points="413.3,193.8 403.1,194.5 388.4,195.2 371.6,196.1 355.3,197.4 342.1,199.1 332.3,201.3 324.3,203.9 317.7,206.9 312.1,210.3 307.2,214.2 302.9,218.3 299.6,222.8 297.1,227.6 295.2,233 293.6,239.2 292.1,246.2 291,253.8 290.2,262.2 289.5,271.8 288.7,283 287.7,296.6 286.6,312.6 285.6,329.5 284.7,345.8 283.9,360.2 283.2,372 282.6,382.1 282.1,391.6 281.6,401.3 281.1,412.3 280.4,426" fill="none" stroke="#48aaae" stroke-width="0.75" stroke-opacity="0.8"/>
<polyline points="413.4,198.2 403.2,198.4 388.5,198.7 371.7,199.1 355.5,199.8 342.4,201 332.6,202.7 324.6,204.8 317.9,207.4 312.2,210.4 306.9,213.8 302.2,217.7 298.5,222 295.5,226.8 293.1,232.2 290.9,238.4 288.9,245.5 287.3,253.1 286,261.6 284.8,271.2 283.5,282.4 282,296.1 280.5,312.1 279,328.9 277.6,345.2" fill="none" stroke="#186c74" stroke-width="0.48" stroke-opacity="0.8"/>
<polyline points="413.4,200.5 403.3,200.8 388.5,201.2 371.8,201.8 355.7,202.7 342.7,204 333.3,205.8 325.6,208 319.3,210.5 314,213.5 309.1,216.8 304.9,220.5 301.7,224.4 299.2,228.7 297.1,233.7 295.2,239.7 293.4,246.5 292,253.9 290.9,262.3 289.8,271.8 288.7,283" fill="none" stroke="#1f7f86" stroke-width="0.51" stroke-opacity="0.8"/>
<polyline points="413.7,209.8 403.5,209.7 388.7,209.6 372.1,209.6 356.2,210 343.6,210.8 334.7,212 327.4,213.6 321.6,215.4 316.5,217.7 311.8,220.4 307.6,223.3 304.4,226.4 301.8,230 299.4,234.6 297,240.3 294.8,246.9 292.9,254.1 291.3,262.3 289.8,271.8 288.1,282.9 286.3,296.5 284.4,312.4" fill="none" stroke="#2a8f96" stroke-width="0.62" stroke-opacity="0.8"/>
<polyline points="413.4,199.7 403.2,200.2 388.5,200.8 371.8,201.5 355.7,202.5 342.7,203.9 333.3,205.9 325.7,208.2 319.5,210.8 314.2,213.9 309.5,217.3 305.4,221 302.4,224.9 300.1,229.1 298.2,234.1 296.3,240.1 294.7,246.8 293.5,254.2 292.5,262.5 291.6,272 290.6,283.2 289.4,296.8 288.2,312.7 286.9,329.6 285.8,345.9 284.8,360.2" fill="none" stroke="#3aa0a6" stroke-width="0.64" stroke-opacity="0.8"/>
<polyline points="413.5,202.4 403.3,203 388.6,203.6 371.9,204.3 355.9,205.4 343.1,206.9 334,208.9 326.7,211.2 320.8,213.8 315.9,216.7 311.5,220 307.8,223.4 305.2,226.9 303.2,230.8 301.5,235.4 299.8,241.2 298.4,247.7 297.3,254.8 296.4,263 295.5,272.5 294.5,283.6 293.4,297.2 292.2,313.1 291.1,329.9 290,346.2 289,360.6 288.2,372.5 287.5,382.6 286.9,392 286.2,401.7 285.6,412.7 284.8,426.3 284,442 283.1,457.6 282.5,471.2" fill="none" stroke="#48aaae" stroke-width="0.67" stroke-opacity="0.8"/>
<polyline points="413.2,193.1 403.1,193.3 388.3,193.5 371.5,194 355.1,194.7 341.7,195.9 331.5,197.7 323.1,199.9 315.8,202.7 309.5,205.9 303.8,209.7 298.6,213.9 294.2,218.9 290.8,224.4 288.2,230.3 285.8,236.9 283.7,244.3 282.1,252.2 280.8,260.9 279.5,270.6 278.2,281.8 276.7,295.6 275.2,311.6 273.7,328.4" fill="none" stroke="#3aa0a6" stroke-width="0.79" stroke-opacity="0.8"/>
<polyline points="413.2,191.8 403.1,192.3 388.3,192.8 371.5,193.5 355.1,194.6 341.7,196.1 331.6,198.1 323.3,200.6 316.2,203.6 310.2,207 304.8,210.9 299.9,215.3 296,220.2 293,225.5 290.7,231.3 288.7,237.8 287,245 285.7,252.8 284.6,261.4 283.7,271.1 282.6,282.3 281.4,296 280.2,312 279,328.9 277.9,345.2 276.8,359.5 275.9,371.3 275.2,381.4 274.4,390.8" fill="none" stroke="#2a8f96" stroke-width="0.61" stroke-opacity="0.8"/>
<polyline points="413.2,191.7 403.1,192.4 388.3,193.1 371.5,194 355.2,195.2 341.8,196.9 331.8,199.1 323.6,201.8 316.8,204.9 311,208.4 305.8,212.4 301.3,216.7 297.7,221.4 295.1,226.6 293.1,232.2 291.3,238.6 289.8,245.7 288.7,253.4 287.9,261.9 287.1,271.5 286.3,282.7 285.3,296.4 284.2,312.4 283.2,329.2 282.2,345.6 281.4,359.9 280.7,371.7 280.1,381.9 279.6,391.3 279.1,401.1 278.5,412.1 277.9,425.8 277.1,441.5 276.5,457.1" fill="none" stroke="#1f7f86" stroke-width="0.59" stroke-opacity="0.8"/>
<polyline points="413.5,204.5 403.3,204.6 388.6,204.8 371.9,205.1 355.9,205.7 343.1,206.8 333.8,208.3 326.4,210.2 320.2,212.4 314.9,215.1 310.1,218.1 305.9,221.4 302.6,225 300,229.1 297.7,234 295.5,239.8 293.5,246.6 291.9,253.9 290.5,262.2 289.2,271.8 287.8,282.9 286.2,296.5 284.6,312.4 283.1,329.2 281.5,345.5 280.1,359.8 278.9,371.5 277.7,381.6 276.6,391 275.6,400.8 274.5,411.8 273.3,425.5 272,441.1 270.7,456.7" fill="none" stroke="#1f7f86" stroke-width="0.79" stroke-opacity="0.8"/>
<polyline points="413.4,200.6 403.3,201.1 388.5,201.6 371.8,202.3 355.7,203.3 342.8,204.7 333.5,206.7 325.9,208.9 319.8,211.5 314.6,214.5 309.9,217.9 306,221.5 303,225.3 300.7,229.5 298.8,234.4 297,240.3 295.4,247 294.2,254.3 293.2,262.6 292.2,272.1 291.2,283.3" fill="none" stroke="#2a8f96" stroke-width="0.68" stroke-opacity="0.8"/>
<polyline points="413.6,205.9 403.4,206 388.6,206.1 372,206.3 356,206.9 343.3,207.9 334.1,209.4 326.7,211.2 320.6,213.3 315.4,215.9 310.6,218.8 306.5,222 303.2,225.5 300.6,229.4 298.3,234.2 296.1,240 294,246.7 292.4,254 291,262.3 289.6,271.8 288.1,282.9 286.5,296.5 284.9,312.4 283.2,329.2" fill="none" stroke="#3aa0a6" stroke-width="0.63" stroke-opacity="0.8"/>
<polyline points="413.8,214.3 403.5,213.7 388.8,213.2 372.2,212.8 356.4,212.8 343.9,213.2 335.1,213.9 327.9,215 322,216.4 316.8,218.2 311.9,220.6 307.5,223.1 304,226 300.9,229.6 298,234.1 295.2,239.7 292.5,246.3 290.3,253.6 288.2,261.9 286.2,271.4 284.1,282.5 281.9,296.1 279.6,312 277.4,328.7 275.2,345 273.1,359.2 271.2,370.8 269.4,380.8 267.6,390.1" fill="none" stroke="#3aa0a6" stroke-width="0.74" stroke-opacity="0.8"/>
<polyline points="413.6,208.2 403.4,208.1 388.7,208.2 372,208.3 356.1,208.8 343.5,209.7 334.4,211.1 327.2,212.7 321.2,214.7 316.1,217.1 311.4,219.9 307.3,222.9 304.1,226.1 301.5,229.9 299.2,234.5 296.9,240.3 294.8,246.9 293.1,254.1 291.6,262.4 290.1,271.9 288.5,283 286.8,296.6 285.1,312.5" fill="none" stroke="#48aaae" stroke-width="0.56" stroke-opacity="0.8"/>
<polyline points="413.3,195 403.1,195.6 388.4,196.2 371.6,196.9 355.4,198 342.2,199.6 332.4,201.6 324.4,204.1 317.7,207 312.1,210.3 307,214 302.6,218.1 299.2,222.5 296.5,227.3 294.5,232.7 292.7,239 291,246 289.8,253.6 288.9,262 288,271.6 287,282.8 285.9,296.5 284.7,312.4 283.6,329.3 282.5,345.6 281.5,360 280.7,371.7 279.9,381.8 279.3,391.3 278.7,401 278,412.1 277.2,425.8" fill="none" stroke="#3aa0a6" stroke-width="0.64" stroke-opacity="0.8"/>
<polyline points="413.3,194.5 403.1,194.8 388.4,195.2 371.6,195.7 355.3,196.6 341.9,197.9 332,199.8 323.8,202.1 316.8,204.8 310.8,208.1 305.4,211.8 300.5,215.9 296.6,220.6 293.5,225.8 291.1,231.4 289,237.8 287.1,245.1 285.6,252.8 284.4,261.4 283.3,271.1 282.1,282.2 280.7,296 279.4,312 278,328.8 276.7,345.1 275.5,359.4 274.4,371.1" fill="none" stroke="#186c74" stroke-width="0.76" stroke-opacity="0.8"/>
<polyline points="413.3,195.5 403.1,195.7 388.4,195.9 371.6,196.3 355.3,196.9 342,198.1 332,199.8 323.7,201.9 316.6,204.5 310.5,207.6 305,211.2 299.9,215.3 295.7,220 292.4,225.2 289.8,230.9 287.4,237.3 285.3,244.6 283.6,252.5 282.3,261.1 281,270.8 279.6,282 278,295.7 276.4,311.7" fill="none" stroke="#2a8f96" stroke-width="0.49" stroke-opacity="0.8"/>
<polyline points="413.5,201.9 403.3,201.8 388.5,201.8 371.8,201.9 355.7,202.4 342.6,203.3 333,204.6 325.1,206.4 318.5,208.6 312.7,211.3 307.4,214.4 302.5,218 298.6,222.1 295.3,226.7 292.7,232 290.1,238.2 287.9,245.2 286,252.9 284.4,261.4 282.9,271 281.2,282.1 279.5,295.8 277.7,311.8 275.9,328.6 274.2,344.9 272.6,359.1 271.1,370.8 269.8,380.8 268.5,390.2 267.2,400 265.9,411" fill="none" stroke="#3aa0a6" stroke-width="0.48" stroke-opacity="0.8"/>
<polyline points="413.3,195.7 403.2,196.3 388.4,197 371.7,197.8 355.4,198.9 342.3,200.6 332.6,202.7 324.7,205.1 318.2,208.1 312.7,211.4 307.8,215.1 303.6,219.1 300.3,223.4 297.9,228 296,233.3 294.3,239.5 292.8,246.4 291.6,253.9 290.8,262.3 290,271.8 289,283 288,296.7 286.9,312.6 285.8,329.5 284.8,345.8" fill="none" stroke="#48aaae" stroke-width="0.72" stroke-opacity="0.8"/>
<polyline points="413.7,212 403.5,211.7 388.8,211.4 372.2,211.2 356.3,211.4 343.8,212 334.9,213 327.7,214.3 321.8,215.9 316.7,218 311.8,220.5 307.6,223.2 304.2,226.2 301.3,229.8 298.7,234.4 296.1,240 293.7,246.6 291.6,253.9 289.8,262.1 288,271.6 286.2,282.7 284.1,296.3 282.1,312.2 280,329 278.1,345.2" fill="none" stroke="#48aaae" stroke-width="0.56" stroke-opacity="0.8"/>
<polyline points="413.3,196.2 403.2,196.6 388.4,197 371.6,197.5 355.4,198.4 342.2,199.7 332.4,201.6 324.3,203.8 317.6,206.6 311.8,209.7 306.5,213.3 301.9,217.3 298.1,221.7 295.2,226.7 293,232.1 290.9,238.4 289,245.5 287.6,253.2 286.4,261.7 285.3,271.3 284.1,282.5 282.8,296.2 281.4,312.1 280.1,329 278.8,345.3 277.6,359.6" fill="none" stroke="#1f7f86" stroke-width="0.49" stroke-opacity="0.8"/>
<polyline points="413.6,205.8 403.4,206 388.6,206.1 372,206.4 356,207.1 343.3,208.2 334.1,209.7 326.8,211.5 320.8,213.7 315.6,216.3 310.9,219.2 306.9,222.4 303.7,225.8 301.2,229.7 299,234.5 296.9,240.3 294.9,246.9 293.4,254.2 292,262.4 290.7,271.9 289.3,283 287.7,296.6 286.1,312.6 284.6,329.4 283,345.6 281.7,360 280.4,371.7 279.3,381.8 278.2,391.2 277.1,400.9 276,411.9 274.8,425.6 273.5,441.2 272.3,456.8" fill="none" stroke="#48aaae" stroke-width="0.67" stroke-opacity="0.8"/>
<polyline points="413.4,197.3 403.2,197.5 388.4,197.8 371.7,198.3 355.4,199.1 342.3,200.4 332.5,202.1 324.5,204.3 317.7,206.9 311.9,210 306.6,213.5 302,217.4 298.2,221.8 295.2,226.6 292.8,232.1 290.6,238.3 288.7,245.4 287.2,253.1 285.9,261.6 284.8,271.2 283.5,282.4 282,296.1 280.6,312.1 279.1,328.9 277.8,345.2 276.5,359.5 275.4,371.2 274.4,381.3 273.4,390.7 272.5,400.5 271.5,411.5" fill="none" stroke="#3aa0a6" stroke-width="0.80" stroke-opacity="0.8"/>
<polyline points="413.3,195 403.1,195.6 388.4,196.3 371.6,197.2 355.4,198.3 342.2,200 332.5,202.1 324.6,204.6 318,207.6 312.5,211 307.6,214.7 303.3,218.8 300,223.1 297.6,227.9 295.7,233.2 294,239.4 292.5,246.3 291.4,253.8 290.5,262.2 289.7,271.8 288.8,283 287.8,296.6 286.7,312.6 285.7,329.5 284.7,345.8 283.8,360.2 283,372" fill="none" stroke="#48aaae" stroke-width="0.70" stroke-opacity="0.8"/>
<polyline points="413.4,198.9 403.2,199.6 388.5,200.4 371.8,201.3 355.7,202.5 342.8,204.1 333.4,206.3 325.9,208.7 319.8,211.5 314.7,214.7 310.2,218.2 306.4,222 303.6,225.8 301.6,229.9 300,234.8 298.4,240.7 297,247.4 296,254.6 295.2,262.9 294.5,272.4 293.6,283.5 292.6,297.1 291.6,313 290.6,329.9 289.6,346.2 288.8,360.6 288.1,372.4" fill="none" stroke="#186c74" stroke-width="0.45" stroke-opacity="0.8"/>
<polyline points="413.5,204.8 403.4,205.1 388.6,205.4 372,205.8 356,206.6 343.2,207.9 334.1,209.5 326.8,211.5 320.8,213.8 315.8,216.5 311.2,219.6 307.3,222.9 304.3,226.3 302,230.1 300,234.8 298,240.6 296.2,247.2 294.8,254.4 293.6,262.6 292.4,272.1 291.2,283.2 289.8,296.8 288.3,312.7 286.9,329.6 285.5,345.9 284.3,360.2" fill="none" stroke="#186c74" stroke-width="0.65" stroke-opacity="0.8"/>
<polyline points="413.3,193.5 403.1,193.8 388.4,194.2 371.5,194.8 355.2,195.7 341.8,197.1 331.8,199 323.5,201.4 316.5,204.2 310.5,207.5 305,211.3 300.1,215.5 296.1,220.3 293.1,225.5 290.7,231.2 288.6,237.7 286.7,245 285.3,252.8 284.1,261.4 283.1,271 281.9,282.2 280.6,295.9 279.2,311.9 277.9,328.8 276.6,345.1 275.5,359.4 274.5,371.1 273.6,381.2 272.7,390.6 271.9,400.4 271.1,411.5" fill="none" stroke="#1f7f86" stroke-width="0.80" stroke-opacity="0.8"/>
<polyline points="413.2,191.8 403.1,192.8 388.3,193.8 371.5,195 355.3,196.5 342,198.5 332.2,201 324.3,203.9 317.8,207.2 312.5,210.9 307.7,214.9 303.7,219.2 300.8,223.7 298.7,228.5 297.2,233.8 295.9,240 294.7,246.8 294,254.3 293.5,262.6 293.1,272.2 292.5,283.4 291.8,297 291.1,313" fill="none" stroke="#2a8f96" stroke-width="0.59" stroke-opacity="0.8"/>
<polyline points="413.4,199.8 403.2,199.8 388.5,199.8 371.7,200 355.5,200.5 342.4,201.5 332.7,203 324.7,204.9 317.9,207.2 312,210 306.5,213.3 301.6,217.1 297.6,221.3 294.3,226.2 291.7,231.6 289.2,237.9 287,245 285.2,252.8 283.6,261.3 282.2,270.9 280.6,282.1 278.9,295.8 277.2,311.8 275.5,328.6 273.9,344.8 272.3,359.1 270.9,370.8 269.7,380.8 268.5,390.2" fill="none" stroke="#48aaae" stroke-width="0.75" stroke-opacity="0.8"/>
<polyline points="413.3,195.4 403.1,195.9 388.4,196.3 371.6,196.9 355.4,197.9 342.1,199.3 332.3,201.2 324.2,203.5 317.5,206.3 311.7,209.6 306.5,213.2 301.9,217.3 298.2,221.8 295.3,226.7 293.1,232.2 291.1,238.5 289.3,245.6 288,253.2 286.9,261.7 285.8,271.4 284.7,282.5 283.4,296.2 282.1,312.2 280.8,329 279.6,345.3 278.5,359.7 277.5,371.4 276.7,381.5 275.9,391 275.1,400.7 274.3,411.8 273.4,425.5" fill="none" stroke="#48aaae" stroke-width="0.77" stroke-opacity="0.8"/>
<polyline points="413.6,205.1 403.4,205.2 388.6,205.3 371.9,205.5 355.9,206.1 343.1,207.1 333.9,208.5 326.4,210.3 320.2,212.4 314.9,215 310,218 305.7,221.3 302.4,224.8 299.6,228.9 297.3,233.8 295,239.7 292.9,246.4 291.2,253.8 289.8,262.1 288.4,271.7 286.9,282.8 285.3,296.4 283.6,312.3 281.9,329.1 280.3,345.4 278.8,359.7 277.5,371.4 276.3,381.5 275.1,390.9 274,400.6 272.8,411.7 271.5,425.3" fill="none" stroke="#48aaae" stroke-width="0.50" stroke-opacity="0.8"/>
<polyline points="413.5,203.4 403.3,203.6 388.6,203.9 371.9,204.4 355.9,205.2 343.1,206.4 333.8,208.1 326.3,210.1 320.2,212.5 315,215.2 310.3,218.4 306.2,221.8 303.1,225.4 300.7,229.5 298.6,234.3 296.5,240.2 294.7,246.8 293.3,254.2 292.1,262.4 290.9,272 289.6,283.1 288.2,296.7 286.8,312.6 285.3,329.4 284,345.7 282.7,360.1 281.6,371.8 280.6,381.9 279.6,391.3 278.7,401 277.8,412.1 276.7,425.7 275.5,441.4" fill="none" stroke="#2a8f96" stroke-width="0.54" stroke-opacity="0.8"/>
<polyline points="413.4,200.8 403.3,201.7 388.6,202.6 371.9,203.7 355.9,205.1 343.1,206.9 334,209.2 326.9,211.8 321.2,214.6 316.5,217.8 312.4,221.3 309.1,224.8 307,228.2 305.5,231.9 304.2,236.5 302.9,242.1 301.8,248.5 301,255.5 300.5,263.6 299.9,273 299.3,284.2" fill="none" stroke="#2a8f96" stroke-width="0.68" stroke-opacity="0.8"/>
<polyline points="413.5,202.8 403.3,202.5 388.5,202.3 371.8,202.2 355.7,202.4 342.6,203.1 332.9,204.2 324.9,205.8 318.1,207.8 312.1,210.4 306.6,213.4 301.5,216.9 297.2,221 293.6,225.8 290.6,231.2 287.9,237.5 285.3,244.6 283.2,252.4 281.4,261 279.7,270.6" fill="none" stroke="#2a8f96" stroke-width="0.59" stroke-opacity="0.8"/>
<polyline points="413.4,200.5 403.3,201.1 388.5,201.7 371.8,202.5 355.7,203.6 342.9,205.1 333.6,207.1 326.1,209.5 320.1,212.1 315,215.2 310.5,218.6 306.6,222.2 303.8,225.9 301.7,230 300,234.8 298.3,240.7 296.8,247.3 295.7,254.6 294.8,262.8 294,272.3 293,283.4 291.9,297 290.8,313 289.7,329.8 288.6,346.1 287.7,360.5 286.8,372.3 286.2,382.5 285.5,391.9 284.9,401.6" fill="none" stroke="#3aa0a6" stroke-width="0.53" stroke-opacity="0.8"/>
<polyline points="413.8,213.4 403.5,213 388.8,212.6 372.2,212.5 356.4,212.6 343.9,213.1 335.1,214.1 328,215.3 322.2,216.9 317.2,218.8 312.4,221.3 308.2,223.9 304.9,226.7 302.1,230.2 299.5,234.6 296.9,240.3 294.4,246.8 292.3,254 290.5,262.2 288.7,271.7 286.8,282.8 284.7,296.3 282.6,312.2 280.5,329 278.5,345.3" fill="none" stroke="#186c74" stroke-width="0.68" stroke-opacity="0.8"/>
<polyline points="413.5,201.6 403.3,202.3 388.6,203.1 371.9,204 355.9,205.3 343.1,207 334,209.1 326.8,211.5 321,214.2 316.2,217.3 312,220.7 308.5,224.1 306.1,227.6 304.4,231.4 302.9,236 301.4,241.7 300.1,248.1 299.2,255.2 298.5,263.3 297.8,272.8 296.9,283.9 296,297.4 295,313.3 294,330.2 293.1,346.5 292.3,360.9 291.6,372.8" fill="none" stroke="#48aaae" stroke-width="0.68" stroke-opacity="0.8"/>
<polyline points="413.3,195.4 403.2,196.1 388.4,196.9 371.7,197.8 355.4,199 342.3,200.7 332.6,202.8 324.8,205.4 318.4,208.3 312.9,211.7 308.1,215.4 304,219.4 300.8,223.7 298.5,228.3 296.7,233.6 295,239.7 293.6,246.6 292.6,254 291.8,262.4 291,272 290.2,283.1 289.2,296.8 288.1,312.7 287.1,329.6 286.2,345.9 285.3,360.3 284.6,372.1 284.1,382.3 283.5,391.7 283,401.4 282.5,412.5" fill="none" stroke="#186c74" stroke-width="0.71" stroke-opacity="0.8"/>
<polyline points="413.6,205.4 403.4,205.6 388.6,205.8 372,206.2 356,206.9 343.3,208 334.1,209.5 326.8,211.4 320.8,213.7 315.6,216.3 311,219.3 306.9,222.5 303.9,225.9 301.4,229.8 299.2,234.6 297.1,240.4 295.2,247 293.7,254.2 292.4,262.5 291.2,272 289.8,283.1 288.3,296.7 286.7,312.6 285.2,329.4 283.7,345.7 282.4,360" fill="none" stroke="#48aaae" stroke-width="0.75" stroke-opacity="0.8"/>
<polyline points="413.5,204.6 403.3,204.9 388.6,205.2 371.9,205.6 355.9,206.4 343.2,207.6 334,209.3 326.7,211.2 320.7,213.5 315.6,216.2 311,219.3 307,222.6 304,226 301.6,230 299.6,234.7 297.6,240.5 295.7,247.1 294.3,254.3 293.1,262.6 291.9,272.1 290.6,283.2 289.2,296.8 287.7,312.7 286.3,329.5 284.9,345.8 283.6,360.1 282.5,371.9 281.5,382 280.5,391.4 279.6,401.1" fill="none" stroke="#125a60" stroke-width="1.6" stroke-opacity="0.6"/>
<polyline points="413.6,205.7 403.4,205.9 388.6,206.2 372,206.7 356,207.4 343.3,208.6 334.3,210.3 327,212.2 321.1,214.5 316.1,217.1 311.6,220.1 307.7,223.3 304.8,226.6 302.6,230.4 300.5,235.1 298.5,240.8 296.7,247.3 295.3,254.5 294.1,262.7 292.9,272.2 291.6,283.3 290.2,296.9 288.8,312.8 287.3,329.6 285.9,345.9 284.7,360.2 283.5,372 282.5,382.1 281.6,391.5 280.6,401.2" fill="none" stroke="#125a60" stroke-width="1.6" stroke-opacity="0.6"/>
<polyline points="310.8,365.5 308.3,368.4 304.8,372.5 300.6,377.2 295.7,381.9 290.3,386 284.1,389.4 277,392.4 269.4,395.3 261.7,398.2 254.5,401.4 247.1,405.1 239.4,409.2 232,413.3 225.7,416.8 221.2,419.3" fill="none" stroke="#dcf4f3" stroke-width="11.2" stroke-linejoin="round" stroke-linecap="round"/>
<polyline points="309.4,364.3 306.8,367.1 303.3,371.1 299.1,375.7 294.3,380.2 289.1,384.1 283,387.2 276,390.1 268.5,392.9 260.7,395.8 253.3,398.9 245.8,402.6 238,406.7 230.5,410.7 224.2,414.1" fill="none" stroke="#2a8f96" stroke-width="0.75" stroke-opacity="0.8"/>
<polyline points="311.5,366.1 308.7,368.7 305,372.6 300.5,377.1 295.4,381.5 289.9,385.3 283.6,388.3 276.4,391 268.7,393.6 260.9,396.2 253.4,399.1 245.8,402.6 237.9,406.4 230.3,410.2 223.8,413.5" fill="none" stroke="#3aa0a6" stroke-width="0.72" stroke-opacity="0.8"/>
<polyline points="310,364.7 307.7,367.9 304.7,372.3 300.8,377.4 296.2,382.4 290.9,387 284.8,390.8 277.7,394.3 270.3,397.7 262.8,401.1" fill="none" stroke="#186c74" stroke-width="0.61" stroke-opacity="0.8"/>
<polyline points="309.3,364.1 306.8,367.1 303.4,371.2 299.3,375.9 294.6,380.6 289.4,384.6 283.4,387.9 276.4,391 268.9,394 261.2,397 254,400.3 246.6,404 238.9,408.3 231.5,412.4 225.2,416" fill="none" stroke="#48aaae" stroke-width="0.61" stroke-opacity="0.8"/>
<polyline points="308.9,363.8 306.3,366.7 302.7,370.7 298.5,375.2 293.7,379.6 288.6,383.3 282.7,386.4 275.7,389.2 268.1,392" fill="none" stroke="#1f7f86" stroke-width="0.58" stroke-opacity="0.8"/>
<polyline points="312.5,367 309.8,369.7 306.1,373.6 301.6,378.1 296.4,382.7 290.7,386.6 284.2,389.7 277,392.4 269.3,395 261.5,397.6 254.1,400.5 246.5,404 238.6,407.8 231.1,411.6" fill="none" stroke="#48aaae" stroke-width="0.47" stroke-opacity="0.8"/>
<polyline points="312,366.6 309,369 305.1,372.7 300.4,377 295.2,381.3 289.5,384.8 283.2,387.5 276,390 268.2,392.3 260.4,394.6" fill="none" stroke="#3aa0a6" stroke-width="0.47" stroke-opacity="0.8"/>
<polyline points="314,368.3 311.1,370.8 307.3,374.6 302.6,379.1 297.2,383.6 291.3,387.5 284.6,390.5 277.2,393.1 269.5,395.5 261.6,398 254.2,400.7 246.6,404 238.6,407.7 230.9,411.3" fill="none" stroke="#2a8f96" stroke-width="0.62" stroke-opacity="0.8"/>
<polyline points="309.3,364.2 306.6,367 303.1,371 298.8,375.5 294,380 288.8,383.7 282.9,386.8 275.9,389.7 268.3,392.4 260.5,395.3 253.1,398.4 245.6,402" fill="none" stroke="#1f7f86" stroke-width="0.57" stroke-opacity="0.8"/>
<polyline points="313.4,367.8 310.6,370.4 306.8,374.2 302.2,378.7 296.9,383.3 291.1,387.2 284.5,390.3 277.2,393 269.5,395.5 261.7,398.1 254.3,400.9 246.7,404.3 238.8,408.1 231.2,411.8" fill="none" stroke="#2a8f96" stroke-width="0.53" stroke-opacity="0.8"/>
<polyline points="311.1,365.8 308.4,368.5 304.7,372.4 300.3,376.9 295.2,381.3 289.7,385.1 283.5,388.1 276.3,390.9 268.7,393.5 260.9,396.1" fill="none" stroke="#3aa0a6" stroke-width="0.53" stroke-opacity="0.8"/>
<polyline points="310.5,365.2 308.1,368.2 304.7,372.4 300.6,377.2 295.8,382.1 290.5,386.3 284.3,389.8 277.2,393 269.7,396.1 262.1,399.2" fill="none" stroke="#1f7f86" stroke-width="0.70" stroke-opacity="0.8"/>
<polyline points="310.2,364.9 307.4,367.6 303.7,371.5 299.4,376 294.4,380.4 289.1,384.1 283,387.1 275.9,389.8 268.3,392.4 260.5,395.1 253,398" fill="none" stroke="#2a8f96" stroke-width="0.47" stroke-opacity="0.8"/>
<polyline points="308.4,363.4 306.1,366.5 302.9,370.8 299.1,375.7 294.6,380.6 289.6,384.9 283.7,388.5 276.7,391.8 269.3,395.1 261.8,398.4 254.7,401.9 247.6,405.9 240,410.3 232.8,414.7" fill="none" stroke="#1f7f86" stroke-width="0.75" stroke-opacity="0.8"/>
<polyline points="312.8,367.3 310.4,370.2 306.9,374.3 302.6,379.2 297.6,384.1 291.9,388.5 285.4,392 278.1,395.2 270.5,398.1 262.8,401.1" fill="none" stroke="#3aa0a6" stroke-width="0.73" stroke-opacity="0.8"/>
<polyline points="311.6,366.2 308.6,368.7 304.7,372.4 300.1,376.7 294.9,381 289.4,384.5 283.1,387.3 275.9,389.8 268.2,392.1" fill="none" stroke="#186c74" stroke-width="0.47" stroke-opacity="0.8"/>
<polyline points="299,395 298.8,400 298.6,407.1 298.3,415.3 297.8,423.3 297,430 296.1,435.3 295,439.9 293.7,444.1 292.1,448.1 290,452 287.5,455.9 284.5,459.7 281.3,463.4 277.7,466.8 274,470 269.9,473.1 265.3,476 260.7,478.7 256.1,481.1 252,483 248.2,484.4 244.4,485.4 241,486.1 238.1,486.6 236,487" fill="none" stroke="#dcf4f3" stroke-width="11.2" stroke-linejoin="round" stroke-linecap="round"/>
<polyline points="302.3,395.1 302,400.1 301.6,407.2 301.1,415.4 300.4,423.5 299.4,430.3 298.3,435.7 297,440.5 295.5,444.8 293.6,448.8 291.4,452.8 288.6,456.7 285.5,460.5 282,464.1 278.3,467.4 274.4,470.5 270.2,473.5 265.5,476.3" fill="none" stroke="#48aaae" stroke-width="0.77" stroke-opacity="0.8"/>
<polyline points="302.9,395.2 302.2,400.1 301.5,407.2 300.6,415.4 299.5,423.4 298.2,430.2 296.8,435.4 295.2,440 293.3,444 291.2,447.7 288.8,451.3 285.9,454.8 282.6,458.1 279,461.3" fill="none" stroke="#2a8f96" stroke-width="0.78" stroke-opacity="0.8"/>
<polyline points="299.6,395 299.5,400 299.4,407.1 299.2,415.3 298.8,423.4 298.1,430.2 297.2,435.5 296.2,440.3 295,444.6 293.4,448.7 291.4,452.8 288.9,456.9 285.9,460.9 282.6,464.7 279.1,468.3 275.3,471.6 271.1,474.9 266.5,478 261.8,480.8 257.2,483.3 253,485.4 249,487 245.1,488.1" fill="none" stroke="#1f7f86" stroke-width="0.67" stroke-opacity="0.8"/>
<polyline points="297.3,394.9 297.1,399.9 296.8,407 296.4,415.2 295.8,423.1 295,429.7 294,434.9 292.9,439.4 291.6,443.4 290,447.1 288,450.8 285.5,454.6 282.6,458.1 279.4,461.6 276,464.9 272.3,467.9 268.3,470.8 263.9,473.6 259.3,476.2 254.8,478.4 250.8,480.3 247.2,481.5 243.6,482.4" fill="none" stroke="#1f7f86" stroke-width="0.59" stroke-opacity="0.8"/>
<polyline points="294.8,394.8 294.7,399.8 294.7,407 294.5,415.1 294.1,423 293.5,429.5 292.8,434.6 291.9,439.1 290.8,443.1 289.4,446.8 287.6,450.6 285.3,454.4 282.7,458.2 279.6,461.7 276.3,465.2 272.7,468.4 268.8,471.5 264.5,474.5 259.9,477.3 255.5,479.8 251.5,481.8" fill="none" stroke="#3aa0a6" stroke-width="0.54" stroke-opacity="0.8"/>
<polyline points="296.4,394.9 296.5,399.9 296.5,407 296.5,415.2 296.3,423.1 295.8,429.8 295.1,435.1 294.4,439.8 293.3,444 292,448 290.1,452.1 287.8,456.2 285.1,460.2 282,464 278.6,467.7 275,471.2 270.9,474.6 266.4,477.8 261.8,480.8 257.3,483.4 253.2,485.6" fill="none" stroke="#1f7f86" stroke-width="0.66" stroke-opacity="0.8"/>
<polyline points="298.8,395 298.8,400 298.8,407.1 298.7,415.3 298.4,423.3 297.9,430.1 297.2,435.5 296.3,440.3 295.1,444.6 293.7,448.8 291.7,453 289.3,457.2 286.4,461.3 283.2,465.2 279.7,468.9 275.9,472.4 271.8,475.8 267.2,479 262.5,482 257.9,484.6" fill="none" stroke="#48aaae" stroke-width="0.64" stroke-opacity="0.8"/>
<polyline points="297.1,394.9 297,399.9 296.8,407 296.6,415.2 296.2,423.1 295.5,429.8 294.7,435 293.7,439.6 292.5,443.7 291,447.6 289.1,451.5 286.7,455.4 283.8,459.1 280.7,462.8 277.2,466.2 273.6,469.5 269.6,472.6 265.1,475.6 260.5,478.3 256,480.8" fill="none" stroke="#2a8f96" stroke-width="0.70" stroke-opacity="0.8"/>
<polyline points="297,394.9 296.8,399.9 296.6,407 296.2,415.2 295.7,423.1 295,429.7 294,434.9 293,439.4 291.7,443.4 290.1,447.2 288.2,450.9 285.7,454.7 282.9,458.3 279.7,461.8 276.3,465.2 272.6,468.3 268.6,471.3 264.2,474.1 259.6,476.7 255.1,479 251.1,480.9 247.4,482.3" fill="none" stroke="#48aaae" stroke-width="0.51" stroke-opacity="0.8"/>
<polyline points="303,395.2 302.7,400.1 302.4,407.2 301.9,415.4 301.3,423.6 300.5,430.5 299.4,436 298.2,440.8 296.7,445.2 294.9,449.4 292.6,453.5 289.9,457.6 286.7,461.6 283.3,465.3 279.6,468.7" fill="none" stroke="#1f7f86" stroke-width="0.75" stroke-opacity="0.8"/>
<polyline points="302.7,395.1 302,400.1 301.3,407.2 300.4,415.4 299.4,423.4 298.2,430.2 296.7,435.4 295.2,440 293.4,444 291.3,447.7 288.9,451.3 286,454.9 282.8,458.2 279.2,461.5" fill="none" stroke="#1f7f86" stroke-width="0.63" stroke-opacity="0.8"/>
<polyline points="300.7,395.1 300.6,400 300.5,407.2 300.3,415.4 299.9,423.5 299.3,430.3 298.4,435.8 297.4,440.6 296.2,445 294.6,449.2 292.5,453.5 289.9,457.7 286.9,461.7 283.6,465.6 280.1,469.2" fill="none" stroke="#2a8f96" stroke-width="0.61" stroke-opacity="0.8"/>
<polyline points="299.9,395 299.6,400 299.1,407.1 298.6,415.3 297.9,423.3 296.9,430 295.8,435.2 294.5,439.8 293.1,443.9 291.3,447.7 289.1,451.5 286.4,455.2 283.4,458.8 280.1,462.2 276.4,465.4" fill="none" stroke="#1f7f86" stroke-width="0.46" stroke-opacity="0.8"/>
<polyline points="302.7,395.1 302.2,400.1 301.6,407.2 300.9,415.4 300.1,423.5 299,430.3 297.7,435.6 296.3,440.3 294.6,444.5 292.7,448.3 290.3,452.2 287.5,455.9 284.3,459.5 280.8,462.9 277,466 273.2,468.9 268.9,471.7 264.3,474.3 259.5,476.6 254.9,478.7" fill="none" stroke="#2a8f96" stroke-width="0.56" stroke-opacity="0.8"/>
<polyline points="303,395.2 302.7,400.1 302.4,407.2 302,415.4 301.4,423.6 300.5,430.5 299.5,436 298.3,440.8 296.8,445.2 295,449.4 292.8,453.6 290,457.7 286.9,461.7 283.4,465.4 279.7,468.9 275.7,472.2 271.4,475.3 266.7,478.2 261.9,480.9 257.2,483.3 252.9,485.2 248.9,486.6 244.9,487.6 241.4,488.2" fill="none" stroke="#3aa0a6" stroke-width="0.54" stroke-opacity="0.8"/>
<polyline points="302.4,395.1 302,400.1 301.4,407.2 300.8,415.4 300,423.5 298.9,430.3 297.7,435.6 296.3,440.3 294.7,444.5 292.8,448.4 290.4,452.2 287.6,456 284.4,459.7 281,463.1 277.2,466.3 273.4,469.2 269.1,472 264.5,474.6" fill="none" stroke="#2a8f96" stroke-width="0.60" stroke-opacity="0.8"/>
<polyline points="724.5,203 734.7,203.3 749.4,203.6 766.1,204 782.2,204.8 795,206 804.3,207.7 811.8,209.7 818,212 823.2,214.8 828,218 832.1,221.4 835.3,225.1 837.8,229.2 840,234.1 842,240 843.8,246.7 845.3,254.1 846.5,262.3 847.7,271.9 849,283 850.4,296.6 851.9,312.6 853.3,329.4 854.7,345.7 856,360 857.1,371.7 858.1,381.8 859.1,391.2 860,401 861,412 862.1,425.7 863.2,441.3 864.4,456.9 865.3,470.5 866,480" fill="none" stroke="#dcf4f3" stroke-width="30.0" stroke-linejoin="round" stroke-linecap="round"/>
<polyline points="724.5,204.4 734.7,204.4 749.4,204.4 766.1,204.6 782.1,205.2 795,206.1 804.3,207.6 811.9,209.3 818.2,211.5 823.7,214.1 828.7,217.1 833.1,220.5 836.6,224.1 839.5,228.4 841.9,233.3 844.2,239.3 846.4,246.1 848.1,253.6 849.6,261.9 851,271.5 852.6,282.6 854.2,296.3 856,312.2" fill="none" stroke="#48aaae" stroke-width="0.63" stroke-opacity="0.8"/>
<polyline points="724.3,212.5 734.5,212.4 749.2,212.3 765.8,212.3 781.6,212.7 794,213.4 802.8,214.6 809.8,216.1 815.4,217.8 820.2,219.9 824.7,222.4 828.6,225.1 831.5,227.9 834,231.2 836.3,235.5 838.6,241 840.8,247.4 842.6,254.5 844.2,262.7 845.8,272.1 847.5,283.2 849.3,296.7 851.2,312.6 853,329.4 854.8,345.7 856.5,360" fill="none" stroke="#3aa0a6" stroke-width="0.68" stroke-opacity="0.8"/>
<polyline points="724.2,214.7 734.4,214.7 749.2,214.8 765.7,215 781.4,215.5 793.6,216.4 802.1,217.7 808.8,219.2 814,220.9 818.4,223 822.5,225.4 825.9,227.9 828.2,230.2 830.3,233.1 832.3,237.1 834.4,242.4 836.3,248.5 837.9,255.3 839.4,263.3 840.8,272.7 842.3,283.7 844,297.3 845.7,313.1 847.4,329.9 849,346.2 850.5,360.5 851.9,372.2" fill="none" stroke="#186c74" stroke-width="0.70" stroke-opacity="0.8"/>
<polyline points="724.3,212.5 734.5,212.7 749.2,213 765.8,213.4 781.5,214 793.8,215.2 802.3,216.6 809,218.4 814.2,220.3 818.6,222.6 822.7,225.2 825.9,227.8 828.2,230.3 830,233.2 831.8,237.2 833.7,242.6 835.5,248.7 836.9,255.5 838.1,263.5 839.3,272.9 840.7,283.9 842.2,297.4 843.7,313.3 845.2,330.1 846.6,346.4 848,360.7 849.1,372.5 850.2,382.6" fill="none" stroke="#48aaae" stroke-width="0.71" stroke-opacity="0.8"/>
<polyline points="724.6,200.3 734.7,200.5 749.5,200.8 766.2,201.1 782.4,201.8 795.4,203 805,204.7 812.8,206.7 819.3,209.1 824.9,212 830,215.3 834.5,219 838.1,223 841,227.6 843.4,232.8 845.6,238.9 847.5,245.8 849.1,253.4 850.4,261.8 851.7,271.4 853.1,282.6 854.6,296.2 856.1,312.2" fill="none" stroke="#1f7f86" stroke-width="0.57" stroke-opacity="0.8"/>
<polyline points="724.8,192 734.9,193 749.7,193.9 766.5,195 782.7,196.5 796,198.4 805.8,200.8 813.7,203.6 820.3,206.9 825.8,210.5 830.6,214.5 834.7,218.8 837.7,223.3 839.9,228.1 841.5,233.5 843,239.7 844.2,246.6 845,254.1 845.6,262.5 846.1,272.1 846.7,283.2 847.5,296.9 848.3,312.9 849.1,329.7 849.8,346.1 850.4,360.5 850.9,372.4 851.3,382.5 851.6,392" fill="none" stroke="#186c74" stroke-width="0.56" stroke-opacity="0.8"/>
<polyline points="724.6,199.5 734.8,199.7 749.5,200 766.3,200.4 782.4,201.1 795.5,202.4 805.1,204 813,206.1 819.5,208.6 825.2,211.6 830.3,214.9 834.8,218.7 838.4,222.8 841.3,227.4 843.6,232.7 845.8,238.8 847.7,245.8 849.3,253.4 850.6,261.8 851.8,271.4 853.1,282.6 854.5,296.2 856,312.2 857.5,329" fill="none" stroke="#186c74" stroke-width="0.63" stroke-opacity="0.8"/>
<polyline points="724.7,194.6 734.9,195.5 749.6,196.5 766.4,197.6 782.6,199.1 795.7,201 805.2,203.4 812.9,206.2 819.2,209.3 824.4,212.8 829,216.7 832.8,220.7 835.5,224.9 837.4,229.4 838.9,234.5 840.3,240.5 841.5,247.3 842.2,254.6 842.7,262.9 843.2,272.4 843.8,283.6 844.6,297.2 845.4,313.1 846.1,330 846.9,346.3 847.5,360.8 847.9,372.6 848.2,382.8" fill="none" stroke="#48aaae" stroke-width="0.72" stroke-opacity="0.8"/>
<polyline points="724.5,201.8 734.7,202 749.5,202.1 766.2,202.4 782.3,203 795.2,204.1 804.7,205.7 812.5,207.6 818.9,209.9 824.5,212.7 829.6,215.9 834.1,219.4 837.7,223.3 840.5,227.8 843,232.9 845.2,239 847.3,245.9 848.9,253.4 850.3,261.8 851.6,271.4 853.1,282.6 854.7,296.2 856.3,312.2 857.9,329 859.4,345.3 860.8,359.6 862.1,371.3 863.3,381.3 864.4,390.7" fill="none" stroke="#1f7f86" stroke-width="0.77" stroke-opacity="0.8"/>
<polyline points="724.2,214.3 734.4,214.4 749.2,214.6 765.7,214.9 781.4,215.6 793.6,216.6 802,218 808.6,219.7 813.7,221.5 818,223.6 822,226.2 825.1,228.6 827.3,230.9 829.1,233.7 830.9,237.6 832.8,242.8 834.6,248.9 836.1,255.6 837.4,263.6 838.6,273 840,284 841.6,297.5 843.1,313.3 844.7,330.1 846.2,346.4 847.6,360.8 848.8,372.6 849.9,382.7 851,392 852,401.7 853.1,412.7 854.3,426.3 855.6,441.9 856.8,457.5" fill="none" stroke="#2a8f96" stroke-width="0.77" stroke-opacity="0.8"/>
<polyline points="724.7,194.2 734.9,194.8 749.6,195.4 766.4,196.1 782.7,197.2 795.9,198.8 805.8,200.9 813.8,203.3 820.6,206.3 826.3,209.6 831.4,213.4 835.9,217.5 839.5,222 842.1,227 844.2,232.5 846.1,238.7 847.7,245.8 848.9,253.4 849.9,261.9 850.7,271.5 851.7,282.7 852.9,296.4 854,312.4 855.2,329.2 856.3,345.5 857.2,359.9 858.1,371.7 858.8,381.8 859.4,391.2 860.1,401 860.7,412 861.5,425.7" fill="none" stroke="#186c74" stroke-width="0.75" stroke-opacity="0.8"/>
<polyline points="724.7,196.9 734.8,197.5 749.6,198.2 766.3,199 782.5,200.1 795.6,201.7 805.1,203.8 812.9,206.2 819.3,209.1 824.7,212.3 829.5,216 833.6,219.9 836.8,224 839.1,228.5 841,233.7 842.7,239.8 844.2,246.6 845.3,254.1 846.2,262.4 847,272 848,283.1 849,296.8 850.1,312.7" fill="none" stroke="#48aaae" stroke-width="0.58" stroke-opacity="0.8"/>
<polyline points="724.4,206.4 734.6,206.5 749.4,206.7 766,206.9 782,207.5 794.7,208.6 803.8,210 811.1,211.8 817.1,213.9 822.2,216.5 827,219.4 831,222.6 834.2,225.9 836.7,229.8 839,234.5 841.1,240.3 843.1,246.9 844.8,254.1 846.2,262.4 847.5,271.9 849,283 850.6,296.6 852.2,312.5 853.8,329.3 855.4,345.6 856.8,359.9 858.1,371.6 859.3,381.7 860.4,391.1 861.5,400.8 862.7,411.9 863.9,425.5 865.2,441.2 866.5,456.8 867.7,470.3" fill="none" stroke="#1f7f86" stroke-width="0.66" stroke-opacity="0.8"/>
<polyline points="724.5,203.2 734.7,203 749.4,202.8 766.2,202.8 782.3,203 795.3,203.8 804.9,205 812.8,206.7 819.5,208.7 825.3,211.3 830.7,214.3 835.7,217.8 839.8,221.8 843.2,226.4 846,231.7 848.7,237.9 851.1,245 853.1,252.7 854.9,261.2 856.6,270.8 858.3,282 860.3,295.7 862.2,311.6 864.1,328.4 866,344.7" fill="none" stroke="#48aaae" stroke-width="0.69" stroke-opacity="0.8"/>
<polyline points="724.2,212.8 734.5,212.4 749.2,212 765.8,211.8 781.7,212 794.2,212.5 803,213.4 810.2,214.7 816.1,216.3 821.2,218.2 826,220.7 830.2,223.4 833.6,226.3 836.6,229.9 839.2,234.4 841.9,240 844.3,246.6 846.4,253.9 848.3,262.1 850.1,271.6 852.1,282.7 854.1,296.3 856.2,312.2 858.3,328.9 860.4,345.2 862.3,359.4 864,371.1 865.7,381.1" fill="none" stroke="#1f7f86" stroke-width="0.78" stroke-opacity="0.8"/>
<polyline points="724.3,210.5 734.5,210.9 749.2,211.3 765.8,211.9 781.6,212.8 793.9,214.1 802.5,215.8 809.2,217.7 814.4,219.9 818.7,222.4 822.7,225.2 825.8,227.9 827.9,230.5 829.5,233.5 831.1,237.5 832.8,242.8 834.3,248.9 835.5,255.7 836.6,263.7 837.6,273.1 838.7,284.1 840,297.6 841.3,313.5 842.6,330.3 843.9,346.6 845,361 846,372.8 846.9,383 847.7,392.4" fill="none" stroke="#48aaae" stroke-width="0.70" stroke-opacity="0.8"/>
<polyline points="724.8,192.6 734.9,193.4 749.6,194.3 766.4,195.3 782.7,196.6 796,198.4 805.8,200.7 813.8,203.4 820.4,206.6 826,210.1 830.9,214.1 835.1,218.3 838.4,222.8 840.7,227.7 842.5,233.1 844,239.4 845.4,246.3 846.3,253.9 847,262.3 847.7,271.9 848.4,283.1 849.3,296.7 850.2,312.7" fill="none" stroke="#2a8f96" stroke-width="0.75" stroke-opacity="0.8"/>
<polyline points="724.7,196.2 734.8,197 749.6,197.7 766.3,198.7 782.5,199.9 795.6,201.7 805.1,203.9 812.9,206.4 819.2,209.4 824.5,212.7 829.2,216.4 833.2,220.3 836.1,224.5 838.3,229 840,234.1 841.6,240.1 843,246.9 843.9,254.3 844.7,262.6 845.4,272.2 846.2,283.3 847.1,296.9 848.1,312.9 849.1,329.7 850,346.1 850.8,360.5 851.4,372.3 852,382.5 852.5,391.9 852.9,401.6 853.4,412.6 854,426.3" fill="none" stroke="#186c74" stroke-width="0.75" stroke-opacity="0.8"/>
<polyline points="724.6,199.8 734.7,200.7 749.5,201.6 766.2,202.7 782.2,204 795,205.9 804.2,208.1 811.5,210.7 817.3,213.6 822,216.8 826.3,220.3 829.7,223.9 832,227.5 833.6,231.4 835,236 836.3,241.7 837.5,248.2 838.3,255.3 838.9,263.4 839.4,272.9" fill="none" stroke="#48aaae" stroke-width="0.53" stroke-opacity="0.8"/>
<polyline points="724.5,202.8 734.7,203.6 749.4,204.3 766.1,205.2 782.1,206.4 794.7,208 803.8,210.1 810.9,212.5 816.6,215.1 821.3,218.1 825.5,221.4 828.9,224.8 831.1,228.1 832.8,231.8 834.3,236.3 835.8,241.9 837.1,248.3 838,255.3 838.8,263.4 839.5,272.9 840.4,283.9 841.3,297.5 842.4,313.4" fill="none" stroke="#3aa0a6" stroke-width="0.60" stroke-opacity="0.8"/>
<polyline points="724.5,204.1 734.7,204.7 749.4,205.3 766,206.1 782,207.2 794.6,208.7 803.7,210.6 810.8,212.9 816.4,215.4 821.2,218.3 825.4,221.5 828.9,224.8 831.2,228 833,231.7 834.6,236.2 836.2,241.8 837.6,248.2 838.7,255.2 839.6,263.3 840.4,272.8 841.4,283.8 842.4,297.4 843.6,313.3 844.7,330.1 845.7,346.4 846.7,360.9 847.5,372.7 848.2,382.8 848.8,392.3 849.4,402" fill="none" stroke="#1f7f86" stroke-width="0.70" stroke-opacity="0.8"/>
<polyline points="724.2,215 734.4,214.6 749.2,214.4 765.7,214.2 781.5,214.4 793.8,215 802.5,216 809.4,217.2 814.9,218.8 819.8,220.7 824.3,223 828.2,225.5 831.2,228.1 833.8,231.3 836.3,235.5 838.8,241 841.2,247.3 843.1,254.4 844.9,262.6 846.7,272 848.5,283.1 850.5,296.6 852.6,312.5 854.6,329.3 856.5,345.5 858.4,359.8 860.1,371.5 861.7,381.5 863.2,390.8 864.7,400.5 866.3,411.6 867.9,425.2" fill="none" stroke="#3aa0a6" stroke-width="0.45" stroke-opacity="0.8"/>
<polyline points="724.6,200.1 734.7,200.8 749.5,201.6 766.2,202.5 782.2,203.7 795.1,205.3 804.4,207.4 811.7,209.9 817.7,212.6 822.7,215.8 827.1,219.2 830.8,222.8 833.3,226.5 835.3,230.5 836.9,235.3 838.4,241.1 839.8,247.7 840.7,254.8 841.5,263 842.2,272.5 843.1,283.6 844.1,297.2 845.1,313.2 846.1,330 847.1,346.3 847.9,360.7 848.6,372.6 849.2,382.7" fill="none" stroke="#2a8f96" stroke-width="0.59" stroke-opacity="0.8"/>
<polyline points="724.3,210.1 734.5,210.2 749.3,210.4 765.9,210.7 781.7,211.3 794.2,212.3 803,213.7 810,215.4 815.6,217.4 820.3,219.7 824.7,222.5 828.4,225.3 831.1,228.2 833.3,231.5 835.3,235.9 837.4,241.4 839.3,247.8 840.9,254.8 842.2,262.9 843.6,272.4 845,283.4 846.6,297 848.2,312.9 849.8,329.7 851.3,346 852.8,360.3 854,372 855.2,382.1 856.3,391.5 857.4,401.2 858.5,412.2 859.7,425.8 861.1,441.5 862.3,457.1" fill="none" stroke="#2a8f96" stroke-width="0.57" stroke-opacity="0.8"/>
<polyline points="724.8,191.2 734.9,192.1 749.7,193.1 766.5,194.2 782.8,195.6 796.1,197.6 806,200 814,202.9 820.6,206.2 826.2,209.8 831,213.9 835.2,218.2 838.3,222.9 840.6,227.8 842.2,233.2 843.7,239.5 844.9,246.5 845.7,254 846.3,262.4 846.8,272 847.4,283.2 848.1,296.8 848.9,312.8 849.7,329.7 850.4,346 851,360.5 851.5,372.3 851.8,382.5 852.1,391.9 852.4,401.7 852.7,412.7 853.1,426.4 853.6,442 854,457.7 854.3,471.3" fill="none" stroke="#2a8f96" stroke-width="0.64" stroke-opacity="0.8"/>
<polyline points="724.5,203.3 734.7,203.9 749.4,204.6 766.1,205.4 782.1,206.5 794.7,208.1 803.8,210.1 810.9,212.4 816.7,215 821.4,217.9 825.7,221.1 829.2,224.5 831.6,227.8 833.4,231.5 835,236 836.5,241.7 837.9,248.1 839,255.1 839.8,263.3 840.6,272.7 841.5,283.8 842.6,297.4 843.7,313.3 844.8,330.1 845.8,346.4 846.7,360.9 847.5,372.7 848.1,382.8 848.7,392.3 849.3,402 849.9,412.9 850.6,426.5 851.4,442.2" fill="none" stroke="#48aaae" stroke-width="0.79" stroke-opacity="0.8"/>
<polyline points="724.5,204.7 734.7,205 749.4,205.2 766.1,205.7 782.1,206.4 794.8,207.6 804,209.2 811.3,211.2 817.3,213.5 822.4,216.2 827.1,219.2 831.1,222.5 834.1,226 836.5,229.9 838.6,234.6 840.6,240.4 842.5,247 843.9,254.3 845.2,262.5 846.3,272.1 847.6,283.1 849.1,296.8 850.6,312.7 852,329.5 853.4,345.8 854.7,360.1 855.9,371.9 856.9,382" fill="none" stroke="#186c74" stroke-width="0.59" stroke-opacity="0.8"/>
<polyline points="724.2,213.2 734.5,213.2 749.2,213.2 765.8,213.4 781.5,213.8 793.9,214.7 802.5,216 809.3,217.5 814.7,219.3 819.3,221.4 823.6,223.9 827.2,226.5 829.8,229.1 832,232.2 834.2,236.3 836.4,241.7 838.4,248 840,255 841.5,263 843,272.5 844.6,283.5 846.3,297 848,312.9 849.8,329.7 851.4,345.9 853,360.3 854.4,372 855.7,382.1 856.9,391.5 858.2,401.1 859.4,412.1 860.8,425.8 862.2,441.4 863.6,457 864.9,470.5" fill="none" stroke="#186c74" stroke-width="0.67" stroke-opacity="0.8"/>
<polyline points="724.6,198.2 734.8,198.7 749.5,199.2 766.3,199.9 782.4,200.9 795.5,202.3 805,204.3 812.8,206.6 819.2,209.3 824.7,212.4 829.6,215.9 833.8,219.7 837.1,223.8 839.6,228.3 841.6,233.5 843.5,239.5 845.2,246.4 846.4,253.9 847.4,262.2 848.4,271.8 849.5,282.9 850.7,296.6 852,312.5 853.2,329.4" fill="none" stroke="#186c74" stroke-width="0.50" stroke-opacity="0.8"/>
<polyline points="724.2,214.4 734.4,214.1 749.2,213.8 765.8,213.7 781.5,213.9 793.9,214.5 802.6,215.5 809.5,216.8 815.1,218.4 820,220.3 824.5,222.7 828.5,225.2 831.5,227.8 834.1,231.1 836.6,235.4 839.1,240.9 841.5,247.3 843.4,254.4 845.2,262.5 846.9,272 848.8,283 850.8,296.6 852.8,312.5 854.8,329.2 856.7,345.5 858.6,359.8 860.3,371.4 861.8,381.5 863.3,390.8 864.8,400.5 866.4,411.6 868,425.2" fill="none" stroke="#2a8f96" stroke-width="0.80" stroke-opacity="0.8"/>
<polyline points="724.5,204.6 734.7,204.7 749.4,204.8 766.1,205.1 782.1,205.7 794.9,206.8 804.2,208.3 811.7,210.1 817.8,212.3 823.1,215 828,218 832.2,221.3 835.6,224.9 838.2,229 840.5,233.9 842.8,239.8 844.8,246.5 846.4,253.9 847.8,262.2 849.1,271.7 850.6,282.8 852.2,296.5 853.8,312.4 855.4,329.2 856.9,345.5 858.4,359.8 859.6,371.5 860.8,381.6 861.9,391 863,400.7 864.1,411.7" fill="none" stroke="#1f7f86" stroke-width="0.55" stroke-opacity="0.8"/>
<polyline points="724.3,209 734.6,208.7 749.3,208.4 766,208.2 781.9,208.4 794.6,209 803.8,210 811.3,211.4 817.5,213.1 822.9,215.3 828,218 832.6,221 836.3,224.3 839.5,228.4 842.3,233.2 844.9,239.1 847.4,245.9 849.5,253.3 851.4,261.7 853.2,271.2 855.1,282.3 857.1,296 859.2,311.9 861.2,328.7 863.2,344.9 865.1,359.2 866.8,370.8 868.4,380.8 870,390.2 871.5,399.9" fill="none" stroke="#2a8f96" stroke-width="0.77" stroke-opacity="0.8"/>
<polyline points="724.6,200.2 734.7,200.5 749.5,200.9 766.2,201.4 782.3,202.2 795.3,203.5 804.8,205.3 812.5,207.4 818.9,209.9 824.4,212.9 829.3,216.2 833.6,219.9 837,223.9 839.6,228.3 841.8,233.4 843.8,239.4 845.6,246.3 847,253.8 848.2,262.1 849.3,271.7 850.6,282.8 851.9,296.5 853.4,312.4 854.7,329.2 856.1,345.5 857.3,359.9 858.3,371.6 859.3,381.7 860.2,391.1 861.1,400.9 862,411.9 863,425.6 864.1,441.2" fill="none" stroke="#48aaae" stroke-width="0.67" stroke-opacity="0.8"/>
<polyline points="724.3,209.4 734.6,209.4 749.3,209.4 765.9,209.6 781.8,210.1 794.4,211 803.3,212.3 810.5,213.9 816.3,215.8 821.2,218.2 825.9,220.9 829.8,223.8 832.9,226.9 835.4,230.5 837.7,235 839.9,240.6 842,247.1 843.7,254.3 845.2,262.5 846.7,272 848.3,283.1 850,296.7 851.7,312.6 853.5,329.4 855.1,345.6 856.7,359.9 858.1,371.6 859.4,381.7 860.6,391.1 861.8,400.8 863.1,411.8 864.5,425.5 865.9,441.1" fill="none" stroke="#2a8f96" stroke-width="0.62" stroke-opacity="0.8"/>
<polyline points="724.7,194.6 734.9,195.8 749.6,197 766.3,198.5 782.5,200.2 795.5,202.4 804.9,205.1 812.3,208.1 818.3,211.4 823.1,215 827.3,219 830.6,223 832.7,226.9 834.1,231.1 835.2,235.9 836.2,241.8 837,248.3 837.4,255.4 837.6,263.5 837.8,273.1 838.2,284.2 838.6,297.9" fill="none" stroke="#48aaae" stroke-width="0.58" stroke-opacity="0.8"/>
<polyline points="724.3,209.9 734.5,210.3 749.3,210.8 765.8,211.5 781.6,212.4 794,213.8 802.6,215.5 809.3,217.5 814.5,219.7 818.8,222.2 822.7,225.1 825.8,227.9 827.9,230.5 829.4,233.5 831,237.6 832.6,242.9 834.1,249 835.2,255.8 836.2,263.7 837.2,273.1 838.3,284.2" fill="none" stroke="#1f7f86" stroke-width="0.54" stroke-opacity="0.8"/>
<polyline points="724.4,208.7 734.6,209 749.3,209.2 765.9,209.6 781.8,210.3 794.3,211.5 803.1,213 810.1,214.9 815.7,217 820.5,219.4 824.8,222.3 828.5,225.2 831.1,228.2 833.2,231.6 835.2,236 837.1,241.5 838.9,247.9 840.4,254.9 841.6,263 842.8,272.5 844.1,283.5 845.6,297.1 847.1,313 848.6,329.8 850,346.1 851.3,360.4 852.5,372.2 853.6,382.3" fill="none" stroke="#1f7f86" stroke-width="0.57" stroke-opacity="0.8"/>
<polyline points="724.7,196.2 734.8,196.9 749.6,197.6 766.3,198.5 782.5,199.7 795.6,201.4 805.2,203.6 812.9,206.1 819.3,209.1 824.6,212.4 829.4,216.1 833.5,220 836.5,224.2 838.7,228.7 840.5,233.9 842.1,240 843.5,246.8 844.6,254.2 845.3,262.5 846.1,272.1 846.9,283.2 847.9,296.9 848.9,312.8 849.9,329.7 850.9,346 851.7,360.4 852.4,372.2 852.9,382.4 853.4,391.8 853.9,401.5 854.5,412.5 855.1,426.2 855.8,441.9 856.5,457.5" fill="none" stroke="#1f7f86" stroke-width="0.70" stroke-opacity="0.8"/>
<polyline points="724.7,194.1 734.9,195.4 749.6,196.7 766.3,198.1 782.5,199.9 795.5,202.2 804.9,204.9 812.4,207.9 818.3,211.3 823.1,214.9 827.3,218.9 830.6,223 832.8,226.9 834.1,231.1 835.1,236 836.1,241.8 836.9,248.4 837.2,255.4 837.4,263.6 837.6,273.1 837.9,284.3" fill="none" stroke="#3aa0a6" stroke-width="0.71" stroke-opacity="0.8"/>
<polyline points="724.7,194.7 734.9,195.7 749.6,196.8 766.3,198 782.5,199.5 795.6,201.5 805.1,203.9 812.7,206.8 818.9,209.9 824,213.5 828.5,217.3 832.2,221.4 834.8,225.5 836.6,229.8 838,234.9 839.2,240.8 840.3,247.5 841,254.8 841.5,263 841.9,272.6 842.5,283.8" fill="none" stroke="#2a8f96" stroke-width="0.59" stroke-opacity="0.8"/>
<polyline points="724.3,211 734.5,210.7 749.3,210.4 765.9,210.2 781.8,210.4 794.3,211 803.4,212 810.6,213.3 816.6,215 821.9,217.1 826.8,219.7 831.1,222.5 834.6,225.6 837.6,229.3 840.3,234 842.9,239.7 845.3,246.4 847.4,253.7 849.2,262 851,271.5 852.9,282.6 854.9,296.2 857,312.1 859,328.9 861,345.1 862.9,359.4 864.6,371 866.2,381 867.7,390.4 869.3,400.1 870.8,411.1" fill="none" stroke="#186c74" stroke-width="0.78" stroke-opacity="0.8"/>
<polyline points="724.7,196.2 734.8,196.8 749.6,197.3 766.3,198 782.6,199.1 795.7,200.6 805.4,202.6 813.3,204.9 819.9,207.8 825.5,211 830.5,214.6 834.9,218.6 838.3,222.9 840.9,227.6 842.9,233 844.8,239.1 846.4,246.1 847.7,253.7 848.6,262.1 849.6,271.7" fill="none" stroke="#2a8f96" stroke-width="0.78" stroke-opacity="0.8"/>
<polyline points="724.7,193.5 734.9,194.1 749.6,194.7 766.4,195.4 782.7,196.5 796,198.1 805.9,200.2 814,202.7 820.8,205.7 826.6,209.1 831.8,212.9 836.3,217.1 839.9,221.7 842.6,226.7 844.7,232.3 846.6,238.6 848.2,245.7 849.4,253.4 850.3,261.8 851.2,271.5 852.2,282.7 853.3,296.3 854.4,312.3 855.6,329.2 856.6,345.5 857.6,359.9 858.4,371.6 859.1,381.7 859.7,391.2 860.3,400.9 861,412 861.8,425.7 862.6,441.4 863.4,457 864.1,470.6" fill="none" stroke="#1f7f86" stroke-width="0.74" stroke-opacity="0.8"/>
<polyline points="724.2,214.9 734.4,214.9 749.2,214.9 765.7,215.1 781.4,215.6 793.6,216.6 802.1,217.8 808.7,219.3 813.9,221.1 818.3,223.1 822.4,225.5 825.8,228 828.1,230.3 830.1,233.2 832.1,237.1 834.2,242.4 836.2,248.5 837.8,255.4 839.2,263.3 840.6,272.7 842.1,283.8 843.8,297.3 845.5,313.1 847.2,329.9 848.8,346.2 850.4,360.5 851.7,372.3 853,382.4 854.2,391.7 855.4,401.4 856.6,412.4" fill="none" stroke="#3aa0a6" stroke-width="0.62" stroke-opacity="0.8"/>
<polyline points="724.3,211.6 734.5,211.8 749.2,212 765.8,212.4 781.6,213.1 793.9,214.2 802.5,215.7 809.3,217.5 814.6,219.5 819.1,221.8 823.2,224.5 826.6,227.2 828.9,229.7 830.8,232.8 832.7,236.9 834.6,242.3 836.3,248.5 837.8,255.4 839,263.4 840.2,272.8 841.6,283.8 843,297.3 844.6,313.2 846.1,330 847.5,346.3 848.8,360.7 850,372.4 851.1,382.5 852.1,391.9 853.1,401.6 854.1,412.6 855.2,426.2" fill="none" stroke="#2a8f96" stroke-width="0.75" stroke-opacity="0.8"/>
<polyline points="724.5,201.7 734.7,202.3 749.4,202.9 766.1,203.6 782.2,204.6 795,206.1 804.2,208.1 811.6,210.3 817.6,212.9 822.6,215.9 827.1,219.2 830.9,222.7 833.6,226.3 835.7,230.3 837.5,235.1 839.2,240.9 840.7,247.5 841.8,254.7 842.8,262.9 843.7,272.4 844.7,283.5" fill="none" stroke="#1f7f86" stroke-width="0.77" stroke-opacity="0.8"/>
<polyline points="724.3,211.5 734.5,210.9 749.3,210.2 765.9,209.8 781.8,209.7 794.5,210 803.6,210.7 811.1,211.8 817.4,213.2 823,215.2 828.3,217.6 833.1,220.4 837.1,223.7 840.6,227.8 843.8,232.6 846.8,238.5 849.6,245.4 852,252.9 854.1,261.3 856.2,270.9 858.4,281.9" fill="none" stroke="#1f7f86" stroke-width="0.66" stroke-opacity="0.8"/>
<polyline points="724.7,195 734.9,195.3 749.6,195.7 766.4,196.2 782.7,197.1 796,198.4 805.9,200.3 814.1,202.5 821,205.3 827,208.5 832.3,212.2 837.1,216.3 841.1,220.9 844.1,226 846.5,231.6 848.6,238 850.5,245.1 852,252.9 853.2,261.4 854.3,271.1 855.5,282.3 856.9,296 858.3,312 859.6,328.8 861,345.1 862.2,359.4 863.2,371.1 864.1,381.2 865,390.7 865.9,400.4 866.8,411.5" fill="none" stroke="#186c74" stroke-width="0.55" stroke-opacity="0.8"/>
<polyline points="724.3,212.5 734.5,212.4 749.2,212.4 765.8,212.5 781.6,212.9 794,213.8 802.7,215 809.6,216.5 815.1,218.3 819.9,220.5 824.3,223 828,225.7 830.8,228.4 833.1,231.6 835.3,235.9 837.6,241.4 839.7,247.7 841.4,254.7 842.9,262.8 844.4,272.3 846,283.3 847.8,296.9 849.5,312.8 851.3,329.5 853,345.8 854.6,360.1 856.1,371.8" fill="none" stroke="#3aa0a6" stroke-width="0.73" stroke-opacity="0.8"/>
<polyline points="724.3,211.7 734.5,211.3 749.2,210.9 765.9,210.7 781.8,210.8 794.3,211.4 803.3,212.3 810.6,213.6 816.5,215.2 821.8,217.2 826.7,219.7 831.1,222.5 834.6,225.6 837.6,229.3 840.4,233.9 843,239.7 845.5,246.3 847.7,253.7 849.5,261.9 851.4,271.5 853.3,282.5 855.4,296.1 857.5,312.1 859.6,328.8 861.6,345.1 863.5,359.3 865.3,370.9 867,380.9 868.6,390.3" fill="none" stroke="#48aaae" stroke-width="0.77" stroke-opacity="0.8"/>
<polyline points="724.6,197.4 734.8,197.9 749.5,198.4 766.3,199 782.5,200 795.6,201.4 805.2,203.3 813.1,205.6 819.6,208.4 825.2,211.5 830.2,215.1 834.5,218.9 837.9,223.1 840.5,227.8 842.6,233.1 844.6,239.2 846.3,246.1 847.6,253.7 848.6,262.1 849.6,271.7 850.7,282.8 852,296.5 853.2,312.4 854.5,329.3 855.7,345.6 856.8,359.9 857.7,371.7 858.5,381.8 859.3,391.2 860,401 860.8,412 861.7,425.7 862.7,441.4 863.6,457 864.3,470.6" fill="none" stroke="#1f7f86" stroke-width="0.55" stroke-opacity="0.8"/>
<polyline points="724.7,193.4 734.9,194 749.6,194.6 766.4,195.3 782.7,196.4 796,198 806,200 814.1,202.5 820.9,205.5 826.7,208.9 831.9,212.7 836.5,216.9 840.2,221.5 842.9,226.6 845,232.1 846.9,238.5 848.6,245.6 849.8,253.3 850.7,261.8 851.6,271.4 852.6,282.6 853.8,296.3 854.9,312.3 856.1,329.1 857.2,345.4 858.2,359.8 859,371.6 859.7,381.7 860.4,391.1 861,400.9 861.7,411.9 862.5,425.6 863.3,441.3 864.2,456.9" fill="none" stroke="#48aaae" stroke-width="0.70" stroke-opacity="0.8"/>
<polyline points="724.7,194.1 734.9,194.5 749.6,194.8 766.4,195.3 782.8,196.2 796.1,197.5 806.1,199.4 814.4,201.6 821.4,204.4 827.5,207.7 832.9,211.4 837.8,215.5 841.9,220.3 845,225.5 847.4,231.2 849.6,237.7 851.5,244.9 853,252.7 854.2,261.3 855.3,271 856.6,282.2 858,295.9 859.4,311.9 860.8,328.7 862.1,345 863.3,359.4" fill="none" stroke="#186c74" stroke-width="0.67" stroke-opacity="0.8"/>
<polyline points="724.8,192.4 734.9,193.2 749.6,194.1 766.4,195.1 782.7,196.5 796,198.3 805.8,200.6 813.8,203.3 820.5,206.5 826,210.1 831,214 835.2,218.3 838.4,222.8 840.7,227.7 842.5,233.1 844,239.4 845.4,246.4 846.3,253.9 847,262.3 847.6,271.9 848.3,283.1 849.2,296.7 850.1,312.7 851,329.6 851.8,345.9 852.5,360.3 853.1,372.1 853.5,382.3 853.9,391.8 854.3,401.5 854.7,412.5 855.2,426.2 855.8,441.9 856.4,457.5" fill="none" stroke="#186c74" stroke-width="0.50" stroke-opacity="0.8"/>
<polyline points="724.6,197.7 734.8,198.4 749.5,199.1 766.3,199.9 782.4,201.1 795.4,202.7 804.9,204.8 812.6,207.3 818.8,210.1 824.1,213.4 828.8,217 832.8,220.8 835.7,224.8 837.9,229.2 839.7,234.2 841.3,240.2 842.8,247 843.8,254.3 844.7,262.6 845.4,272.2 846.3,283.3 847.4,296.9 848.4,312.9 849.5,329.7 850.5,346 851.3,360.4" fill="none" stroke="#48aaae" stroke-width="0.62" stroke-opacity="0.8"/>
<polyline points="724.4,205.4 734.6,205.3 749.4,205.3 766.1,205.4 782.1,205.8 794.9,206.7 804.2,208.1 811.8,209.7 818.1,211.8 823.5,214.3 828.5,217.3 833,220.5 836.6,224.1 839.5,228.3 842,233.3 844.5,239.2 846.7,246 848.5,253.5 850.1,261.9 851.6,271.4 853.2,282.5 855,296.2 856.8,312.1 858.5,328.9 860.2,345.2 861.8,359.5 863.3,371.2" fill="none" stroke="#3aa0a6" stroke-width="0.66" stroke-opacity="0.8"/>
<polyline points="724.6,199.9 734.8,200.2 749.5,200.5 766.2,200.9 782.4,201.7 795.4,203 805,204.7 812.7,206.8 819.2,209.3 824.8,212.2 829.8,215.5 834.3,219.2 837.8,223.3 840.5,227.8 842.8,233 844.9,239.1 846.8,246 848.3,253.5 849.6,261.9 850.8,271.5 852,282.7 853.5,296.3 854.9,312.3 856.4,329.1 857.8,345.4 859,359.7 860.2,371.4 861.2,381.5 862.1,390.9 863.1,400.7" fill="none" stroke="#125a60" stroke-width="1.6" stroke-opacity="0.6"/>
<polyline points="724.4,206.6 734.6,206.9 749.3,207.2 766,207.7 781.9,208.4 794.5,209.6 803.5,211.2 810.7,213.1 816.5,215.4 821.4,218 825.8,220.9 829.6,224 832.4,227.2 834.6,230.9 836.6,235.4 838.5,241.1 840.3,247.5 841.7,254.7 842.9,262.8 844.1,272.3 845.4,283.4 846.8,297 848.3,312.9 849.7,329.7 851.1,346 852.4,360.3 853.5,372.1 854.5,382.2 855.5,391.6 856.4,401.3" fill="none" stroke="#125a60" stroke-width="1.6" stroke-opacity="0.6"/>
<polyline points="827.2,365.5 829.7,368.4 833.2,372.5 837.4,377.2 842.3,381.9 847.7,386 853.9,389.4 861,392.4 868.6,395.3 876.3,398.2 883.5,401.4 890.9,405.1 898.6,409.2 906,413.3 912.3,416.8 916.8,419.3" fill="none" stroke="#dcf4f3" stroke-width="11.2" stroke-linejoin="round" stroke-linecap="round"/>
<polyline points="827,365.7 829.8,368.3 833.5,372.2 838,376.7 843,381.1 848.5,384.8 854.7,387.7 861.9,390.4 869.5,392.9 877.4,395.6 884.9,398.4 892.5,401.9 900.5,405.7" fill="none" stroke="#48aaae" stroke-width="0.63" stroke-opacity="0.8"/>
<polyline points="825.4,367.1 827.8,370.1 831,374.3 835.2,379.4 840.1,384.5 845.7,389.1 852.2,392.9 859.5,396.2 867.1,399.4" fill="none" stroke="#3aa0a6" stroke-width="0.56" stroke-opacity="0.8"/>
<polyline points="828.3,364.5 831,367.3 834.6,371.2 838.9,375.8 843.7,380.2 849,384 855,387.1 862,389.9 869.6,392.6 877.4,395.4 884.9,398.5 892.4,402.1" fill="none" stroke="#3aa0a6" stroke-width="0.69" stroke-opacity="0.8"/>
<polyline points="826.3,366.3 828.7,369.3 832,373.5 836.1,378.4 841,383.4 846.5,387.8 852.9,391.5 860.1,394.8 867.6,397.9 875.2,401" fill="none" stroke="#2a8f96" stroke-width="0.65" stroke-opacity="0.8"/>
<polyline points="829,363.9 831.6,366.8 835.1,370.8 839.2,375.4 843.9,380 849.1,383.8 855,387 862,390 869.6,392.9 877.3,395.8 884.6,399 892.1,402.7 899.9,406.9" fill="none" stroke="#186c74" stroke-width="0.68" stroke-opacity="0.8"/>
<polyline points="828.4,364.5 830.6,367.6 833.8,372 837.7,376.9 842.3,381.9 847.5,386.4 853.5,390.1 860.6,393.6 868,396.9 875.5,400.2 882.5,403.7" fill="none" stroke="#48aaae" stroke-width="0.74" stroke-opacity="0.8"/>
<polyline points="825.6,367 828.4,369.5 832.2,373.3 836.8,377.7 842.1,382.2 847.8,385.9 854.2,388.8 861.4,391.4 869.2,393.9 877,396.4" fill="none" stroke="#48aaae" stroke-width="0.54" stroke-opacity="0.8"/>
<polyline points="828,364.8 830.7,367.5 834.3,371.5 838.6,376 843.5,380.5 848.8,384.3 854.9,387.3 862,390.1 869.6,392.8 877.3,395.6 884.8,398.7 892.3,402.3 900.2,406.2" fill="none" stroke="#48aaae" stroke-width="0.50" stroke-opacity="0.8"/>
<polyline points="825.4,367.1 828,369.9 831.5,373.9 835.9,378.7 840.9,383.5 846.6,387.7 853.1,391.1 860.4,394.1 868,396.9 875.7,399.8" fill="none" stroke="#2a8f96" stroke-width="0.57" stroke-opacity="0.8"/>
<polyline points="823.8,368.5 826.9,370.8 831,374.4 835.9,378.7 841.4,382.9 847.4,386.5 854,389.2 861.4,391.5 869.3,393.6" fill="none" stroke="#3aa0a6" stroke-width="0.54" stroke-opacity="0.8"/>
<polyline points="830.4,362.7 832.9,365.7 836.2,369.9 840.2,374.5 844.7,379.1 849.7,383 855.4,386.2 862.3,389.3 869.8,392.3" fill="none" stroke="#1f7f86" stroke-width="0.58" stroke-opacity="0.8"/>
<polyline points="825.9,366.6 828.8,369.2 832.6,373 837.1,377.4 842.3,381.8 848,385.6 854.3,388.5 861.6,391.1 869.3,393.6 877.1,396.1 884.7,398.9 892.3,402.3 900.3,406" fill="none" stroke="#48aaae" stroke-width="0.55" stroke-opacity="0.8"/>
<polyline points="828.4,364.4 830.6,367.7 833.6,372.1 837.5,377.1 842,382.2 847.2,386.8 853.3,390.7 860.3,394.2 867.7,397.6 875.1,401 882,404.6 889,408.7" fill="none" stroke="#48aaae" stroke-width="0.77" stroke-opacity="0.8"/>
<polyline points="825.7,366.8 828.5,369.4 832.3,373.2 836.9,377.7 842.1,382.2 847.7,386 854.1,388.9 861.4,391.6 869.1,394.1 876.9,396.7 884.4,399.5 892,402.9 900,406.6 907.6,410.4" fill="none" stroke="#48aaae" stroke-width="0.59" stroke-opacity="0.8"/>
<polyline points="826.4,366.2 829,369 832.5,373.1 836.8,377.8 841.8,382.5 847.3,386.6 853.6,390 860.8,393 868.4,395.8 876.1,398.7 883.3,401.8 890.7,405.4 898.5,409.5" fill="none" stroke="#186c74" stroke-width="0.60" stroke-opacity="0.8"/>
<polyline points="828.5,364.3 831.1,367.2 834.6,371.2 838.8,375.8 843.6,380.4 848.8,384.3 854.8,387.5 861.8,390.4 869.4,393.2 877.1,396.1 884.5,399.3 891.9,403 899.8,407.1 907.2,411.1 913.5,414.6" fill="none" stroke="#48aaae" stroke-width="0.64" stroke-opacity="0.8"/>
<polyline points="839,395 839.2,400 839.4,407.1 839.7,415.3 840.2,423.3 841,430 841.9,435.3 843,439.9 844.3,444.1 845.9,448.1 848,452 850.5,455.9 853.5,459.7 856.7,463.4 860.3,466.8 864,470 868.1,473.1 872.7,476 877.3,478.7 881.9,481.1 886,483 889.8,484.4 893.6,485.4 897,486.1 899.9,486.6 902,487" fill="none" stroke="#dcf4f3" stroke-width="11.2" stroke-linejoin="round" stroke-linecap="round"/>
<polyline points="838.9,395 839.3,400 839.8,407.1 840.4,415.2 841.1,423.2 842.1,429.9 843.2,435 844.5,439.5 846,443.5 847.8,447.2 849.9,450.9 852.5,454.5 855.5,458 858.9,461.4" fill="none" stroke="#3aa0a6" stroke-width="0.76" stroke-opacity="0.8"/>
<polyline points="843.3,394.8 843.2,399.8 843.1,407 843.2,415.1 843.4,423 843.8,429.6 844.5,434.8 845.2,439.3 846.2,443.4 847.5,447.3 849.2,451.3 851.4,455.3 854.1,459.2 857.1,463 860.4,466.6 864,470 867.9,473.3" fill="none" stroke="#186c74" stroke-width="0.54" stroke-opacity="0.8"/>
<polyline points="837.1,395.1 837.3,400 837.5,407.2 837.8,415.4 838.3,423.4 839,430.3 840,435.7 841,440.5 842.4,444.8 844.1,448.9 846.2,453.1 848.8,457.2 851.8,461.1 855.2,464.9 858.7,468.4" fill="none" stroke="#2a8f96" stroke-width="0.68" stroke-opacity="0.8"/>
<polyline points="838.6,395 838.6,400 838.7,407.1 838.9,415.3 839.3,423.4 839.9,430.2 840.7,435.5 841.7,440.3 842.9,444.6 844.4,448.8 846.4,452.9 848.9,457.1 851.9,461.1 855.1,464.9 858.7,468.5 862.4,472 866.6,475.3 871.2,478.4 875.9,481.3 880.5,483.8" fill="none" stroke="#186c74" stroke-width="0.69" stroke-opacity="0.8"/>
<polyline points="840.7,394.9 840.7,399.9 840.6,407.1 840.7,415.2 840.9,423.2 841.4,429.9 842.1,435.3 842.9,440 844,444.2 845.4,448.3 847.3,452.4 849.6,456.6 852.4,460.6 855.5,464.5" fill="none" stroke="#3aa0a6" stroke-width="0.48" stroke-opacity="0.8"/>
<polyline points="837.4,395.1 837.5,400 837.7,407.2 838,415.3 838.4,423.4 839.1,430.3 840,435.7 841,440.5 842.3,444.8 844,449 846,453.1 848.6,457.3 851.6,461.3 855,465.1 858.6,468.7 862.4,472 866.6,475.3 871.2,478.3 876,481.1 880.6,483.6 884.7,485.7" fill="none" stroke="#1f7f86" stroke-width="0.74" stroke-opacity="0.8"/>
<polyline points="840.5,394.9 840.5,399.9 840.5,407.1 840.6,415.2 840.9,423.2 841.4,429.9 842.1,435.3 843,439.9 844.1,444.2 845.5,448.3 847.4,452.3 849.8,456.5 852.6,460.4 855.8,464.3 859.2,467.9 862.9,471.4 867,474.7 871.5,477.9 876.2,480.8 880.7,483.4 884.9,485.6 888.9,487.4 892.9,488.6 896.4,489.6" fill="none" stroke="#3aa0a6" stroke-width="0.50" stroke-opacity="0.8"/>
<polyline points="836,395.1 836.4,400.1 836.8,407.2 837.3,415.4 838,423.5 838.9,430.3 840,435.7 841.3,440.4 842.8,444.7 844.7,448.7 846.9,452.6 849.7,456.6 852.8,460.3 856.2,463.9 859.9,467.2 863.8,470.3 868,473.2 872.6,476 877.4,478.6 882,480.8 886.2,482.5 890,483.8 893.8,484.6" fill="none" stroke="#186c74" stroke-width="0.50" stroke-opacity="0.8"/>
<polyline points="837.3,395.1 837.5,400 837.8,407.2 838.1,415.3 838.7,423.4 839.5,430.2 840.4,435.6 841.6,440.3 842.9,444.6 844.6,448.7 846.8,452.7 849.4,456.7 852.4,460.6 855.8,464.3 859.4,467.7 863.2,471 867.4,474.1" fill="none" stroke="#2a8f96" stroke-width="0.64" stroke-opacity="0.8"/>
<polyline points="836.2,395.1 836.8,400 837.5,407.2 838.3,415.3 839.3,423.4 840.5,430.1 841.9,435.3 843.5,439.8 845.2,443.8 847.2,447.5 849.6,451 852.5,454.6 855.6,457.9 859.2,461.1" fill="none" stroke="#186c74" stroke-width="0.78" stroke-opacity="0.8"/>
<polyline points="843.2,394.8 843.2,399.8 843.1,407 843.2,415.1 843.4,423 843.9,429.6 844.6,434.8 845.3,439.3 846.3,443.4 847.7,447.3 849.4,451.2 851.7,455.1 854.3,459 857.4,462.7 860.7,466.3" fill="none" stroke="#1f7f86" stroke-width="0.55" stroke-opacity="0.8"/>
<polyline points="839.8,395 840,399.9 840.2,407.1 840.5,415.2 841,423.2 841.7,429.9 842.6,435.2 843.6,439.8 844.9,443.9 846.5,447.8 848.5,451.7 851,455.6 853.8,459.4 857.1,463 860.6,466.5 864.3,469.7 868.3,472.8 872.8,475.7" fill="none" stroke="#2a8f96" stroke-width="0.61" stroke-opacity="0.8"/>
<polyline points="837.2,395.1 837.8,400 838.6,407.1 839.4,415.3 840.4,423.3 841.6,429.9 843,435.1 844.5,439.5 846.2,443.4 848.3,447 850.6,450.5 853.4,453.9 856.5,457.2 860.1,460.3" fill="none" stroke="#2a8f96" stroke-width="0.74" stroke-opacity="0.8"/>
<polyline points="838.7,395 838.8,400 838.9,407.1 839.2,415.3 839.6,423.3 840.2,430.1 841.1,435.5 842,440.2 843.3,444.5 844.8,448.6 846.9,452.7 849.4,456.8 852.3,460.7 855.6,464.5 859.1,468.1 862.8,471.4 867,474.7 871.6,477.7 876.3,480.6 880.9,483.1 885,485.1" fill="none" stroke="#186c74" stroke-width="0.54" stroke-opacity="0.8"/>
<polyline points="835.3,395.1 835.6,400.1 835.9,407.2 836.4,415.4 837,423.6 837.8,430.4 838.9,435.9 840.1,440.7 841.6,445.1 843.4,449.3 845.6,453.4 848.4,457.5 851.5,461.4 855,465 858.7,468.5 862.6,471.8 866.9,474.8 871.6,477.8 876.4,480.4 881.1,482.7 885.3,484.6 889.3,486 893.2,487 896.8,487.6 899.7,488" fill="none" stroke="#1f7f86" stroke-width="0.74" stroke-opacity="0.8"/>
<polyline points="836.2,395.1 836.7,400.1 837.3,407.2 837.9,415.3 838.8,423.4 839.8,430.2 841.1,435.5 842.5,440.1 844.1,444.2 846,448 848.4,451.8 851.1,455.5 854.3,459 857.7,462.4 861.4,465.5 865.3,468.4 869.5,471.2" fill="none" stroke="#186c74" stroke-width="0.78" stroke-opacity="0.8"/>
</g><g id="wire">
<g fill="none" stroke="#2a2a2a" stroke-width="0.95"><polyline points="398.4,133.5 400,174"/><polyline points="739.6,133.5 738,174"/><polyline points="399,145 409,238"/><polyline points="739,145 729,238"/><polyline points="418.4,145 420.7,169"/><polyline points="719.6,145 717.3,169"/><polyline points="494.5,136 494.5,168"/><polyline points="643.5,136 643.5,168"/><polyline points="419,217 421,240"/><polyline points="719,217 717,240"/><polyline points="287.6,152.2 406,150.4"/><polyline points="850.4,152.2 732,150.4"/><polyline points="290,159 398.4,145.8"/><polyline points="848,159 739.6,145.8"/><polyline points="304.6,157.6 312.2,204.5"/><polyline points="833.4,157.6 825.8,204.5"/><polyline points="323.8,155.3 333.8,203.7"/><polyline points="814.2,155.3 804.2,203.7"/><polyline points="343.3,153 349.2,204.5"/><polyline points="794.7,153 788.8,204.5"/><polyline points="310,186.8 326,185.3"/><polyline points="828,186.8 812,185.3"/><polyline points="347.6,182.2 401.4,178.4"/><polyline points="790.4,182.2 736.6,178.4"/><polyline points="296.9,206 412.2,203"/><polyline points="841.1,206 725.8,203"/><polyline points="406,150.4 412,203"/><polyline points="732,150.4 726,203"/><polyline points="287.6,152.2 240.3,320 197.2,520.3"/><polyline points="850.4,152.2 897.7,320 940.8,520.3"/><polyline points="267.7,189.9 292.3,189.9"/><polyline points="870.3,189.9 845.7,189.9"/><polyline points="287.6,152.2 274.1,220.6"/><polyline points="850.4,152.2 863.9,220.6"/><polyline points="267.7,189.9 274.1,220.6"/><polyline points="870.3,189.9 863.9,220.6"/><polyline points="274.1,220.6 303,219.1"/><polyline points="863.9,220.6 835,219.1"/><polyline points="267.7,189.9 253.8,258.3"/><polyline points="870.3,189.9 884.2,258.3"/><polyline points="253.8,258.3 315.3,256.8"/><polyline points="884.2,258.3 822.7,256.8"/><polyline points="315.3,256.8 401.4,241.4"/><polyline points="822.7,256.8 736.6,241.4"/><polyline points="253.8,258.3 232,420"/><polyline points="884.2,258.3 906,420"/><polyline points="260,266 287.6,263"/><polyline points="878,266 850.4,263"/><polyline points="260,266 255,310 290,305"/><polyline points="878,266 883,310 848,305"/><polyline points="294,153 250,330"/><polyline points="844,153 888,330"/><polyline points="300,206 262,380"/><polyline points="838,206 876,380"/><polyline points="242,378 310.5,371"/><polyline points="896,378 827.5,371"/><polyline points="244.6,390 279,387"/><polyline points="893.4,390 859,387"/><polyline points="245,390 241,420"/><polyline points="893,390 897,420"/><polyline points="222.7,420.1 227,484"/><polyline points="915.3,420.1 911,484"/><polyline points="222.7,420.1 300,420"/><polyline points="915.3,420.1 838,420"/><polyline points="227,470 298,468"/><polyline points="911,470 840,468"/><polyline points="223,483 260,525"/><polyline points="915,483 878,525"/><polyline points="197.2,520.3 229.7,519.4"/><polyline points="940.8,520.3 908.3,519.4"/><polyline points="197.2,520.3 197.2,530"/><polyline points="940.8,520.3 940.8,530"/><polyline points="197.2,530 291.2,530"/><polyline points="940.8,530 846.8,530"/><polyline points="229.7,519.4 229.7,530"/><polyline points="908.3,519.4 908.3,530"/><polyline points="256.2,554.7 282.1,554.7"/><polyline points="881.8,554.7 855.9,554.7"/><polyline points="197.2,530 256.2,554.7"/><polyline points="940.8,530 881.8,554.7"/><polyline points="262,380 256.2,554.7"/><polyline points="876,380 881.8,554.7"/><polyline points="232,420 313.3,669"/><polyline points="906,420 824.7,669"/><polyline points="245,400 326.3,675.5"/><polyline points="893,400 811.7,675.5"/><polyline points="270,330 300,560"/><polyline points="868,330 838,560"/><polyline points="280,300 309.4,670.3"/><polyline points="858,300 828.6,670.3"/><polyline points="255,320 287,520"/><polyline points="883,320 851,520"/><polyline points="230,460 305,660"/><polyline points="908,460 833,660"/><polyline points="520,240 569,258"/><polyline points="618,240 569,258"/><polyline points="569,258 540,275"/><polyline points="569,258 598,275"/><polyline points="480,248 520,262"/><polyline points="658,248 618,262"/><polyline points="449.3,216 451,238"/><polyline points="688.7,216 687,238"/><polyline points="469.2,216 471,238"/><polyline points="668.8,216 667,238"/><polyline points="535.6,216 536,238"/><polyline points="602.4,216 602,238"/><polyline points="452,280 452,292"/><polyline points="686,280 686,292"/><polyline points="470,279 470,292"/><polyline points="668,279 668,292"/><polyline points="503,278 503,291"/><polyline points="635,278 635,291"/><polyline points="536,277 536,290"/><polyline points="602,277 602,290"/><polyline points="225.4,390.7 198.2,519"/><polyline points="912.6,390.7 939.8,519"/><polyline points="225.4,390.7 230,529"/><polyline points="912.6,390.7 908,529"/><polyline points="260.6,265.9 286.7,262.5"/><polyline points="877.4,265.9 851.3,262.5"/><polyline points="260.6,265.9 253.8,315.8"/><polyline points="877.4,265.9 884.2,315.8"/><polyline points="253.8,315.8 279.9,313.5"/><polyline points="884.2,315.8 858.1,313.5"/><polyline points="270,264 268.5,349.9"/><polyline points="868,264 869.5,349.9"/><polyline points="264,349.9 313.9,345.3"/><polyline points="874,349.9 824.1,345.3"/><polyline points="242.4,379.4 268.5,376"/><polyline points="895.6,379.4 869.5,376"/><polyline points="243.5,391.8 270.8,388.4"/><polyline points="894.5,391.8 867.2,388.4"/><polyline points="242.4,379.4 243.5,391.8"/><polyline points="895.6,379.4 894.5,391.8"/><polyline points="259.6,265.7 253.2,314.3 262.2,351.5 298,350.2"/><polyline points="878.4,265.7 884.8,314.3 875.8,351.5 840,350.2"/><polyline points="259.6,265.7 290,262"/><polyline points="878.4,265.7 848,262"/><polyline points="243,378.3 275,373.2"/><polyline points="895,378.3 863,373.2"/><polyline points="243,378.3 246,392"/><polyline points="895,378.3 892,392"/><polyline points="252,330 313,669"/><polyline points="886,330 825,669"/><polyline points="262,300 318,668"/><polyline points="876,300 820,668"/><polyline points="240,380 305,668"/><polyline points="898,380 833,668"/><polyline points="228,430 300,660"/><polyline points="910,430 838,660"/><polyline points="262,420 300,430"/><polyline points="876,420 838,430"/><polyline points="240,460 290,470"/><polyline points="898,460 848,470"/><polyline points="236,500 294,505"/><polyline points="902,500 844,505"/><polyline points="290,560 309,669"/><polyline points="848,560 829,669"/><polyline points="300,560 314,669"/><polyline points="838,560 824,669"/><polyline points="353.6,652 383,779.5 380.9,797.1"/><polyline points="784.4,652 755,779.5 757.1,797.1"/><polyline points="326.3,675.5 349.7,778.2"/><polyline points="811.7,675.5 788.3,778.2"/><polyline points="342,740.5 335.4,804"/><polyline points="796,740.5 802.6,804"/><polyline points="309.4,670.3 342,740.5"/><polyline points="828.6,670.3 796,740.5"/><polyline points="388,689 388,699"/><polyline points="750,689 750,699"/><polyline points="423.7,685 423.7,693"/><polyline points="714.3,685 714.3,693"/><polyline points="446.8,680 446.8,689"/><polyline points="691.2,680 691.2,689"/><polyline points="496,676 496,685"/><polyline points="642,676 642,685"/><polyline points="545.3,672.4 545.3,682"/><polyline points="592.7,672.4 592.7,682"/><polyline points="352.4,651.4 413.2,663"/><polyline points="785.6,651.4 724.8,663"/><polyline points="327.3,675.6 413.2,661.9"/><polyline points="810.7,675.6 724.8,661.9"/><polyline points="333,670 413,657"/><polyline points="805,670 725,657"/><polyline points="471,645 471,651"/><polyline points="667,645 667,651"/><polyline points="504,644 504,650"/><polyline points="634,644 634,650"/><polyline points="537,642 537,648"/><polyline points="601,642 601,648"/><polyline points="417.4,318 419,470"/><polyline points="720.6,318 719,470"/><polyline points="447,318 444,470"/><polyline points="691,318 694,470"/><polyline points="413.4,508 412,662"/><polyline points="724.6,508 726,662"/><polyline points="441,496 437,662"/><polyline points="697,496 701,662"/><polyline points="412,662 437,662"/><polyline points="726,662 701,662"/><polyline points="398.4,133.5 417,133.6 442.6,133.8 473,134.1 505.8,134.3 538.6,134.4 569,134.5 599.4,134.4 632.2,134.3 665,134.1 695.4,133.8 721,133.6 739.6,133.5"/><polyline points="398.4,145.3 417,144.4 442.6,143 473,141.5 505.8,140 538.6,138.9 569,138.5 599.4,138.9 632.2,140 665,141.5 695.4,143 721,144.4 739.6,145.3"/><polyline points="459,169.5 471,168.4 487.5,166.8 507.1,164.9 528.3,163.2 549.4,161.9 569,161.4 588.6,161.9 609.7,163.2 630.9,164.9 650.5,166.8 667,168.4 679,169.5"/><polyline points="419,231 435.3,231 457.9,231 484.6,231 513.4,231 542.3,231 569,231 595.7,231 624.6,231 653.4,231 680.1,231 702.7,231 719,231"/><polyline points="412,235.4 429.1,235.4 452.7,235.4 480.7,235.4 510.9,235.4 541,235.4 569,235.4 597,235.4 627.1,235.4 657.3,235.4 685.3,235.4 708.9,235.4 726,235.4"/><polyline points="409,238 426.4,237.7 450.5,237.3 479,236.9 509.7,236.4 540.5,236.1 569,236 597.5,236.1 628.3,236.4 659,236.9 687.5,237.3 711.6,237.7 729,238"/><polyline points="315.3,250.6 323.7,249.5 334.6,248 347.9,246.2 363.5,244.4 381.3,242.7 401.4,241.4 424.6,240.4 451.2,239.6 480.1,238.9 510.1,238.4 540.1,238.1 569,238 597.9,238.1 627.9,238.4 657.9,238.9 686.8,239.6 713.4,240.4 736.6,241.4 756.7,242.7 774.5,244.4 790.1,246.2 803.4,248 814.3,249.5 822.7,250.6"/><polyline points="387.3,300.7 397.4,299.3 411.5,297.3 428.1,295 445.9,292.7 463.7,290.6 480,289 495,287.9 509.9,287.1 524.7,286.6 539.5,286.2 554.2,286.1 569,286 583.8,286.1 598.5,286.2 613.3,286.6 628.1,287.1 643,287.9 658,289 674.3,290.6 692.1,292.7 709.9,295 726.5,297.3 740.6,299.3 750.7,300.7"/><polyline points="326.3,498.8 339.3,497.6 357.2,495.9 378.4,493.9 401.3,491.8 424.4,489.9 445.9,488.4 466.2,487.2 486.7,486.2 507.2,485.3 527.8,484.6 548.4,484.2 569,484 589.6,484.2 610.2,484.6 630.8,485.3 651.3,486.2 671.8,487.2 692.1,488.4 713.6,489.9 736.7,491.8 759.6,493.9 780.8,495.9 798.7,497.6 811.7,498.8"/><polyline points="329,480 341.6,479.3 359.1,478.3 379.8,477.1 402.1,475.9 424.7,474.8 445.9,474 466.1,473.4 486.5,472.9 507.1,472.5 527.7,472.2 548.4,472.1 569,472 589.6,472.1 610.3,472.2 630.9,472.5 651.5,472.9 671.9,473.4 692.1,474 713.3,474.8 735.9,475.9 758.2,477.1 778.9,478.3 796.4,479.3 809,480"/><polyline points="438.4,651.4 445,650.7 454.1,649.7 464.9,648.4 476.6,647.2 488.6,646 500,645 511.1,644.1 522.5,643.2 534,642.4 545.7,641.7 557.4,641.2 569,641 580.6,641.2 592.3,641.7 604,642.4 615.5,643.2 626.9,644.1 638,645 649.4,646 661.4,647.2 673.1,648.5 683.9,649.7 693,650.7 699.6,651.4"/><polyline points="439.4,657.7 445.9,657 454.8,656.1 465.4,655 476.9,653.9 488.7,652.8 500,652 511,651.3 522.4,650.7 534,650.2 545.7,649.8 557.4,649.5 569,649.4 580.6,649.5 592.3,649.8 604,650.2 615.6,650.7 627,651.3 638,652 649.3,652.8 661.1,653.9 672.6,655 683.2,656.1 692.1,657 698.6,657.7"/><polyline points="352,694 355.7,693.5 360.7,692.8 366.8,692 373.5,691.1 380.7,690.1 388,689 395.7,687.8 404,686.4 412.8,685 421.8,683.6 430.9,682.2 440,681 448.9,680 457.7,679.1 466.7,678.3 475.9,677.5 485.6,676.8 496,676 507.2,675.1 519.1,674.1 531.4,673.1 544,672.2 556.6,671.6 569,671.4 581.4,671.6 594,672.2 606.6,673.1 618.9,674.1 630.8,675.1 642,676 652.4,676.8 662.1,677.5 671.3,678.3 680.3,679.1 689.1,680 698,681 707.1,682.2 716.2,683.6 725.2,685 734,686.4 742.3,687.8 750,689 757.3,690.1 764.5,691.1 771.2,692 777.3,692.8 782.3,693.5 786,694"/><polyline points="365,705 371.3,703.5 379.8,701.4 390,698.9 401.2,696.4 412.7,694 424,692 435.2,690.4 447,689 459.1,687.8 471.4,686.7 483.8,685.8 496,685 508.1,684.3 520.3,683.8 532.4,683.4 544.6,683.2 556.8,683 569,683 581.2,683 593.4,683.2 605.6,683.4 617.7,683.8 629.9,684.3 642,685 654.2,685.8 666.6,686.7 678.9,687.8 691,689 702.8,690.4 714,692 725.3,694 736.8,696.4 748,698.9 758.2,701.4 766.7,703.5 773,705"/><polyline points="365,714 374.1,712.4 387,710.1 402.1,707.4 418,704.6 433.5,702 447,700 458.6,698.5 469.6,697.3 479.9,696.3 490,695.5 500,694.7 510,694 520.1,693.3 530,692.7 539.8,692.1 549.5,691.7 559.2,691.4 569,691.3 578.8,691.4 588.5,691.7 598.2,692.1 608,692.7 617.9,693.3 628,694 638,694.7 648,695.5 658.1,696.3 668.4,697.3 679.4,698.5 691,700 704.5,702 720,704.6 735.9,707.4 751,710.1 763.9,712.4 773,714"/><polyline points="349.7,778.2 373.6,778.2 406.6,778.2 445.6,778.2 487.8,778.2 529.9,778.2 569,778.2 608.1,778.2 650.2,778.2 692.4,778.2 731.4,778.2 764.4,778.2 788.3,778.2"/><polyline points="380.9,797.1 401.4,797.1 429.7,797.1 463.2,797.1 499.3,797.1 535.5,797.1 569,797.1 602.5,797.1 638.7,797.1 674.8,797.1 708.3,797.1 736.6,797.1 757.1,797.1"/><polyline points="569,134 569,170"/><polyline points="569,639 569,800"/></g>
<polyline points="324.6,311.1 326.1,309.5 328.3,307.3 330.8,304.7 333.5,302.1 336,300 338.6,298.2 341.4,296.5 344.1,295 346.4,293.7 348.1,292.8" fill="none" stroke="#202020" stroke-width="3.6" stroke-linecap="round"/>
<polyline points="813.4,311.1 811.9,309.5 809.7,307.3 807.2,304.7 804.5,302.1 802,300 799.4,298.2 796.6,296.5 793.9,295 791.6,293.7 789.9,292.8" fill="none" stroke="#202020" stroke-width="3.6" stroke-linecap="round"/>
<polyline points="380.8,277.2 391.7,276.3 406.9,275 424.8,273.5 444,271.9 462.9,270.5 480,269.5 495.4,268.8 510.4,268.3 525.1,267.9 539.7,267.7 554.3,267.5 569,267.5 583.7,267.5 598.3,267.7 612.9,267.9 627.6,268.3 642.6,268.8 658,269.5 675.1,270.5 694,271.9 713.2,273.5 731.1,275 746.3,276.3 757.2,277.2" fill="none" stroke="#222" stroke-width="3.0"/>
<polyline points="380.8,273.5 391.7,272.6 406.9,271.4 424.8,269.9 444,268.4 462.9,267 480,266 495.4,265.3 510.4,264.8 525.1,264.4 539.7,264.2 554.3,264 569,264 583.7,264 598.3,264.2 612.9,264.4 627.6,264.8 642.6,265.3 658,266 675.1,267 694,268.4 713.2,269.9 731.1,271.4 746.3,272.6 757.2,273.5" fill="none" stroke="#333" stroke-width="0.9"/>
<polyline points="390,262 399.8,261.5 413.4,260.9 429.4,260.1 446.7,259.3 464,258.6 480,258 494.9,257.5 509.7,257 524.6,256.6 539.4,256.3 554.2,256.1 569,256 583.8,256.1 598.6,256.3 613.4,256.6 628.3,257 643.1,257.5 658,258 674,258.6 691.3,259.3 708.6,260.1 724.6,260.9 738.2,261.5 748,262" fill="none" stroke="#333" stroke-width="0.9"/>
<polyline points="300,243 311.1,243.5 326.7,244.1 345,244.9 364.4,245.7 383.3,246.4 400,247 414.4,247.5 427.8,247.9 440.7,248.2 453.4,248.5 466.4,248.7 480,249 494.3,249.2 509,249.5 523.9,249.7 539,249.9 554.1,250 569,250 583.9,250 599,249.9 614.1,249.7 629,249.5 643.7,249.2 658,249 671.6,248.7 684.6,248.5 697.3,248.2 710.2,247.9 723.6,247.5 738,247 754.7,246.4 773.6,245.7 793,244.9 811.3,244.1 826.9,243.5 838,243" fill="none" stroke="#333" stroke-width="0.9"/>
<g fill="none" stroke="#2a2a2a" stroke-width="0.85"><path d="M452,291.5 Q456,277.5 460,291.5"/><path d="M462.5,291.5 Q466.5,277.5 470.5,291.5"/><path d="M473,291.5 Q477,277.5 481,291.5"/><path d="M483.5,291.5 Q487.5,277.5 491.5,291.5"/><path d="M494,291.5 Q498,277.5 502,291.5"/><path d="M504.5,291.5 Q508.5,277.5 512.5,291.5"/><path d="M515,291.5 Q519,277.5 523,291.5"/><path d="M525.5,291.5 Q529.5,277.5 533.5,291.5"/><path d="M536,291.5 Q540,277.5 544,291.5"/><path d="M546.5,291.5 Q550.5,277.5 554.5,291.5"/><path d="M557,291.5 Q561,277.5 565,291.5"/><path d="M567.5,291.5 Q571.5,277.5 575.5,291.5"/><path d="M578,291.5 Q582,277.5 586,291.5"/><path d="M588.5,291.5 Q592.5,277.5 596.5,291.5"/><path d="M599,291.5 Q603,277.5 607,291.5"/><path d="M609.5,291.5 Q613.5,277.5 617.5,291.5"/><path d="M620,291.5 Q624,277.5 628,291.5"/><path d="M630.5,291.5 Q634.5,277.5 638.5,291.5"/><path d="M641,291.5 Q645,277.5 649,291.5"/><path d="M651.5,291.5 Q655.5,277.5 659.5,291.5"/><path d="M662,291.5 Q666,277.5 670,291.5"/><path d="M672.5,291.5 Q676.5,277.5 680.5,291.5"/><path d="M683,291.5 Q687,277.5 691,291.5"/></g>
<g fill="none" stroke="#262626" stroke-width="1.0"><polyline points="425.5,325.2 447.5,322.8"/><polyline points="425.5,326.8 447.5,324.4"/><polyline points="425.5,332.1 447.5,329.7"/><polyline points="425.5,333.7 447.5,331.3"/><polyline points="425.5,339 447.5,336.6"/><polyline points="425.5,340.6 447.5,338.2"/><polyline points="425.5,345.9 447.5,343.5"/><polyline points="425.5,347.5 447.5,345.1"/><polyline points="425.5,352.8 447.5,350.4"/><polyline points="425.5,354.4 447.5,352"/><polyline points="425.5,359.7 447.5,357.3"/><polyline points="425.5,361.3 447.5,358.9"/><polyline points="425.5,366.6 447.5,364.2"/><polyline points="425.5,368.2 447.5,365.8"/><polyline points="425.5,373.5 447.5,371.1"/><polyline points="425.5,375.1 447.5,372.7"/><polyline points="425.5,380.4 447.5,378"/><polyline points="425.5,382 447.5,379.6"/><polyline points="425.5,387.3 447.5,384.9"/><polyline points="425.5,388.9 447.5,386.5"/><polyline points="425.5,394.2 447.5,391.8"/><polyline points="425.5,395.8 447.5,393.4"/><polyline points="425.5,401.1 447.5,398.7"/><polyline points="425.5,402.7 447.5,400.3"/><polyline points="425.5,408 447.5,405.6"/><polyline points="425.5,409.6 447.5,407.2"/><polyline points="425.5,414.9 447.5,412.5"/><polyline points="425.5,416.5 447.5,414.1"/><polyline points="425.5,421.8 447.5,419.4"/><polyline points="425.5,423.4 447.5,421"/><polyline points="425.5,428.7 447.5,426.3"/><polyline points="425.5,430.3 447.5,427.9"/><polyline points="425.5,435.6 447.5,433.2"/><polyline points="425.5,437.2 447.5,434.8"/><polyline points="425.5,442.5 447.5,440.1"/><polyline points="425.5,444.1 447.5,441.7"/><polyline points="425.5,449.4 447.5,447"/><polyline points="425.5,451 447.5,448.6"/><polyline points="425.5,456.3 447.5,453.9"/><polyline points="425.5,457.9 447.5,455.5"/><polyline points="425.5,463.2 447.5,460.8"/><polyline points="425.5,464.8 447.5,462.4"/><polyline points="425.5,470.1 447.5,467.7"/><polyline points="425.5,471.7 447.5,469.3"/><polyline points="421,320 420,472"/><polyline points="425,320 424,472"/><polyline points="712.5,325.2 690.5,322.8"/><polyline points="712.5,326.8 690.5,324.4"/><polyline points="712.5,332.1 690.5,329.7"/><polyline points="712.5,333.7 690.5,331.3"/><polyline points="712.5,339 690.5,336.6"/><polyline points="712.5,340.6 690.5,338.2"/><polyline points="712.5,345.9 690.5,343.5"/><polyline points="712.5,347.5 690.5,345.1"/><polyline points="712.5,352.8 690.5,350.4"/><polyline points="712.5,354.4 690.5,352"/><polyline points="712.5,359.7 690.5,357.3"/><polyline points="712.5,361.3 690.5,358.9"/><polyline points="712.5,366.6 690.5,364.2"/><polyline points="712.5,368.2 690.5,365.8"/><polyline points="712.5,373.5 690.5,371.1"/><polyline points="712.5,375.1 690.5,372.7"/><polyline points="712.5,380.4 690.5,378"/><polyline points="712.5,382 690.5,379.6"/><polyline points="712.5,387.3 690.5,384.9"/><polyline points="712.5,388.9 690.5,386.5"/><polyline points="712.5,394.2 690.5,391.8"/><polyline points="712.5,395.8 690.5,393.4"/><polyline points="712.5,401.1 690.5,398.7"/><polyline points="712.5,402.7 690.5,400.3"/><polyline points="712.5,408 690.5,405.6"/><polyline points="712.5,409.6 690.5,407.2"/><polyline points="712.5,414.9 690.5,412.5"/><polyline points="712.5,416.5 690.5,414.1"/><polyline points="712.5,421.8 690.5,419.4"/><polyline points="712.5,423.4 690.5,421"/><polyline points="712.5,428.7 690.5,426.3"/><polyline points="712.5,430.3 690.5,427.9"/><polyline points="712.5,435.6 690.5,433.2"/><polyline points="712.5,437.2 690.5,434.8"/><polyline points="712.5,442.5 690.5,440.1"/><polyline points="712.5,444.1 690.5,441.7"/><polyline points="712.5,449.4 690.5,447"/><polyline points="712.5,451 690.5,448.6"/><polyline points="712.5,456.3 690.5,453.9"/><polyline points="712.5,457.9 690.5,455.5"/><polyline points="712.5,463.2 690.5,460.8"/><polyline points="712.5,464.8 690.5,462.4"/><polyline points="712.5,470.1 690.5,467.7"/><polyline points="712.5,471.7 690.5,469.3"/><polyline points="717,320 718,472"/><polyline points="713,320 714,472"/><polyline points="419.5,511.2 441,508.8"/><polyline points="419.5,512.8 441,510.4"/><polyline points="419.5,518.4 441,516"/><polyline points="419.5,520 441,517.6"/><polyline points="419.5,525.6 441,523.2"/><polyline points="419.5,527.2 441,524.8"/><polyline points="419.5,532.8 441,530.4"/><polyline points="419.5,534.4 441,532"/><polyline points="419.5,540 441,537.6"/><polyline points="419.5,541.6 441,539.2"/><polyline points="419.5,547.2 441,544.8"/><polyline points="419.5,548.8 441,546.4"/><polyline points="419.5,554.4 441,552"/><polyline points="419.5,556 441,553.6"/><polyline points="419.5,561.6 441,559.2"/><polyline points="419.5,563.2 441,560.8"/><polyline points="419.5,568.8 441,566.4"/><polyline points="419.5,570.4 441,568"/><polyline points="419.5,576 441,573.6"/><polyline points="419.5,577.6 441,575.2"/><polyline points="419.5,583.2 441,580.8"/><polyline points="419.5,584.8 441,582.4"/><polyline points="419.5,590.4 441,588"/><polyline points="419.5,592 441,589.6"/><polyline points="419.5,597.6 441,595.2"/><polyline points="419.5,599.2 441,596.8"/><polyline points="419.5,604.8 441,602.4"/><polyline points="419.5,606.4 441,604"/><polyline points="419.5,612 441,609.6"/><polyline points="419.5,613.6 441,611.2"/><polyline points="419.5,619.2 441,616.8"/><polyline points="419.5,620.8 441,618.4"/><polyline points="419.5,626.4 441,624"/><polyline points="419.5,628 441,625.6"/><polyline points="419.5,633.6 441,631.2"/><polyline points="419.5,635.2 441,632.8"/><polyline points="419.5,640.8 441,638.4"/><polyline points="419.5,642.4 441,640"/><polyline points="419.5,648 441,645.6"/><polyline points="419.5,649.6 441,647.2"/><polyline points="419.5,655.2 441,652.8"/><polyline points="419.5,656.8 441,654.4"/><polyline points="419.5,662.4 441,660"/><polyline points="419.5,664 441,661.6"/><polyline points="415,506 414,662"/><polyline points="419,506 418,662"/><polyline points="718.5,511.2 697,508.8"/><polyline points="718.5,512.8 697,510.4"/><polyline points="718.5,518.4 697,516"/><polyline points="718.5,520 697,517.6"/><polyline points="718.5,525.6 697,523.2"/><polyline points="718.5,527.2 697,524.8"/><polyline points="718.5,532.8 697,530.4"/><polyline points="718.5,534.4 697,532"/><polyline points="718.5,540 697,537.6"/><polyline points="718.5,541.6 697,539.2"/><polyline points="718.5,547.2 697,544.8"/><polyline points="718.5,548.8 697,546.4"/><polyline points="718.5,554.4 697,552"/><polyline points="718.5,556 697,553.6"/><polyline points="718.5,561.6 697,559.2"/><polyline points="718.5,563.2 697,560.8"/><polyline points="718.5,568.8 697,566.4"/><polyline points="718.5,570.4 697,568"/><polyline points="718.5,576 697,573.6"/><polyline points="718.5,577.6 697,575.2"/><polyline points="718.5,583.2 697,580.8"/><polyline points="718.5,584.8 697,582.4"/><polyline points="718.5,590.4 697,588"/><polyline points="718.5,592 697,589.6"/><polyline points="718.5,597.6 697,595.2"/><polyline points="718.5,599.2 697,596.8"/><polyline points="718.5,604.8 697,602.4"/><polyline points="718.5,606.4 697,604"/><polyline points="718.5,612 697,609.6"/><polyline points="718.5,613.6 697,611.2"/><polyline points="718.5,619.2 697,616.8"/><polyline points="718.5,620.8 697,618.4"/><polyline points="718.5,626.4 697,624"/><polyline points="718.5,628 697,625.6"/><polyline points="718.5,633.6 697,631.2"/><polyline points="718.5,635.2 697,632.8"/><polyline points="718.5,640.8 697,638.4"/><polyline points="718.5,642.4 697,640"/><polyline points="718.5,648 697,645.6"/><polyline points="718.5,649.6 697,647.2"/><polyline points="718.5,655.2 697,652.8"/><polyline points="718.5,656.8 697,654.4"/><polyline points="718.5,662.4 697,660"/><polyline points="718.5,664 697,661.6"/><polyline points="723,506 724,662"/><polyline points="719,506 720,662"/></g>
<g fill="none" stroke="#444" stroke-width="0.45"><polyline points="341.2,695 345.2,719"/><polyline points="344,698 358,694"/><polyline points="342.8,695 346.8,719"/><polyline points="344,701 358,697"/><polyline points="344.4,695 348.4,719"/><polyline points="344,704 358,700"/><polyline points="346,695 350,719"/><polyline points="344,707 358,703"/><polyline points="347.6,695 351.6,719"/><polyline points="344,710 358,706"/><polyline points="349.2,695 353.2,719"/><polyline points="344,713 358,709"/><polyline points="350.8,695 354.8,719"/><polyline points="344,716 358,712"/><polyline points="796.8,695 792.8,719"/><polyline points="794,698 780,694"/><polyline points="795.2,695 791.2,719"/><polyline points="794,701 780,697"/><polyline points="793.6,695 789.6,719"/><polyline points="794,704 780,700"/><polyline points="792,695 788,719"/><polyline points="794,707 780,703"/><polyline points="790.4,695 786.4,719"/><polyline points="794,710 780,706"/><polyline points="788.8,695 784.8,719"/><polyline points="794,713 780,709"/><polyline points="787.2,695 783.2,719"/><polyline points="794,716 780,712"/><polyline stroke="#2d6f76" stroke-width="0.8" stroke-dasharray="2 1.5" points="427,181.3 514,181.3"/><polyline stroke="#2d6f76" stroke-width="0.8" stroke-dasharray="2 1.5" points="711,181.3 624,181.3"/></g></g></defs>
<use href="#bund" transform="matrix(1.0 0 0 1.0 0 0)"/>
<clipPath id="c0_top"><polygon points="414,170 724,170 724,215.8 414,215.8"/></clipPath>
<g clip-path="url(#c0_top)"><rect x="414" y="170" width="310" height="45.8" fill="#68d6b2"/><path fill="#76d0c4" d="M414 170h16.1v16.1h-16.1zM429.5 170h16.1v16.1h-16.1zM445 201h16.1v16.1h-16.1zM460.5 170h16.1v16.1h-16.1zM615.5 185.5h16.1v16.1h-16.1zM677.5 170h16.1v16.1h-16.1zM693 170h16.1v16.1h-16.1z"/><path fill="#66d4b0" d="M414 185.5h16.1v16.1h-16.1zM476 170h16.1v16.1h-16.1zM491.5 170h16.1v16.1h-16.1zM569 170h16.1v16.1h-16.1zM584.5 201h16.1v16.1h-16.1z"/><path fill="#7ccdca" d="M414 201h16.1v16.1h-16.1zM445 185.5h16.1v16.1h-16.1zM476 185.5h16.1v16.1h-16.1zM507 170h16.1v16.1h-16.1zM615.5 170h16.1v16.1h-16.1zM708.5 201h16.1v16.1h-16.1z"/><path fill="#6cd8b0" d="M429.5 185.5h16.1v16.1h-16.1zM445 170h16.1v16.1h-16.1zM553.5 201h16.1v16.1h-16.1zM600 170h16.1v16.1h-16.1zM615.5 201h16.1v16.1h-16.1zM677.5 185.5h16.1v16.1h-16.1zM708.5 170h16.1v16.1h-16.1z"/><path fill="#8cc4e0" d="M429.5 201h16.1v16.1h-16.1zM538 170h16.1v16.1h-16.1z"/><path fill="#88c6dc" d="M460.5 185.5h16.1v16.1h-16.1zM522.5 170h16.1v16.1h-16.1zM631 185.5h16.1v16.1h-16.1z"/><path fill="#72d7b4" d="M460.5 201h16.1v16.1h-16.1zM507 201h16.1v16.1h-16.1zM538 201h16.1v16.1h-16.1zM584.5 170h16.1v16.1h-16.1zM662 185.5h16.1v16.1h-16.1zM708.5 185.5h16.1v16.1h-16.1z"/><path fill="#80cbd0" d="M476 201h16.1v16.1h-16.1zM553.5 185.5h16.1v16.1h-16.1zM600 201h16.1v16.1h-16.1zM631 170h16.1v16.1h-16.1zM646.5 201h16.1v16.1h-16.1zM662 201h16.1v16.1h-16.1z"/><path fill="#94e09c" d="M491.5 185.5h16.1v16.1h-16.1zM646.5 170h16.1v16.1h-16.1z"/><path fill="#82dca4" d="M507 185.5h16.1v16.1h-16.1zM662 170h16.1v16.1h-16.1z"/><path fill="#70d9ac" d="M522.5 185.5h16.1v16.1h-16.1zM522.5 201h16.1v16.1h-16.1zM569 201h16.1v16.1h-16.1zM600 185.5h16.1v16.1h-16.1zM631 201h16.1v16.1h-16.1zM646.5 185.5h16.1v16.1h-16.1zM677.5 201h16.1v16.1h-16.1zM693 201h16.1v16.1h-16.1z"/><path fill="#8ade9e" d="M553.5 170h16.1v16.1h-16.1zM693 185.5h16.1v16.1h-16.1z"/></g>
<clipPath id="c0_midc"><polygon points="448.7,291.5 689.3,291.5 693.2,465.5 444.8,465.5"/></clipPath>
<g clip-path="url(#c0_midc)"><rect x="444.8" y="291.5" width="248.4" height="174" fill="#66d4b0"/><path fill="#76d0c4" d="M444.8 291.5h16v16h-16zM444.8 322.3h16v16h-16zM444.8 460.9h16v16h-16zM460.2 337.7h16v16h-16zM491 322.3h16v16h-16zM491 353.1h16v16h-16zM521.8 430.1h16v16h-16zM537.2 399.3h16v16h-16zM537.2 460.9h16v16h-16zM552.6 445.5h16v16h-16zM583.4 337.7h16v16h-16zM598.8 368.5h16v16h-16zM614.2 399.3h16v16h-16zM645 368.5h16v16h-16zM660.4 353.1h16v16h-16zM660.4 383.9h16v16h-16zM675.8 306.9h16v16h-16zM675.8 322.3h16v16h-16zM675.8 399.3h16v16h-16zM691.2 322.3h16v16h-16z"/><path fill="#80cbd0" d="M444.8 306.9h16v16h-16zM460.2 291.5h16v16h-16zM475.6 291.5h16v16h-16zM475.6 306.9h16v16h-16zM475.6 353.1h16v16h-16zM552.6 353.1h16v16h-16zM552.6 430.1h16v16h-16zM583.4 430.1h16v16h-16zM629.6 399.3h16v16h-16zM645 322.3h16v16h-16zM645 399.3h16v16h-16zM675.8 460.9h16v16h-16zM691.2 383.9h16v16h-16z"/><path fill="#8ade9e" d="M444.8 337.7h16v16h-16zM475.6 445.5h16v16h-16zM506.4 322.3h16v16h-16zM506.4 368.5h16v16h-16zM537.2 291.5h16v16h-16zM537.2 322.3h16v16h-16zM552.6 414.7h16v16h-16zM568 306.9h16v16h-16zM568 414.7h16v16h-16zM583.4 399.3h16v16h-16zM598.8 291.5h16v16h-16zM629.6 306.9h16v16h-16zM660.4 322.3h16v16h-16z"/><path fill="#6cd8b0" d="M444.8 353.1h16v16h-16zM444.8 368.5h16v16h-16zM444.8 399.3h16v16h-16zM444.8 430.1h16v16h-16zM475.6 460.9h16v16h-16zM491 337.7h16v16h-16zM491 414.7h16v16h-16zM506.4 460.9h16v16h-16zM537.2 353.1h16v16h-16zM537.2 430.1h16v16h-16zM552.6 291.5h16v16h-16zM552.6 337.7h16v16h-16zM552.6 368.5h16v16h-16zM568 291.5h16v16h-16zM568 353.1h16v16h-16zM583.4 414.7h16v16h-16zM583.4 460.9h16v16h-16zM598.8 337.7h16v16h-16zM614.2 306.9h16v16h-16zM614.2 430.1h16v16h-16zM629.6 460.9h16v16h-16zM645 291.5h16v16h-16zM645 445.5h16v16h-16zM675.8 353.1h16v16h-16z"/><path fill="#7ccdca" d="M444.8 383.9h16v16h-16zM475.6 368.5h16v16h-16zM475.6 383.9h16v16h-16zM475.6 399.3h16v16h-16zM491 399.3h16v16h-16zM491 445.5h16v16h-16zM506.4 399.3h16v16h-16zM521.8 337.7h16v16h-16zM537.2 414.7h16v16h-16zM568 337.7h16v16h-16zM568 430.1h16v16h-16zM614.2 445.5h16v16h-16zM660.4 445.5h16v16h-16zM691.2 337.7h16v16h-16z"/><path fill="#82dca4" d="M444.8 414.7h16v16h-16zM460.2 430.1h16v16h-16zM521.8 414.7h16v16h-16zM537.2 445.5h16v16h-16zM552.6 306.9h16v16h-16zM583.4 445.5h16v16h-16zM691.2 291.5h16v16h-16z"/><path fill="#70d9ac" d="M444.8 445.5h16v16h-16zM460.2 353.1h16v16h-16zM460.2 383.9h16v16h-16zM475.6 414.7h16v16h-16zM491 291.5h16v16h-16zM506.4 383.9h16v16h-16zM521.8 322.3h16v16h-16zM521.8 353.1h16v16h-16zM552.6 460.9h16v16h-16zM583.4 291.5h16v16h-16zM583.4 353.1h16v16h-16zM598.8 353.1h16v16h-16zM598.8 383.9h16v16h-16zM629.6 322.3h16v16h-16zM629.6 383.9h16v16h-16zM629.6 414.7h16v16h-16zM645 306.9h16v16h-16zM660.4 306.9h16v16h-16zM675.8 445.5h16v16h-16zM691.2 414.7h16v16h-16zM691.2 430.1h16v16h-16z"/><path fill="#8cc4e0" d="M460.2 306.9h16v16h-16zM460.2 322.3h16v16h-16zM491 306.9h16v16h-16zM568 322.3h16v16h-16zM645 383.9h16v16h-16zM645 460.9h16v16h-16zM660.4 460.9h16v16h-16z"/><path fill="#68d6b2" d="M460.2 368.5h16v16h-16zM460.2 460.9h16v16h-16zM475.6 430.1h16v16h-16zM506.4 337.7h16v16h-16zM521.8 291.5h16v16h-16zM521.8 368.5h16v16h-16zM521.8 460.9h16v16h-16zM568 383.9h16v16h-16zM568 445.5h16v16h-16zM568 460.9h16v16h-16zM583.4 368.5h16v16h-16zM598.8 399.3h16v16h-16zM598.8 414.7h16v16h-16zM614.2 291.5h16v16h-16zM660.4 291.5h16v16h-16zM675.8 291.5h16v16h-16zM691.2 368.5h16v16h-16zM691.2 445.5h16v16h-16z"/><path fill="#94e09c" d="M460.2 399.3h16v16h-16zM475.6 322.3h16v16h-16zM475.6 337.7h16v16h-16zM506.4 353.1h16v16h-16zM506.4 445.5h16v16h-16zM521.8 383.9h16v16h-16zM521.8 399.3h16v16h-16zM537.2 383.9h16v16h-16zM552.6 399.3h16v16h-16zM568 399.3h16v16h-16zM598.8 322.3h16v16h-16zM598.8 460.9h16v16h-16zM614.2 322.3h16v16h-16zM614.2 337.7h16v16h-16zM614.2 353.1h16v16h-16zM614.2 460.9h16v16h-16zM660.4 368.5h16v16h-16zM675.8 337.7h16v16h-16z"/><path fill="#aae496" d="M460.2 414.7h16v16h-16zM491 368.5h16v16h-16zM506.4 414.7h16v16h-16zM506.4 430.1h16v16h-16zM537.2 368.5h16v16h-16zM568 368.5h16v16h-16zM598.8 430.1h16v16h-16zM629.6 430.1h16v16h-16zM645 414.7h16v16h-16zM675.8 414.7h16v16h-16zM675.8 430.1h16v16h-16z"/><path fill="#72d7b4" d="M491 383.9h16v16h-16zM506.4 306.9h16v16h-16zM521.8 306.9h16v16h-16zM537.2 306.9h16v16h-16zM537.2 337.7h16v16h-16zM552.6 322.3h16v16h-16zM583.4 322.3h16v16h-16zM583.4 383.9h16v16h-16zM598.8 306.9h16v16h-16zM598.8 445.5h16v16h-16zM660.4 414.7h16v16h-16zM691.2 306.9h16v16h-16zM691.2 353.1h16v16h-16zM691.2 399.3h16v16h-16zM691.2 460.9h16v16h-16z"/><path fill="#a2e29a" d="M614.2 368.5h16v16h-16zM629.6 368.5h16v16h-16zM645 337.7h16v16h-16zM645 430.1h16v16h-16zM675.8 368.5h16v16h-16zM675.8 383.9h16v16h-16z"/><path fill="#88c6dc" d="M614.2 414.7h16v16h-16zM660.4 430.1h16v16h-16z"/></g>
<clipPath id="c0_midl"><polygon points="319.4,313.8 335.6,302 417.4,302 412.4,474.6 344,474.6 343,488.7 325.5,490.4 334.3,332.3 310.5,495.7 291.2,495.7"/></clipPath>
<g clip-path="url(#c0_midl)"><rect x="291.2" y="302" width="126.2" height="193.7" fill="#70d9ac"/><path fill="#aae496" d="M291.2 302h16.8v16.8h-16.8zM291.2 366.8h16.8v16.8h-16.8zM339.8 415.4h16.8v16.8h-16.8zM339.8 431.6h16.8v16.8h-16.8zM356 431.6h16.8v16.8h-16.8zM372.2 383h16.8v16.8h-16.8zM372.2 447.8h16.8v16.8h-16.8zM388.4 334.4h16.8v16.8h-16.8zM388.4 415.4h16.8v16.8h-16.8z"/><path fill="#a2e29a" d="M291.2 318.2h16.8v16.8h-16.8zM291.2 399.2h16.8v16.8h-16.8zM307.4 464h16.8v16.8h-16.8zM339.8 366.8h16.8v16.8h-16.8zM339.8 383h16.8v16.8h-16.8zM388.4 302h16.8v16.8h-16.8zM404.6 431.6h16.8v16.8h-16.8z"/><path fill="#8cc4e0" d="M291.2 334.4h16.8v16.8h-16.8zM339.8 480.2h16.8v16.8h-16.8zM356 302h16.8v16.8h-16.8z"/><path fill="#76d0c4" d="M291.2 350.6h16.8v16.8h-16.8zM388.4 383h16.8v16.8h-16.8z"/><path fill="#6cd8b0" d="M291.2 383h16.8v16.8h-16.8zM291.2 415.4h16.8v16.8h-16.8zM307.4 318.2h16.8v16.8h-16.8zM339.8 318.2h16.8v16.8h-16.8zM356 318.2h16.8v16.8h-16.8zM372.2 431.6h16.8v16.8h-16.8z"/><path fill="#88c6dc" d="M291.2 431.6h16.8v16.8h-16.8zM356 415.4h16.8v16.8h-16.8zM356 480.2h16.8v16.8h-16.8zM372.2 350.6h16.8v16.8h-16.8z"/><path fill="#8ade9e" d="M291.2 464h16.8v16.8h-16.8zM307.4 383h16.8v16.8h-16.8zM323.6 334.4h16.8v16.8h-16.8zM323.6 350.6h16.8v16.8h-16.8zM323.6 415.4h16.8v16.8h-16.8zM356 366.8h16.8v16.8h-16.8zM356 383h16.8v16.8h-16.8zM356 464h16.8v16.8h-16.8zM372.2 334.4h16.8v16.8h-16.8zM372.2 399.2h16.8v16.8h-16.8zM388.4 464h16.8v16.8h-16.8zM404.6 366.8h16.8v16.8h-16.8z"/><path fill="#80cbd0" d="M291.2 480.2h16.8v16.8h-16.8zM307.4 366.8h16.8v16.8h-16.8zM323.6 318.2h16.8v16.8h-16.8zM339.8 334.4h16.8v16.8h-16.8zM404.6 415.4h16.8v16.8h-16.8z"/><path fill="#72d7b4" d="M307.4 302h16.8v16.8h-16.8zM307.4 350.6h16.8v16.8h-16.8zM307.4 415.4h16.8v16.8h-16.8zM323.6 383h16.8v16.8h-16.8zM323.6 431.6h16.8v16.8h-16.8zM356 447.8h16.8v16.8h-16.8zM372.2 302h16.8v16.8h-16.8zM372.2 318.2h16.8v16.8h-16.8zM404.6 334.4h16.8v16.8h-16.8z"/><path fill="#7ccdca" d="M307.4 334.4h16.8v16.8h-16.8zM339.8 464h16.8v16.8h-16.8zM372.2 366.8h16.8v16.8h-16.8zM404.6 302h16.8v16.8h-16.8z"/><path fill="#66d4b0" d="M307.4 399.2h16.8v16.8h-16.8zM323.6 399.2h16.8v16.8h-16.8zM339.8 350.6h16.8v16.8h-16.8zM372.2 464h16.8v16.8h-16.8zM388.4 431.6h16.8v16.8h-16.8zM404.6 464h16.8v16.8h-16.8zM404.6 480.2h16.8v16.8h-16.8z"/><path fill="#94e09c" d="M307.4 447.8h16.8v16.8h-16.8zM323.6 302h16.8v16.8h-16.8zM323.6 366.8h16.8v16.8h-16.8zM323.6 447.8h16.8v16.8h-16.8zM323.6 464h16.8v16.8h-16.8zM339.8 302h16.8v16.8h-16.8zM388.4 350.6h16.8v16.8h-16.8zM404.6 383h16.8v16.8h-16.8z"/><path fill="#c6ea94" d="M307.4 480.2h16.8v16.8h-16.8z"/><path fill="#68d6b2" d="M323.6 480.2h16.8v16.8h-16.8zM356 350.6h16.8v16.8h-16.8zM388.4 318.2h16.8v16.8h-16.8zM388.4 399.2h16.8v16.8h-16.8zM388.4 447.8h16.8v16.8h-16.8zM388.4 480.2h16.8v16.8h-16.8zM404.6 350.6h16.8v16.8h-16.8z"/><path fill="#82dca4" d="M356 334.4h16.8v16.8h-16.8zM356 399.2h16.8v16.8h-16.8zM404.6 447.8h16.8v16.8h-16.8z"/><path fill="#d0ec98" d="M372.2 415.4h16.8v16.8h-16.8zM404.6 399.2h16.8v16.8h-16.8z"/><path fill="#bce894" d="M372.2 480.2h16.8v16.8h-16.8zM404.6 318.2h16.8v16.8h-16.8z"/></g>
<clipPath id="c0_midr"><polygon points="818.6,313.8 802.4,302 720.6,302 725.6,474.6 794,474.6 795,488.7 812.5,490.4 803.7,332.3 827.5,495.7 846.8,495.7"/></clipPath>
<g clip-path="url(#c0_midr)"><rect x="720.6" y="302" width="126.2" height="193.7" fill="#66d4b0"/><path fill="#82dca4" d="M720.6 302h16.8v16.8h-16.8zM753 383h16.8v16.8h-16.8zM753 447.8h16.8v16.8h-16.8zM769.2 334.4h16.8v16.8h-16.8zM801.6 399.2h16.8v16.8h-16.8z"/><path fill="#70d9ac" d="M720.6 318.2h16.8v16.8h-16.8zM736.8 431.6h16.8v16.8h-16.8zM753 350.6h16.8v16.8h-16.8zM785.4 334.4h16.8v16.8h-16.8zM785.4 383h16.8v16.8h-16.8zM785.4 480.2h16.8v16.8h-16.8zM801.6 464h16.8v16.8h-16.8zM817.8 318.2h16.8v16.8h-16.8zM817.8 366.8h16.8v16.8h-16.8zM834 350.6h16.8v16.8h-16.8zM834 415.4h16.8v16.8h-16.8z"/><path fill="#80cbd0" d="M720.6 334.4h16.8v16.8h-16.8zM817.8 350.6h16.8v16.8h-16.8z"/><path fill="#8ade9e" d="M720.6 366.8h16.8v16.8h-16.8zM736.8 383h16.8v16.8h-16.8zM753 334.4h16.8v16.8h-16.8zM801.6 350.6h16.8v16.8h-16.8zM834 383h16.8v16.8h-16.8z"/><path fill="#76d0c4" d="M720.6 383h16.8v16.8h-16.8zM736.8 480.2h16.8v16.8h-16.8zM769.2 431.6h16.8v16.8h-16.8zM769.2 480.2h16.8v16.8h-16.8zM785.4 464h16.8v16.8h-16.8zM801.6 334.4h16.8v16.8h-16.8z"/><path fill="#a2e29a" d="M720.6 399.2h16.8v16.8h-16.8zM736.8 302h16.8v16.8h-16.8zM736.8 334.4h16.8v16.8h-16.8zM736.8 399.2h16.8v16.8h-16.8zM753 318.2h16.8v16.8h-16.8zM769.2 302h16.8v16.8h-16.8zM769.2 383h16.8v16.8h-16.8zM785.4 350.6h16.8v16.8h-16.8zM817.8 399.2h16.8v16.8h-16.8zM817.8 464h16.8v16.8h-16.8z"/><path fill="#6cd8b0" d="M720.6 415.4h16.8v16.8h-16.8zM736.8 464h16.8v16.8h-16.8zM769.2 350.6h16.8v16.8h-16.8zM769.2 399.2h16.8v16.8h-16.8zM769.2 464h16.8v16.8h-16.8zM834 447.8h16.8v16.8h-16.8z"/><path fill="#aae496" d="M720.6 431.6h16.8v16.8h-16.8zM720.6 447.8h16.8v16.8h-16.8zM720.6 464h16.8v16.8h-16.8zM736.8 447.8h16.8v16.8h-16.8zM753 464h16.8v16.8h-16.8zM769.2 415.4h16.8v16.8h-16.8zM785.4 302h16.8v16.8h-16.8zM785.4 431.6h16.8v16.8h-16.8zM801.6 383h16.8v16.8h-16.8zM801.6 480.2h16.8v16.8h-16.8zM817.8 383h16.8v16.8h-16.8zM834 334.4h16.8v16.8h-16.8z"/><path fill="#68d6b2" d="M720.6 480.2h16.8v16.8h-16.8zM736.8 318.2h16.8v16.8h-16.8zM769.2 366.8h16.8v16.8h-16.8zM785.4 399.2h16.8v16.8h-16.8zM785.4 447.8h16.8v16.8h-16.8z"/><path fill="#8cc4e0" d="M736.8 350.6h16.8v16.8h-16.8zM753 480.2h16.8v16.8h-16.8zM801.6 302h16.8v16.8h-16.8z"/><path fill="#88c6dc" d="M736.8 415.4h16.8v16.8h-16.8zM801.6 366.8h16.8v16.8h-16.8zM834 399.2h16.8v16.8h-16.8z"/><path fill="#94e09c" d="M753 302h16.8v16.8h-16.8zM753 431.6h16.8v16.8h-16.8zM769.2 318.2h16.8v16.8h-16.8zM817.8 334.4h16.8v16.8h-16.8zM834 431.6h16.8v16.8h-16.8z"/><path fill="#d0ec98" d="M753 366.8h16.8v16.8h-16.8zM801.6 318.2h16.8v16.8h-16.8zM834 480.2h16.8v16.8h-16.8z"/><path fill="#72d7b4" d="M753 399.2h16.8v16.8h-16.8zM785.4 318.2h16.8v16.8h-16.8zM801.6 415.4h16.8v16.8h-16.8zM801.6 447.8h16.8v16.8h-16.8zM834 302h16.8v16.8h-16.8z"/><path fill="#bce894" d="M769.2 447.8h16.8v16.8h-16.8zM817.8 480.2h16.8v16.8h-16.8z"/><path fill="#7ccdca" d="M817.8 302h16.8v16.8h-16.8zM817.8 415.4h16.8v16.8h-16.8zM817.8 431.6h16.8v16.8h-16.8zM834 318.2h16.8v16.8h-16.8zM834 366.8h16.8v16.8h-16.8z"/><path fill="#c6ea94" d="M817.8 447.8h16.8v16.8h-16.8z"/></g>
<clipPath id="c0_lowc"><polygon points="443.3,493.6 694.7,493.6 701.3,637.8 436.7,637.8"/></clipPath>
<g clip-path="url(#c0_lowc)"><rect x="436.7" y="493.6" width="264.6" height="144.2" fill="#6cd8b0"/><path fill="#94e09c" d="M436.7 493.6h17.5v17.5h-17.5zM436.7 510.5h17.5v17.5h-17.5zM453.6 595h17.5v17.5h-17.5zM470.5 595h17.5v17.5h-17.5zM487.4 510.5h17.5v17.5h-17.5zM487.4 611.9h17.5v17.5h-17.5zM571.9 493.6h17.5v17.5h-17.5zM571.9 561.2h17.5v17.5h-17.5zM588.8 561.2h17.5v17.5h-17.5zM588.8 628.8h17.5v17.5h-17.5zM639.5 527.4h17.5v17.5h-17.5zM639.5 544.3h17.5v17.5h-17.5z"/><path fill="#70d9ac" d="M436.7 527.4h17.5v17.5h-17.5zM436.7 628.8h17.5v17.5h-17.5zM453.6 561.2h17.5v17.5h-17.5zM453.6 611.9h17.5v17.5h-17.5zM470.5 578.1h17.5v17.5h-17.5zM487.4 578.1h17.5v17.5h-17.5zM504.3 611.9h17.5v17.5h-17.5zM605.7 527.4h17.5v17.5h-17.5zM605.7 595h17.5v17.5h-17.5zM673.3 544.3h17.5v17.5h-17.5zM690.2 611.9h17.5v17.5h-17.5z"/><path fill="#72d7b4" d="M436.7 544.3h17.5v17.5h-17.5zM470.5 527.4h17.5v17.5h-17.5zM487.4 561.2h17.5v17.5h-17.5zM538.1 493.6h17.5v17.5h-17.5zM588.8 578.1h17.5v17.5h-17.5zM588.8 595h17.5v17.5h-17.5zM639.5 561.2h17.5v17.5h-17.5zM656.4 527.4h17.5v17.5h-17.5zM656.4 578.1h17.5v17.5h-17.5zM656.4 595h17.5v17.5h-17.5zM673.3 561.2h17.5v17.5h-17.5zM690.2 628.8h17.5v17.5h-17.5z"/><path fill="#76d0c4" d="M436.7 561.2h17.5v17.5h-17.5zM453.6 578.1h17.5v17.5h-17.5z"/><path fill="#a2e29a" d="M436.7 578.1h17.5v17.5h-17.5zM504.3 578.1h17.5v17.5h-17.5zM555 561.2h17.5v17.5h-17.5zM555 628.8h17.5v17.5h-17.5zM571.9 578.1h17.5v17.5h-17.5zM571.9 611.9h17.5v17.5h-17.5zM588.8 510.5h17.5v17.5h-17.5zM605.7 510.5h17.5v17.5h-17.5zM622.6 527.4h17.5v17.5h-17.5zM656.4 544.3h17.5v17.5h-17.5zM673.3 510.5h17.5v17.5h-17.5z"/><path fill="#82dca4" d="M436.7 595h17.5v17.5h-17.5zM453.6 544.3h17.5v17.5h-17.5zM487.4 628.8h17.5v17.5h-17.5zM504.3 527.4h17.5v17.5h-17.5zM538.1 595h17.5v17.5h-17.5zM555 493.6h17.5v17.5h-17.5zM555 527.4h17.5v17.5h-17.5zM571.9 595h17.5v17.5h-17.5zM639.5 510.5h17.5v17.5h-17.5zM639.5 595h17.5v17.5h-17.5zM656.4 510.5h17.5v17.5h-17.5zM673.3 628.8h17.5v17.5h-17.5zM690.2 510.5h17.5v17.5h-17.5z"/><path fill="#7ccdca" d="M436.7 611.9h17.5v17.5h-17.5zM470.5 510.5h17.5v17.5h-17.5zM622.6 561.2h17.5v17.5h-17.5z"/><path fill="#aae496" d="M453.6 493.6h17.5v17.5h-17.5zM470.5 544.3h17.5v17.5h-17.5zM470.5 628.8h17.5v17.5h-17.5zM504.3 595h17.5v17.5h-17.5zM521.2 628.8h17.5v17.5h-17.5zM538.1 578.1h17.5v17.5h-17.5zM605.7 493.6h17.5v17.5h-17.5zM605.7 544.3h17.5v17.5h-17.5z"/><path fill="#8ade9e" d="M453.6 510.5h17.5v17.5h-17.5zM470.5 493.6h17.5v17.5h-17.5zM504.3 628.8h17.5v17.5h-17.5zM521.2 493.6h17.5v17.5h-17.5zM521.2 510.5h17.5v17.5h-17.5zM521.2 611.9h17.5v17.5h-17.5zM538.1 527.4h17.5v17.5h-17.5zM571.9 628.8h17.5v17.5h-17.5zM588.8 493.6h17.5v17.5h-17.5zM588.8 527.4h17.5v17.5h-17.5zM622.6 595h17.5v17.5h-17.5zM656.4 611.9h17.5v17.5h-17.5zM673.3 493.6h17.5v17.5h-17.5z"/><path fill="#68d6b2" d="M453.6 527.4h17.5v17.5h-17.5zM521.2 544.3h17.5v17.5h-17.5zM521.2 595h17.5v17.5h-17.5zM538.1 611.9h17.5v17.5h-17.5zM555 544.3h17.5v17.5h-17.5zM605.7 611.9h17.5v17.5h-17.5zM605.7 628.8h17.5v17.5h-17.5zM639.5 493.6h17.5v17.5h-17.5zM639.5 578.1h17.5v17.5h-17.5zM656.4 493.6h17.5v17.5h-17.5zM673.3 527.4h17.5v17.5h-17.5zM673.3 595h17.5v17.5h-17.5zM673.3 611.9h17.5v17.5h-17.5zM690.2 527.4h17.5v17.5h-17.5zM690.2 595h17.5v17.5h-17.5z"/><path fill="#66d4b0" d="M470.5 561.2h17.5v17.5h-17.5zM487.4 527.4h17.5v17.5h-17.5zM487.4 595h17.5v17.5h-17.5zM504.3 544.3h17.5v17.5h-17.5zM538.1 510.5h17.5v17.5h-17.5zM538.1 544.3h17.5v17.5h-17.5zM538.1 561.2h17.5v17.5h-17.5zM555 510.5h17.5v17.5h-17.5zM571.9 544.3h17.5v17.5h-17.5zM588.8 544.3h17.5v17.5h-17.5zM588.8 611.9h17.5v17.5h-17.5zM605.7 561.2h17.5v17.5h-17.5zM622.6 493.6h17.5v17.5h-17.5zM622.6 578.1h17.5v17.5h-17.5zM622.6 611.9h17.5v17.5h-17.5zM622.6 628.8h17.5v17.5h-17.5zM639.5 611.9h17.5v17.5h-17.5zM690.2 578.1h17.5v17.5h-17.5z"/><path fill="#d0ec98" d="M487.4 493.6h17.5v17.5h-17.5zM504.3 510.5h17.5v17.5h-17.5zM571.9 527.4h17.5v17.5h-17.5z"/><path fill="#80cbd0" d="M487.4 544.3h17.5v17.5h-17.5zM555 595h17.5v17.5h-17.5zM622.6 510.5h17.5v17.5h-17.5zM622.6 544.3h17.5v17.5h-17.5zM656.4 561.2h17.5v17.5h-17.5z"/><path fill="#c6ea94" d="M521.2 578.1h17.5v17.5h-17.5z"/><path fill="#bce894" d="M538.1 628.8h17.5v17.5h-17.5z"/></g>
<clipPath id="c0_lowl"><polygon points="322.4,518.3 357.5,517 357.5,504 409.5,506.1 403,653.4 348.4,653.4 347.1,669 313.3,669"/></clipPath>
<g clip-path="url(#c0_lowl)"><rect x="313.3" y="504" width="96.2" height="165" fill="#70d9ac"/><path fill="#bce894" d="M313.3 504h17.5v17.5h-17.5zM364 588.5h17.5v17.5h-17.5zM380.9 554.7h17.5v17.5h-17.5zM380.9 639.2h17.5v17.5h-17.5zM397.8 520.9h17.5v17.5h-17.5z"/><path fill="#94e09c" d="M313.3 520.9h17.5v17.5h-17.5zM313.3 571.6h17.5v17.5h-17.5zM330.2 639.2h17.5v17.5h-17.5zM347.1 504h17.5v17.5h-17.5zM364 656.1h17.5v17.5h-17.5zM380.9 588.5h17.5v17.5h-17.5zM397.8 571.6h17.5v17.5h-17.5zM397.8 588.5h17.5v17.5h-17.5z"/><path fill="#a2e29a" d="M313.3 537.8h17.5v17.5h-17.5zM313.3 639.2h17.5v17.5h-17.5zM364 520.9h17.5v17.5h-17.5zM380.9 537.8h17.5v17.5h-17.5zM397.8 605.4h17.5v17.5h-17.5z"/><path fill="#aae496" d="M313.3 554.7h17.5v17.5h-17.5zM313.3 588.5h17.5v17.5h-17.5zM313.3 605.4h17.5v17.5h-17.5zM330.2 605.4h17.5v17.5h-17.5zM364 622.3h17.5v17.5h-17.5zM380.9 571.6h17.5v17.5h-17.5zM397.8 622.3h17.5v17.5h-17.5zM397.8 656.1h17.5v17.5h-17.5z"/><path fill="#88c6dc" d="M313.3 622.3h17.5v17.5h-17.5z"/><path fill="#72d7b4" d="M313.3 656.1h17.5v17.5h-17.5zM330.2 622.3h17.5v17.5h-17.5zM347.1 554.7h17.5v17.5h-17.5zM347.1 656.1h17.5v17.5h-17.5zM364 571.6h17.5v17.5h-17.5zM397.8 504h17.5v17.5h-17.5z"/><path fill="#68d6b2" d="M330.2 504h17.5v17.5h-17.5zM347.1 571.6h17.5v17.5h-17.5z"/><path fill="#66d4b0" d="M330.2 520.9h17.5v17.5h-17.5zM347.1 622.3h17.5v17.5h-17.5z"/><path fill="#76d0c4" d="M330.2 537.8h17.5v17.5h-17.5z"/><path fill="#7ccdca" d="M330.2 554.7h17.5v17.5h-17.5zM364 639.2h17.5v17.5h-17.5z"/><path fill="#c6ea94" d="M330.2 571.6h17.5v17.5h-17.5zM347.1 639.2h17.5v17.5h-17.5zM397.8 554.7h17.5v17.5h-17.5z"/><path fill="#8ade9e" d="M330.2 588.5h17.5v17.5h-17.5zM347.1 588.5h17.5v17.5h-17.5zM347.1 605.4h17.5v17.5h-17.5zM364 605.4h17.5v17.5h-17.5zM380.9 622.3h17.5v17.5h-17.5zM397.8 639.2h17.5v17.5h-17.5z"/><path fill="#d0ec98" d="M330.2 656.1h17.5v17.5h-17.5zM364 554.7h17.5v17.5h-17.5zM380.9 605.4h17.5v17.5h-17.5zM380.9 656.1h17.5v17.5h-17.5z"/><path fill="#82dca4" d="M347.1 537.8h17.5v17.5h-17.5zM364 537.8h17.5v17.5h-17.5zM380.9 504h17.5v17.5h-17.5zM380.9 520.9h17.5v17.5h-17.5z"/><path fill="#6cd8b0" d="M397.8 537.8h17.5v17.5h-17.5z"/></g>
<clipPath id="c0_lowr"><polygon points="815.6,518.3 780.5,517 780.5,504 728.5,506.1 735,653.4 789.6,653.4 790.9,669 824.7,669"/></clipPath>
<g clip-path="url(#c0_lowr)"><rect x="728.5" y="504" width="96.2" height="165" fill="#66d4b0"/><path fill="#bce894" d="M728.5 504h17.5v17.5h-17.5zM728.5 554.7h17.5v17.5h-17.5zM728.5 622.3h17.5v17.5h-17.5zM762.3 504h17.5v17.5h-17.5zM762.3 605.4h17.5v17.5h-17.5zM762.3 622.3h17.5v17.5h-17.5zM762.3 639.2h17.5v17.5h-17.5zM779.2 622.3h17.5v17.5h-17.5z"/><path fill="#a2e29a" d="M728.5 520.9h17.5v17.5h-17.5zM728.5 605.4h17.5v17.5h-17.5zM745.4 605.4h17.5v17.5h-17.5zM762.3 554.7h17.5v17.5h-17.5zM779.2 504h17.5v17.5h-17.5zM796.1 554.7h17.5v17.5h-17.5zM813 639.2h17.5v17.5h-17.5z"/><path fill="#6cd8b0" d="M728.5 537.8h17.5v17.5h-17.5zM762.3 537.8h17.5v17.5h-17.5zM796.1 588.5h17.5v17.5h-17.5zM796.1 656.1h17.5v17.5h-17.5z"/><path fill="#94e09c" d="M728.5 571.6h17.5v17.5h-17.5zM745.4 588.5h17.5v17.5h-17.5zM745.4 639.2h17.5v17.5h-17.5zM762.3 656.1h17.5v17.5h-17.5zM796.1 605.4h17.5v17.5h-17.5zM813 520.9h17.5v17.5h-17.5zM813 537.8h17.5v17.5h-17.5z"/><path fill="#8ade9e" d="M728.5 588.5h17.5v17.5h-17.5zM745.4 622.3h17.5v17.5h-17.5zM745.4 656.1h17.5v17.5h-17.5zM762.3 571.6h17.5v17.5h-17.5zM779.2 520.9h17.5v17.5h-17.5zM813 656.1h17.5v17.5h-17.5z"/><path fill="#82dca4" d="M728.5 639.2h17.5v17.5h-17.5zM728.5 656.1h17.5v17.5h-17.5zM745.4 504h17.5v17.5h-17.5zM796.1 504h17.5v17.5h-17.5z"/><path fill="#70d9ac" d="M745.4 520.9h17.5v17.5h-17.5zM813 504h17.5v17.5h-17.5z"/><path fill="#c6ea94" d="M745.4 537.8h17.5v17.5h-17.5zM779.2 554.7h17.5v17.5h-17.5zM813 605.4h17.5v17.5h-17.5z"/><path fill="#aae496" d="M745.4 554.7h17.5v17.5h-17.5zM745.4 571.6h17.5v17.5h-17.5zM762.3 588.5h17.5v17.5h-17.5zM813 571.6h17.5v17.5h-17.5zM813 588.5h17.5v17.5h-17.5zM813 622.3h17.5v17.5h-17.5z"/><path fill="#d0ec98" d="M779.2 537.8h17.5v17.5h-17.5zM779.2 571.6h17.5v17.5h-17.5zM796.1 520.9h17.5v17.5h-17.5z"/><path fill="#68d6b2" d="M779.2 588.5h17.5v17.5h-17.5zM779.2 656.1h17.5v17.5h-17.5z"/><path fill="#72d7b4" d="M779.2 605.4h17.5v17.5h-17.5zM779.2 639.2h17.5v17.5h-17.5zM796.1 537.8h17.5v17.5h-17.5zM796.1 639.2h17.5v17.5h-17.5zM813 554.7h17.5v17.5h-17.5z"/><path fill="#7ccdca" d="M796.1 571.6h17.5v17.5h-17.5z"/></g>
<rect x="676.5" y="200.5" width="14.8" height="15.5" fill="#5462c2"/><rect x="691.3" y="200.5" width="16.9" height="15.5" fill="#8ea6de"/><rect x="708.2" y="200.5" width="15.8" height="15.5" fill="#7494d8"/><rect x="561.7" y="351.8" width="16" height="15.2" fill="#7080d0"/><rect x="414" y="200.5" width="48.6" height="15.5" fill="#8cc4de"/>
<g filter="url(#soft)"><use href="#wire" transform="matrix(1.0 0 0 1.0 0 0)"/></g>
<linearGradient id="cb0" x1="0" y1="0" x2="0" y2="1"><stop offset="0" stop-color="#ee1818"/><stop offset="0.12" stop-color="#e82222"/><stop offset="0.23" stop-color="#e07a68"/><stop offset="0.3" stop-color="#e8c492"/><stop offset="0.35" stop-color="#eeee98"/><stop offset="0.42" stop-color="#a8e092"/><stop offset="0.5" stop-color="#64d4aa"/><stop offset="0.57" stop-color="#70cec6"/><stop offset="0.63" stop-color="#92c8e4"/><stop offset="0.7" stop-color="#7272c4"/><stop offset="0.79" stop-color="#1c1ca0"/><stop offset="0.86" stop-color="#141452"/><stop offset="0.95" stop-color="#151515"/><stop offset="1" stop-color="#111"/></linearGradient>
<rect x="1027.6" y="132.1" width="11.8" height="664.6" fill="url(#cb0)"/>
<text x="1022.4" y="324.5" font-size="11" text-anchor="end" fill="#383838">0.93</text>
<text x="1022.4" y="419.6" font-size="11" text-anchor="end" fill="#383838">0.77</text>
<text x="1022.4" y="513.8" font-size="11" text-anchor="end" fill="#383838">0.30</text>
<text x="1022.4" y="609.5" font-size="11" text-anchor="end" fill="#383838">0.30</text>
<text x="1022.4" y="703.7" font-size="11" text-anchor="end" fill="#383838">0.22</text>
<text x="1022.4" y="795.4" font-size="11" text-anchor="end" fill="#383838">0.00</text>
<text x="910" y="226.3" font-size="10" fill="#383838" textLength="112.4" lengthAdjust="spacingAndGlyphs">ΣΩΙΟ)  ⊕-08 Θ M8 ¥ = 1.60</text>
<text x="901" y="802.8" font-size="9.5" fill="#d04444" textLength="81" lengthAdjust="spacingAndGlyphs">SD.8-  41 receivers</text>
<circle cx="568.8" cy="800.2" r="3" fill="#e02020"/>
<use href="#bund" transform="matrix(1.017 0 0 1.009 875.5 -5.4)"/>
<clipPath id="c1_top"><polygon points="1296.6,166.1 1611.8,166.1 1611.8,212.4 1296.6,212.4"/></clipPath>
<g clip-path="url(#c1_top)"><rect x="1296.6" y="166.1" width="315.3" height="46.2" fill="#6cd8b0"/><path fill="#70d9ac" d="M1296.6 166.1h16.4v16.2h-16.4zM1343.9 197.4h16.4v16.2h-16.4zM1375.4 197.4h16.4v16.2h-16.4zM1406.9 166.1h16.4v16.2h-16.4zM1438.4 181.8h16.4v16.2h-16.4zM1501.5 197.4h16.4v16.2h-16.4zM1564.5 197.4h16.4v16.2h-16.4z"/><path fill="#80cbd0" d="M1296.6 181.8h16.4v16.2h-16.4zM1312.3 181.8h16.4v16.2h-16.4zM1328.1 166.1h16.4v16.2h-16.4zM1328.1 181.8h16.4v16.2h-16.4zM1391.1 197.4h16.4v16.2h-16.4zM1485.7 197.4h16.4v16.2h-16.4zM1501.5 166.1h16.4v16.2h-16.4zM1596.1 197.4h16.4v16.2h-16.4z"/><path fill="#7ccdca" d="M1296.6 197.4h16.4v16.2h-16.4zM1312.3 197.4h16.4v16.2h-16.4zM1391.1 181.8h16.4v16.2h-16.4zM1406.9 181.8h16.4v16.2h-16.4zM1422.7 181.8h16.4v16.2h-16.4zM1438.4 197.4h16.4v16.2h-16.4zM1454.2 197.4h16.4v16.2h-16.4zM1470 166.1h16.4v16.2h-16.4zM1485.7 166.1h16.4v16.2h-16.4zM1517.3 181.8h16.4v16.2h-16.4z"/><path fill="#68d6b2" d="M1312.3 166.1h16.4v16.2h-16.4zM1375.4 166.1h16.4v16.2h-16.4zM1375.4 181.8h16.4v16.2h-16.4zM1501.5 181.8h16.4v16.2h-16.4zM1533 197.4h16.4v16.2h-16.4zM1596.1 166.1h16.4v16.2h-16.4z"/><path fill="#94e09c" d="M1328.1 197.4h16.4v16.2h-16.4zM1391.1 166.1h16.4v16.2h-16.4z"/><path fill="#8cc4e0" d="M1343.9 166.1h16.4v16.2h-16.4zM1359.6 166.1h16.4v16.2h-16.4zM1454.2 166.1h16.4v16.2h-16.4zM1470 197.4h16.4v16.2h-16.4z"/><path fill="#88c6dc" d="M1343.9 181.8h16.4v16.2h-16.4zM1359.6 181.8h16.4v16.2h-16.4zM1517.3 166.1h16.4v16.2h-16.4z"/><path fill="#76d0c4" d="M1359.6 197.4h16.4v16.2h-16.4zM1422.7 197.4h16.4v16.2h-16.4zM1470 181.8h16.4v16.2h-16.4zM1517.3 197.4h16.4v16.2h-16.4zM1548.8 166.1h16.4v16.2h-16.4zM1548.8 181.8h16.4v16.2h-16.4zM1548.8 197.4h16.4v16.2h-16.4zM1564.5 166.1h16.4v16.2h-16.4zM1596.1 181.8h16.4v16.2h-16.4z"/><path fill="#66d4b0" d="M1406.9 197.4h16.4v16.2h-16.4zM1422.7 166.1h16.4v16.2h-16.4zM1438.4 166.1h16.4v16.2h-16.4z"/><path fill="#72d7b4" d="M1454.2 181.8h16.4v16.2h-16.4zM1485.7 181.8h16.4v16.2h-16.4z"/><path fill="#82dca4" d="M1533 166.1h16.4v16.2h-16.4z"/></g>
<clipPath id="c1_midc"><polygon points="1331.9,288.7 1576.5,288.7 1580.5,464.3 1327.9,464.3"/></clipPath>
<g clip-path="url(#c1_midc)"><rect x="1327.9" y="288.7" width="252.6" height="175.6" fill="#6cd8b0"/><path fill="#82dca4" d="M1327.9 304.3h16.3v16.1h-16.3zM1343.6 288.7h16.3v16.1h-16.3zM1390.5 397.5h16.3v16.1h-16.3zM1437.5 335.3h16.3v16.1h-16.3zM1453.2 413h16.3v16.1h-16.3zM1484.5 288.7h16.3v16.1h-16.3zM1484.5 319.8h16.3v16.1h-16.3zM1484.5 366.4h16.3v16.1h-16.3zM1531.5 304.3h16.3v16.1h-16.3zM1531.5 413h16.3v16.1h-16.3zM1547.2 413h16.3v16.1h-16.3zM1562.8 428.6h16.3v16.1h-16.3z"/><path fill="#72d7b4" d="M1327.9 335.3h16.3v16.1h-16.3zM1343.6 366.4h16.3v16.1h-16.3zM1359.2 335.3h16.3v16.1h-16.3zM1359.2 350.9h16.3v16.1h-16.3zM1390.5 288.7h16.3v16.1h-16.3zM1406.2 319.8h16.3v16.1h-16.3zM1421.9 335.3h16.3v16.1h-16.3zM1437.5 304.3h16.3v16.1h-16.3zM1437.5 459.7h16.3v16.1h-16.3zM1453.2 288.7h16.3v16.1h-16.3zM1468.8 304.3h16.3v16.1h-16.3zM1468.8 397.5h16.3v16.1h-16.3zM1484.5 304.3h16.3v16.1h-16.3zM1484.5 335.3h16.3v16.1h-16.3zM1500.2 335.3h16.3v16.1h-16.3zM1500.2 459.7h16.3v16.1h-16.3zM1515.8 304.3h16.3v16.1h-16.3zM1531.5 288.7h16.3v16.1h-16.3zM1547.2 428.6h16.3v16.1h-16.3zM1562.8 288.7h16.3v16.1h-16.3zM1578.5 335.3h16.3v16.1h-16.3z"/><path fill="#80cbd0" d="M1327.9 350.9h16.3v16.1h-16.3zM1327.9 397.5h16.3v16.1h-16.3zM1343.6 459.7h16.3v16.1h-16.3zM1374.9 335.3h16.3v16.1h-16.3zM1390.5 428.6h16.3v16.1h-16.3zM1421.9 428.6h16.3v16.1h-16.3zM1421.9 459.7h16.3v16.1h-16.3zM1437.5 413h16.3v16.1h-16.3zM1453.2 319.8h16.3v16.1h-16.3zM1484.5 397.5h16.3v16.1h-16.3zM1484.5 459.7h16.3v16.1h-16.3zM1500.2 288.7h16.3v16.1h-16.3zM1500.2 304.3h16.3v16.1h-16.3zM1515.8 335.3h16.3v16.1h-16.3zM1515.8 366.4h16.3v16.1h-16.3zM1531.5 366.4h16.3v16.1h-16.3zM1547.2 319.8h16.3v16.1h-16.3zM1562.8 304.3h16.3v16.1h-16.3zM1562.8 350.9h16.3v16.1h-16.3z"/><path fill="#70d9ac" d="M1327.9 366.4h16.3v16.1h-16.3zM1327.9 459.7h16.3v16.1h-16.3zM1343.6 350.9h16.3v16.1h-16.3zM1390.5 366.4h16.3v16.1h-16.3zM1390.5 459.7h16.3v16.1h-16.3zM1406.2 350.9h16.3v16.1h-16.3zM1406.2 397.5h16.3v16.1h-16.3zM1421.9 319.8h16.3v16.1h-16.3zM1437.5 288.7h16.3v16.1h-16.3zM1437.5 382h16.3v16.1h-16.3zM1437.5 397.5h16.3v16.1h-16.3zM1453.2 335.3h16.3v16.1h-16.3zM1515.8 397.5h16.3v16.1h-16.3zM1515.8 413h16.3v16.1h-16.3zM1531.5 444.1h16.3v16.1h-16.3zM1547.2 335.3h16.3v16.1h-16.3zM1547.2 382h16.3v16.1h-16.3zM1562.8 397.5h16.3v16.1h-16.3zM1578.5 319.8h16.3v16.1h-16.3zM1578.5 350.9h16.3v16.1h-16.3zM1578.5 444.1h16.3v16.1h-16.3z"/><path fill="#7ccdca" d="M1327.9 382h16.3v16.1h-16.3zM1343.6 319.8h16.3v16.1h-16.3zM1343.6 335.3h16.3v16.1h-16.3zM1343.6 413h16.3v16.1h-16.3zM1359.2 382h16.3v16.1h-16.3zM1374.9 319.8h16.3v16.1h-16.3zM1374.9 459.7h16.3v16.1h-16.3zM1390.5 319.8h16.3v16.1h-16.3zM1390.5 335.3h16.3v16.1h-16.3zM1406.2 444.1h16.3v16.1h-16.3zM1421.9 413h16.3v16.1h-16.3zM1437.5 444.1h16.3v16.1h-16.3zM1453.2 444.1h16.3v16.1h-16.3zM1484.5 350.9h16.3v16.1h-16.3zM1484.5 413h16.3v16.1h-16.3zM1500.2 366.4h16.3v16.1h-16.3zM1515.8 428.6h16.3v16.1h-16.3zM1547.2 444.1h16.3v16.1h-16.3zM1562.8 366.4h16.3v16.1h-16.3z"/><path fill="#8cc4e0" d="M1327.9 413h16.3v16.1h-16.3zM1359.2 366.4h16.3v16.1h-16.3zM1374.9 382h16.3v16.1h-16.3zM1421.9 288.7h16.3v16.1h-16.3zM1453.2 366.4h16.3v16.1h-16.3zM1468.8 288.7h16.3v16.1h-16.3zM1468.8 413h16.3v16.1h-16.3zM1468.8 459.7h16.3v16.1h-16.3zM1515.8 382h16.3v16.1h-16.3zM1562.8 319.8h16.3v16.1h-16.3zM1562.8 335.3h16.3v16.1h-16.3z"/><path fill="#88c6dc" d="M1327.9 428.6h16.3v16.1h-16.3zM1343.6 397.5h16.3v16.1h-16.3zM1359.2 319.8h16.3v16.1h-16.3zM1468.8 335.3h16.3v16.1h-16.3zM1484.5 428.6h16.3v16.1h-16.3z"/><path fill="#76d0c4" d="M1327.9 444.1h16.3v16.1h-16.3zM1343.6 304.3h16.3v16.1h-16.3zM1359.2 397.5h16.3v16.1h-16.3zM1359.2 444.1h16.3v16.1h-16.3zM1374.9 350.9h16.3v16.1h-16.3zM1374.9 366.4h16.3v16.1h-16.3zM1374.9 413h16.3v16.1h-16.3zM1374.9 444.1h16.3v16.1h-16.3zM1390.5 444.1h16.3v16.1h-16.3zM1406.2 413h16.3v16.1h-16.3zM1406.2 428.6h16.3v16.1h-16.3zM1421.9 444.1h16.3v16.1h-16.3zM1453.2 382h16.3v16.1h-16.3zM1468.8 350.9h16.3v16.1h-16.3zM1468.8 428.6h16.3v16.1h-16.3zM1500.2 350.9h16.3v16.1h-16.3zM1500.2 444.1h16.3v16.1h-16.3zM1515.8 288.7h16.3v16.1h-16.3zM1515.8 444.1h16.3v16.1h-16.3zM1515.8 459.7h16.3v16.1h-16.3zM1562.8 413h16.3v16.1h-16.3zM1578.5 366.4h16.3v16.1h-16.3z"/><path fill="#a2e29a" d="M1343.6 382h16.3v16.1h-16.3zM1359.2 288.7h16.3v16.1h-16.3zM1359.2 304.3h16.3v16.1h-16.3zM1390.5 304.3h16.3v16.1h-16.3zM1437.5 366.4h16.3v16.1h-16.3zM1468.8 382h16.3v16.1h-16.3zM1578.5 397.5h16.3v16.1h-16.3zM1578.5 413h16.3v16.1h-16.3z"/><path fill="#68d6b2" d="M1343.6 428.6h16.3v16.1h-16.3zM1374.9 288.7h16.3v16.1h-16.3zM1421.9 397.5h16.3v16.1h-16.3zM1437.5 428.6h16.3v16.1h-16.3zM1453.2 304.3h16.3v16.1h-16.3zM1468.8 444.1h16.3v16.1h-16.3zM1500.2 397.5h16.3v16.1h-16.3zM1515.8 350.9h16.3v16.1h-16.3zM1547.2 397.5h16.3v16.1h-16.3zM1578.5 288.7h16.3v16.1h-16.3zM1578.5 382h16.3v16.1h-16.3zM1578.5 428.6h16.3v16.1h-16.3zM1578.5 459.7h16.3v16.1h-16.3z"/><path fill="#66d4b0" d="M1343.6 444.1h16.3v16.1h-16.3zM1359.2 413h16.3v16.1h-16.3zM1390.5 350.9h16.3v16.1h-16.3zM1390.5 413h16.3v16.1h-16.3zM1406.2 304.3h16.3v16.1h-16.3zM1406.2 335.3h16.3v16.1h-16.3zM1421.9 304.3h16.3v16.1h-16.3zM1437.5 319.8h16.3v16.1h-16.3zM1453.2 459.7h16.3v16.1h-16.3zM1468.8 366.4h16.3v16.1h-16.3zM1484.5 382h16.3v16.1h-16.3zM1484.5 444.1h16.3v16.1h-16.3zM1500.2 382h16.3v16.1h-16.3zM1500.2 413h16.3v16.1h-16.3zM1500.2 428.6h16.3v16.1h-16.3zM1531.5 350.9h16.3v16.1h-16.3zM1531.5 397.5h16.3v16.1h-16.3zM1531.5 459.7h16.3v16.1h-16.3zM1562.8 382h16.3v16.1h-16.3zM1562.8 444.1h16.3v16.1h-16.3zM1578.5 304.3h16.3v16.1h-16.3z"/><path fill="#94e09c" d="M1374.9 428.6h16.3v16.1h-16.3zM1406.2 459.7h16.3v16.1h-16.3zM1421.9 350.9h16.3v16.1h-16.3zM1437.5 350.9h16.3v16.1h-16.3zM1453.2 350.9h16.3v16.1h-16.3zM1515.8 319.8h16.3v16.1h-16.3zM1531.5 319.8h16.3v16.1h-16.3zM1547.2 304.3h16.3v16.1h-16.3zM1547.2 459.7h16.3v16.1h-16.3z"/><path fill="#aae496" d="M1421.9 366.4h16.3v16.1h-16.3zM1421.9 382h16.3v16.1h-16.3zM1500.2 319.8h16.3v16.1h-16.3z"/><path fill="#8ade9e" d="M1453.2 397.5h16.3v16.1h-16.3zM1547.2 288.7h16.3v16.1h-16.3zM1547.2 366.4h16.3v16.1h-16.3z"/></g>
<clipPath id="c1_midl"><polygon points="1200.4,311.2 1216.8,299.3 1300,299.3 1294.9,473.5 1225.4,473.5 1224.4,487.7 1206.6,489.4 1215.5,329.9 1191.3,494.8 1171.7,494.8"/></clipPath>
<g clip-path="url(#c1_midl)"><rect x="1171.7" y="299.3" width="128.3" height="195.4" fill="#68d6b2"/><path fill="#94e09c" d="M1171.7 299.3h17.1v16.9h-17.1zM1188.2 348.4h17.1v16.9h-17.1zM1221.1 397.4h17.1v16.9h-17.1zM1237.6 446.4h17.1v16.9h-17.1zM1254.1 315.7h17.1v16.9h-17.1zM1254.1 348.4h17.1v16.9h-17.1zM1254.1 364.7h17.1v16.9h-17.1zM1254.1 446.4h17.1v16.9h-17.1zM1270.5 479.1h17.1v16.9h-17.1z"/><path fill="#8ade9e" d="M1171.7 315.7h17.1v16.9h-17.1zM1188.2 315.7h17.1v16.9h-17.1zM1188.2 364.7h17.1v16.9h-17.1zM1221.1 430.1h17.1v16.9h-17.1zM1270.5 332h17.1v16.9h-17.1zM1287 332h17.1v16.9h-17.1zM1287 397.4h17.1v16.9h-17.1z"/><path fill="#d0ec98" d="M1171.7 332h17.1v16.9h-17.1zM1188.2 381.1h17.1v16.9h-17.1z"/><path fill="#a2e29a" d="M1171.7 348.4h17.1v16.9h-17.1zM1171.7 364.7h17.1v16.9h-17.1zM1188.2 479.1h17.1v16.9h-17.1zM1204.6 315.7h17.1v16.9h-17.1zM1221.1 446.4h17.1v16.9h-17.1zM1237.6 364.7h17.1v16.9h-17.1zM1254.1 462.8h17.1v16.9h-17.1zM1270.5 348.4h17.1v16.9h-17.1z"/><path fill="#aae496" d="M1171.7 381.1h17.1v16.9h-17.1zM1188.2 299.3h17.1v16.9h-17.1zM1221.1 299.3h17.1v16.9h-17.1zM1254.1 397.4h17.1v16.9h-17.1zM1270.5 413.7h17.1v16.9h-17.1zM1287 348.4h17.1v16.9h-17.1zM1287 430.1h17.1v16.9h-17.1z"/><path fill="#7ccdca" d="M1171.7 397.4h17.1v16.9h-17.1zM1188.2 397.4h17.1v16.9h-17.1zM1204.6 299.3h17.1v16.9h-17.1zM1237.6 348.4h17.1v16.9h-17.1zM1237.6 381.1h17.1v16.9h-17.1zM1270.5 364.7h17.1v16.9h-17.1z"/><path fill="#72d7b4" d="M1171.7 413.7h17.1v16.9h-17.1zM1171.7 446.4h17.1v16.9h-17.1zM1188.2 462.8h17.1v16.9h-17.1zM1204.6 446.4h17.1v16.9h-17.1zM1221.1 348.4h17.1v16.9h-17.1zM1221.1 413.7h17.1v16.9h-17.1zM1237.6 462.8h17.1v16.9h-17.1zM1287 364.7h17.1v16.9h-17.1zM1287 479.1h17.1v16.9h-17.1z"/><path fill="#82dca4" d="M1171.7 430.1h17.1v16.9h-17.1zM1221.1 315.7h17.1v16.9h-17.1zM1221.1 479.1h17.1v16.9h-17.1zM1270.5 299.3h17.1v16.9h-17.1zM1270.5 381.1h17.1v16.9h-17.1z"/><path fill="#bce894" d="M1171.7 462.8h17.1v16.9h-17.1zM1237.6 413.7h17.1v16.9h-17.1zM1254.1 430.1h17.1v16.9h-17.1zM1270.5 430.1h17.1v16.9h-17.1zM1287 299.3h17.1v16.9h-17.1z"/><path fill="#c6ea94" d="M1171.7 479.1h17.1v16.9h-17.1zM1254.1 479.1h17.1v16.9h-17.1z"/><path fill="#88c6dc" d="M1188.2 332h17.1v16.9h-17.1zM1204.6 462.8h17.1v16.9h-17.1zM1221.1 462.8h17.1v16.9h-17.1zM1237.6 479.1h17.1v16.9h-17.1z"/><path fill="#66d4b0" d="M1188.2 413.7h17.1v16.9h-17.1zM1204.6 381.1h17.1v16.9h-17.1zM1204.6 397.4h17.1v16.9h-17.1zM1204.6 413.7h17.1v16.9h-17.1zM1221.1 332h17.1v16.9h-17.1zM1237.6 315.7h17.1v16.9h-17.1zM1254.1 299.3h17.1v16.9h-17.1zM1270.5 462.8h17.1v16.9h-17.1zM1287 413.7h17.1v16.9h-17.1zM1287 462.8h17.1v16.9h-17.1z"/><path fill="#6cd8b0" d="M1188.2 430.1h17.1v16.9h-17.1zM1204.6 348.4h17.1v16.9h-17.1zM1204.6 364.7h17.1v16.9h-17.1zM1204.6 430.1h17.1v16.9h-17.1zM1204.6 479.1h17.1v16.9h-17.1zM1221.1 364.7h17.1v16.9h-17.1zM1254.1 332h17.1v16.9h-17.1z"/><path fill="#80cbd0" d="M1188.2 446.4h17.1v16.9h-17.1zM1270.5 397.4h17.1v16.9h-17.1z"/><path fill="#70d9ac" d="M1204.6 332h17.1v16.9h-17.1zM1270.5 315.7h17.1v16.9h-17.1zM1270.5 446.4h17.1v16.9h-17.1z"/><path fill="#76d0c4" d="M1221.1 381.1h17.1v16.9h-17.1zM1237.6 430.1h17.1v16.9h-17.1zM1287 315.7h17.1v16.9h-17.1z"/><path fill="#8cc4e0" d="M1237.6 397.4h17.1v16.9h-17.1z"/></g>
<clipPath id="c1_midr"><polygon points="1708,311.2 1691.6,299.3 1608.4,299.3 1613.5,473.5 1683,473.5 1684,487.7 1701.8,489.4 1692.9,329.9 1717.1,494.8 1736.7,494.8"/></clipPath>
<g clip-path="url(#c1_midr)"><rect x="1608.4" y="299.3" width="128.3" height="195.4" fill="#72d7b4"/><path fill="#aae496" d="M1608.4 299.3h17.1v16.9h-17.1zM1608.4 315.7h17.1v16.9h-17.1zM1674.3 430.1h17.1v16.9h-17.1z"/><path fill="#6cd8b0" d="M1608.4 332h17.1v16.9h-17.1zM1657.8 348.4h17.1v16.9h-17.1zM1657.8 364.7h17.1v16.9h-17.1zM1690.8 446.4h17.1v16.9h-17.1z"/><path fill="#70d9ac" d="M1608.4 348.4h17.1v16.9h-17.1zM1608.4 381.1h17.1v16.9h-17.1zM1624.9 348.4h17.1v16.9h-17.1zM1624.9 381.1h17.1v16.9h-17.1zM1641.3 479.1h17.1v16.9h-17.1zM1674.3 348.4h17.1v16.9h-17.1zM1674.3 413.7h17.1v16.9h-17.1zM1674.3 462.8h17.1v16.9h-17.1zM1707.2 381.1h17.1v16.9h-17.1z"/><path fill="#a2e29a" d="M1608.4 397.4h17.1v16.9h-17.1zM1608.4 479.1h17.1v16.9h-17.1zM1624.9 315.7h17.1v16.9h-17.1zM1624.9 364.7h17.1v16.9h-17.1zM1641.3 397.4h17.1v16.9h-17.1zM1690.8 381.1h17.1v16.9h-17.1zM1690.8 430.1h17.1v16.9h-17.1zM1690.8 479.1h17.1v16.9h-17.1zM1707.2 332h17.1v16.9h-17.1zM1723.7 397.4h17.1v16.9h-17.1z"/><path fill="#80cbd0" d="M1608.4 413.7h17.1v16.9h-17.1zM1641.3 462.8h17.1v16.9h-17.1zM1657.8 332h17.1v16.9h-17.1zM1674.3 479.1h17.1v16.9h-17.1zM1723.7 446.4h17.1v16.9h-17.1z"/><path fill="#82dca4" d="M1608.4 446.4h17.1v16.9h-17.1zM1624.9 462.8h17.1v16.9h-17.1zM1641.3 430.1h17.1v16.9h-17.1zM1657.8 430.1h17.1v16.9h-17.1zM1674.3 364.7h17.1v16.9h-17.1zM1674.3 381.1h17.1v16.9h-17.1zM1690.8 397.4h17.1v16.9h-17.1zM1707.2 397.4h17.1v16.9h-17.1zM1723.7 381.1h17.1v16.9h-17.1z"/><path fill="#8ade9e" d="M1624.9 299.3h17.1v16.9h-17.1zM1674.3 315.7h17.1v16.9h-17.1zM1674.3 397.4h17.1v16.9h-17.1z"/><path fill="#76d0c4" d="M1624.9 332h17.1v16.9h-17.1zM1657.8 479.1h17.1v16.9h-17.1zM1690.8 364.7h17.1v16.9h-17.1zM1707.2 446.4h17.1v16.9h-17.1zM1723.7 479.1h17.1v16.9h-17.1z"/><path fill="#94e09c" d="M1624.9 397.4h17.1v16.9h-17.1zM1641.3 413.7h17.1v16.9h-17.1zM1657.8 315.7h17.1v16.9h-17.1zM1657.8 446.4h17.1v16.9h-17.1zM1690.8 315.7h17.1v16.9h-17.1zM1690.8 413.7h17.1v16.9h-17.1z"/><path fill="#7ccdca" d="M1624.9 413.7h17.1v16.9h-17.1zM1641.3 299.3h17.1v16.9h-17.1zM1641.3 332h17.1v16.9h-17.1zM1690.8 348.4h17.1v16.9h-17.1zM1707.2 299.3h17.1v16.9h-17.1zM1707.2 479.1h17.1v16.9h-17.1zM1723.7 364.7h17.1v16.9h-17.1z"/><path fill="#68d6b2" d="M1624.9 430.1h17.1v16.9h-17.1zM1641.3 364.7h17.1v16.9h-17.1zM1657.8 381.1h17.1v16.9h-17.1zM1657.8 397.4h17.1v16.9h-17.1zM1657.8 462.8h17.1v16.9h-17.1zM1707.2 348.4h17.1v16.9h-17.1zM1707.2 462.8h17.1v16.9h-17.1zM1723.7 413.7h17.1v16.9h-17.1z"/><path fill="#8cc4e0" d="M1624.9 446.4h17.1v16.9h-17.1zM1657.8 299.3h17.1v16.9h-17.1z"/><path fill="#d0ec98" d="M1624.9 479.1h17.1v16.9h-17.1zM1690.8 462.8h17.1v16.9h-17.1zM1723.7 332h17.1v16.9h-17.1zM1723.7 348.4h17.1v16.9h-17.1zM1723.7 430.1h17.1v16.9h-17.1z"/><path fill="#66d4b0" d="M1641.3 315.7h17.1v16.9h-17.1zM1641.3 446.4h17.1v16.9h-17.1zM1707.2 364.7h17.1v16.9h-17.1zM1723.7 315.7h17.1v16.9h-17.1zM1723.7 462.8h17.1v16.9h-17.1z"/><path fill="#c6ea94" d="M1641.3 348.4h17.1v16.9h-17.1zM1707.2 430.1h17.1v16.9h-17.1z"/><path fill="#88c6dc" d="M1657.8 413.7h17.1v16.9h-17.1zM1674.3 446.4h17.1v16.9h-17.1z"/></g>
<clipPath id="c1_lowc"><polygon points="1326.4,492.7 1582,492.7 1588.7,638.1 1319.7,638.1"/></clipPath>
<g clip-path="url(#c1_lowc)"><rect x="1319.7" y="492.7" width="269.1" height="145.5" fill="#66d4b0"/><path fill="#68d6b2" d="M1319.7 492.7h17.8v17.7h-17.8zM1336.8 509.7h17.8v17.7h-17.8zM1354 577.9h17.8v17.7h-17.8zM1354 629.1h17.8v17.7h-17.8zM1422.8 492.7h17.8v17.7h-17.8zM1440 526.8h17.8v17.7h-17.8zM1440 595h17.8v17.7h-17.8zM1457.1 492.7h17.8v17.7h-17.8zM1491.5 577.9h17.8v17.7h-17.8zM1491.5 595h17.8v17.7h-17.8zM1525.9 560.9h17.8v17.7h-17.8zM1543.1 509.7h17.8v17.7h-17.8zM1560.3 560.9h17.8v17.7h-17.8zM1577.5 543.8h17.8v17.7h-17.8zM1577.5 595h17.8v17.7h-17.8z"/><path fill="#6cd8b0" d="M1319.7 509.7h17.8v17.7h-17.8zM1319.7 560.9h17.8v17.7h-17.8zM1371.2 595h17.8v17.7h-17.8zM1388.4 577.9h17.8v17.7h-17.8zM1388.4 629.1h17.8v17.7h-17.8zM1440 629.1h17.8v17.7h-17.8zM1457.1 526.8h17.8v17.7h-17.8zM1457.1 543.8h17.8v17.7h-17.8zM1474.3 543.8h17.8v17.7h-17.8zM1491.5 612h17.8v17.7h-17.8zM1508.7 577.9h17.8v17.7h-17.8zM1525.9 595h17.8v17.7h-17.8zM1543.1 595h17.8v17.7h-17.8zM1577.5 612h17.8v17.7h-17.8z"/><path fill="#94e09c" d="M1319.7 526.8h17.8v17.7h-17.8zM1336.8 612h17.8v17.7h-17.8zM1354 595h17.8v17.7h-17.8zM1371.2 543.8h17.8v17.7h-17.8zM1388.4 526.8h17.8v17.7h-17.8zM1405.6 543.8h17.8v17.7h-17.8zM1422.8 612h17.8v17.7h-17.8zM1440 509.7h17.8v17.7h-17.8zM1440 543.8h17.8v17.7h-17.8zM1440 577.9h17.8v17.7h-17.8zM1491.5 560.9h17.8v17.7h-17.8zM1508.7 492.7h17.8v17.7h-17.8zM1508.7 509.7h17.8v17.7h-17.8zM1508.7 612h17.8v17.7h-17.8zM1543.1 526.8h17.8v17.7h-17.8zM1560.3 577.9h17.8v17.7h-17.8z"/><path fill="#aae496" d="M1319.7 543.8h17.8v17.7h-17.8zM1336.8 560.9h17.8v17.7h-17.8zM1354 560.9h17.8v17.7h-17.8zM1371.2 612h17.8v17.7h-17.8zM1440 560.9h17.8v17.7h-17.8zM1525.9 612h17.8v17.7h-17.8zM1543.1 612h17.8v17.7h-17.8z"/><path fill="#d0ec98" d="M1319.7 577.9h17.8v17.7h-17.8zM1491.5 526.8h17.8v17.7h-17.8zM1525.9 526.8h17.8v17.7h-17.8z"/><path fill="#70d9ac" d="M1319.7 595h17.8v17.7h-17.8zM1336.8 543.8h17.8v17.7h-17.8zM1354 543.8h17.8v17.7h-17.8zM1371.2 492.7h17.8v17.7h-17.8zM1371.2 526.8h17.8v17.7h-17.8zM1371.2 629.1h17.8v17.7h-17.8zM1405.6 577.9h17.8v17.7h-17.8zM1405.6 629.1h17.8v17.7h-17.8zM1422.8 526.8h17.8v17.7h-17.8zM1422.8 595h17.8v17.7h-17.8zM1491.5 543.8h17.8v17.7h-17.8zM1491.5 629.1h17.8v17.7h-17.8zM1525.9 543.8h17.8v17.7h-17.8zM1543.1 543.8h17.8v17.7h-17.8z"/><path fill="#82dca4" d="M1319.7 612h17.8v17.7h-17.8zM1336.8 595h17.8v17.7h-17.8zM1388.4 492.7h17.8v17.7h-17.8zM1388.4 560.9h17.8v17.7h-17.8zM1422.8 509.7h17.8v17.7h-17.8zM1491.5 509.7h17.8v17.7h-17.8zM1508.7 560.9h17.8v17.7h-17.8zM1525.9 492.7h17.8v17.7h-17.8zM1543.1 577.9h17.8v17.7h-17.8zM1560.3 526.8h17.8v17.7h-17.8zM1560.3 629.1h17.8v17.7h-17.8zM1577.5 509.7h17.8v17.7h-17.8z"/><path fill="#72d7b4" d="M1336.8 492.7h17.8v17.7h-17.8zM1336.8 577.9h17.8v17.7h-17.8zM1354 492.7h17.8v17.7h-17.8zM1354 509.7h17.8v17.7h-17.8zM1371.2 560.9h17.8v17.7h-17.8zM1405.6 509.7h17.8v17.7h-17.8zM1405.6 560.9h17.8v17.7h-17.8zM1457.1 560.9h17.8v17.7h-17.8zM1508.7 629.1h17.8v17.7h-17.8zM1560.3 612h17.8v17.7h-17.8zM1577.5 492.7h17.8v17.7h-17.8zM1577.5 629.1h17.8v17.7h-17.8z"/><path fill="#80cbd0" d="M1336.8 526.8h17.8v17.7h-17.8zM1405.6 612h17.8v17.7h-17.8zM1474.3 509.7h17.8v17.7h-17.8zM1474.3 560.9h17.8v17.7h-17.8z"/><path fill="#8ade9e" d="M1336.8 629.1h17.8v17.7h-17.8zM1388.4 509.7h17.8v17.7h-17.8zM1388.4 543.8h17.8v17.7h-17.8zM1388.4 595h17.8v17.7h-17.8zM1457.1 509.7h17.8v17.7h-17.8zM1474.3 526.8h17.8v17.7h-17.8zM1474.3 612h17.8v17.7h-17.8zM1491.5 492.7h17.8v17.7h-17.8zM1508.7 526.8h17.8v17.7h-17.8zM1508.7 595h17.8v17.7h-17.8zM1560.3 492.7h17.8v17.7h-17.8zM1577.5 577.9h17.8v17.7h-17.8z"/><path fill="#7ccdca" d="M1371.2 509.7h17.8v17.7h-17.8zM1577.5 526.8h17.8v17.7h-17.8z"/><path fill="#c6ea94" d="M1405.6 526.8h17.8v17.7h-17.8zM1525.9 509.7h17.8v17.7h-17.8z"/><path fill="#bce894" d="M1422.8 543.8h17.8v17.7h-17.8zM1440 612h17.8v17.7h-17.8zM1543.1 560.9h17.8v17.7h-17.8z"/><path fill="#a2e29a" d="M1422.8 560.9h17.8v17.7h-17.8zM1422.8 629.1h17.8v17.7h-17.8zM1457.1 629.1h17.8v17.7h-17.8zM1474.3 595h17.8v17.7h-17.8zM1474.3 629.1h17.8v17.7h-17.8zM1525.9 577.9h17.8v17.7h-17.8zM1525.9 629.1h17.8v17.7h-17.8zM1543.1 492.7h17.8v17.7h-17.8zM1560.3 509.7h17.8v17.7h-17.8z"/><path fill="#76d0c4" d="M1560.3 595h17.8v17.7h-17.8z"/></g>
<clipPath id="c1_lowl"><polygon points="1203.4,517.6 1239.1,516.3 1239.1,503.1 1292,505.3 1285.4,653.9 1229.8,653.9 1228.5,669.6 1194.2,669.6"/></clipPath>
<g clip-path="url(#c1_lowl)"><rect x="1194.2" y="503.1" width="97.8" height="166.5" fill="#6cd8b0"/><path fill="#aae496" d="M1194.2 503.1h17.8v17.7h-17.8zM1194.2 622.5h17.8v17.7h-17.8zM1228.5 503.1h17.8v17.7h-17.8zM1228.5 588.4h17.8v17.7h-17.8zM1280.1 537.2h17.8v17.7h-17.8z"/><path fill="#82dca4" d="M1194.2 520.2h17.8v17.7h-17.8zM1194.2 537.2h17.8v17.7h-17.8zM1194.2 605.5h17.8v17.7h-17.8zM1194.2 639.6h17.8v17.7h-17.8zM1228.5 622.5h17.8v17.7h-17.8zM1245.7 605.5h17.8v17.7h-17.8z"/><path fill="#68d6b2" d="M1194.2 554.3h17.8v17.7h-17.8zM1245.7 554.3h17.8v17.7h-17.8zM1262.9 588.4h17.8v17.7h-17.8z"/><path fill="#d0ec98" d="M1194.2 571.4h17.8v17.7h-17.8zM1211.3 588.4h17.8v17.7h-17.8zM1228.5 605.5h17.8v17.7h-17.8zM1228.5 639.6h17.8v17.7h-17.8zM1245.7 537.2h17.8v17.7h-17.8zM1245.7 588.4h17.8v17.7h-17.8zM1280.1 605.5h17.8v17.7h-17.8zM1280.1 622.5h17.8v17.7h-17.8z"/><path fill="#bce894" d="M1194.2 588.4h17.8v17.7h-17.8zM1211.3 554.3h17.8v17.7h-17.8zM1245.7 639.6h17.8v17.7h-17.8zM1262.9 622.5h17.8v17.7h-17.8z"/><path fill="#94e09c" d="M1194.2 656.6h17.8v17.7h-17.8zM1228.5 554.3h17.8v17.7h-17.8zM1228.5 656.6h17.8v17.7h-17.8zM1245.7 571.4h17.8v17.7h-17.8zM1280.1 503.1h17.8v17.7h-17.8zM1280.1 554.3h17.8v17.7h-17.8z"/><path fill="#66d4b0" d="M1211.3 537.2h17.8v17.7h-17.8zM1228.5 520.2h17.8v17.7h-17.8zM1262.9 554.3h17.8v17.7h-17.8zM1280.1 571.4h17.8v17.7h-17.8z"/><path fill="#70d9ac" d="M1211.3 571.4h17.8v17.7h-17.8zM1280.1 588.4h17.8v17.7h-17.8zM1280.1 639.6h17.8v17.7h-17.8z"/><path fill="#72d7b4" d="M1211.3 605.5h17.8v17.7h-17.8zM1262.9 520.2h17.8v17.7h-17.8zM1262.9 537.2h17.8v17.7h-17.8z"/><path fill="#c6ea94" d="M1211.3 622.5h17.8v17.7h-17.8zM1245.7 520.2h17.8v17.7h-17.8zM1245.7 622.5h17.8v17.7h-17.8z"/><path fill="#8ade9e" d="M1211.3 639.6h17.8v17.7h-17.8zM1211.3 656.6h17.8v17.7h-17.8zM1262.9 571.4h17.8v17.7h-17.8zM1262.9 656.6h17.8v17.7h-17.8z"/><path fill="#8cc4e0" d="M1228.5 537.2h17.8v17.7h-17.8z"/><path fill="#a2e29a" d="M1228.5 571.4h17.8v17.7h-17.8zM1245.7 503.1h17.8v17.7h-17.8zM1245.7 656.6h17.8v17.7h-17.8zM1262.9 503.1h17.8v17.7h-17.8zM1262.9 605.5h17.8v17.7h-17.8zM1262.9 639.6h17.8v17.7h-17.8z"/><path fill="#76d0c4" d="M1280.1 520.2h17.8v17.7h-17.8z"/></g>
<clipPath id="c1_lowr"><polygon points="1705,517.6 1669.3,516.3 1669.3,503.1 1616.4,505.3 1623,653.9 1678.6,653.9 1679.9,669.6 1714.2,669.6"/></clipPath>
<g clip-path="url(#c1_lowr)"><rect x="1616.4" y="503.1" width="97.8" height="166.5" fill="#68d6b2"/><path fill="#94e09c" d="M1616.4 503.1h17.8v17.7h-17.8zM1616.4 520.2h17.8v17.7h-17.8zM1633.6 537.2h17.8v17.7h-17.8zM1633.6 571.4h17.8v17.7h-17.8zM1702.3 520.2h17.8v17.7h-17.8zM1702.3 537.2h17.8v17.7h-17.8zM1702.3 622.5h17.8v17.7h-17.8z"/><path fill="#8ade9e" d="M1616.4 537.2h17.8v17.7h-17.8z"/><path fill="#70d9ac" d="M1616.4 554.3h17.8v17.7h-17.8zM1616.4 605.5h17.8v17.7h-17.8zM1650.8 503.1h17.8v17.7h-17.8z"/><path fill="#66d4b0" d="M1616.4 588.4h17.8v17.7h-17.8zM1685.2 520.2h17.8v17.7h-17.8z"/><path fill="#a2e29a" d="M1616.4 639.6h17.8v17.7h-17.8zM1633.6 656.6h17.8v17.7h-17.8zM1650.8 537.2h17.8v17.7h-17.8zM1650.8 656.6h17.8v17.7h-17.8zM1668 537.2h17.8v17.7h-17.8zM1668 554.3h17.8v17.7h-17.8zM1668 588.4h17.8v17.7h-17.8zM1668 639.6h17.8v17.7h-17.8zM1685.2 622.5h17.8v17.7h-17.8zM1702.3 605.5h17.8v17.7h-17.8z"/><path fill="#82dca4" d="M1616.4 656.6h17.8v17.7h-17.8zM1650.8 588.4h17.8v17.7h-17.8zM1650.8 639.6h17.8v17.7h-17.8zM1685.2 503.1h17.8v17.7h-17.8z"/><path fill="#d0ec98" d="M1633.6 503.1h17.8v17.7h-17.8zM1633.6 588.4h17.8v17.7h-17.8zM1650.8 622.5h17.8v17.7h-17.8zM1685.2 639.6h17.8v17.7h-17.8zM1702.3 554.3h17.8v17.7h-17.8z"/><path fill="#6cd8b0" d="M1633.6 520.2h17.8v17.7h-17.8zM1633.6 622.5h17.8v17.7h-17.8zM1633.6 639.6h17.8v17.7h-17.8zM1668 571.4h17.8v17.7h-17.8zM1702.3 639.6h17.8v17.7h-17.8z"/><path fill="#aae496" d="M1633.6 554.3h17.8v17.7h-17.8zM1633.6 605.5h17.8v17.7h-17.8zM1685.2 656.6h17.8v17.7h-17.8z"/><path fill="#76d0c4" d="M1650.8 520.2h17.8v17.7h-17.8zM1685.2 537.2h17.8v17.7h-17.8z"/><path fill="#c6ea94" d="M1650.8 554.3h17.8v17.7h-17.8zM1668 656.6h17.8v17.7h-17.8z"/><path fill="#80cbd0" d="M1668 605.5h17.8v17.7h-17.8zM1702.3 503.1h17.8v17.7h-17.8z"/><path fill="#72d7b4" d="M1685.2 554.3h17.8v17.7h-17.8zM1702.3 571.4h17.8v17.7h-17.8zM1702.3 588.4h17.8v17.7h-17.8z"/><path fill="#8cc4e0" d="M1685.2 571.4h17.8v17.7h-17.8z"/><path fill="#7ccdca" d="M1685.2 588.4h17.8v17.7h-17.8z"/><path fill="#bce894" d="M1685.2 605.5h17.8v17.7h-17.8z"/></g>
<rect x="1296.6" y="196.9" width="49.4" height="15.6" fill="#8cc4de"/>
<g filter="url(#soft)"><use href="#wire" transform="matrix(1.017 0 0 1.009 875.5 -5.4)"/></g>
<linearGradient id="cb1" x1="0" y1="0" x2="0" y2="1"><stop offset="0" stop-color="#ee1818"/><stop offset="0.12" stop-color="#e82222"/><stop offset="0.23" stop-color="#e07a68"/><stop offset="0.3" stop-color="#e8c492"/><stop offset="0.35" stop-color="#eeee98"/><stop offset="0.42" stop-color="#a8e092"/><stop offset="0.5" stop-color="#64d4aa"/><stop offset="0.57" stop-color="#70cec6"/><stop offset="0.63" stop-color="#92c8e4"/><stop offset="0.7" stop-color="#7272c4"/><stop offset="0.79" stop-color="#1c1ca0"/><stop offset="0.86" stop-color="#141452"/><stop offset="0.95" stop-color="#151515"/><stop offset="1" stop-color="#111"/></linearGradient>
<rect x="1909.4" y="132.4" width="12.6" height="675.1" fill="url(#cb1)"/>
<text x="1903" y="328.5" font-size="11" text-anchor="end" fill="#383838">0.85</text>
<text x="1903" y="424.8" font-size="11" text-anchor="end" fill="#383838">0.77</text>
<text x="1903" y="521" font-size="11" text-anchor="end" fill="#383838">0.45</text>
<text x="1903" y="617.4" font-size="11" text-anchor="end" fill="#383838">0.41</text>
<text x="1903" y="713.7" font-size="11" text-anchor="end" fill="#383838">0.21</text>
<text x="1903" y="806.3" font-size="11" text-anchor="end" fill="#383838">0.01</text>
<text x="1787" y="227.5" font-size="10" fill="#383838" textLength="116" lengthAdjust="spacingAndGlyphs">2ΘΙΩ)  ⊕-Ω4 Θ M8 ¥ = 1.80</text>
<text x="1780.8" y="813.5" font-size="9.5" fill="#d04444" textLength="80.7" lengthAdjust="spacingAndGlyphs">DD.4 - 43 receivers</text>
<circle cx="1454.1" cy="800.8" r="3" fill="#e02020"/>
<text x="1455.1" y="812.8" font-size="9" fill="#d03030">FE</text>
<use href="#bund" transform="matrix(1.03 0 0 1.02 1756.3 -4.2)"/>
<clipPath id="c2_top"><polygon points="2182.8,169.2 2502.1,169.2 2502.1,215.9 2182.8,215.9"/></clipPath>
<g clip-path="url(#c2_top)"><rect x="2182.8" y="169.2" width="319.3" height="46.7" fill="#68d6b2"/><path fill="#76d0c4" d="M2182.8 169.2h16.6v16.4h-16.6zM2246.6 169.2h16.6v16.4h-16.6zM2326.4 185h16.6v16.4h-16.6zM2342.4 169.2h16.6v16.4h-16.6zM2390.3 200.8h16.6v16.4h-16.6zM2454.2 169.2h16.6v16.4h-16.6zM2486.1 169.2h16.6v16.4h-16.6z"/><path fill="#72d7b4" d="M2182.8 185h16.6v16.4h-16.6zM2182.8 200.8h16.6v16.4h-16.6zM2214.7 185h16.6v16.4h-16.6zM2246.6 185h16.6v16.4h-16.6zM2278.5 169.2h16.6v16.4h-16.6zM2406.3 169.2h16.6v16.4h-16.6zM2438.2 169.2h16.6v16.4h-16.6zM2470.1 185h16.6v16.4h-16.6zM2470.1 200.8h16.6v16.4h-16.6z"/><path fill="#6cd8b0" d="M2198.7 169.2h16.6v16.4h-16.6zM2230.6 200.8h16.6v16.4h-16.6zM2246.6 200.8h16.6v16.4h-16.6zM2374.3 169.2h16.6v16.4h-16.6zM2374.3 200.8h16.6v16.4h-16.6zM2422.2 185h16.6v16.4h-16.6zM2422.2 200.8h16.6v16.4h-16.6z"/><path fill="#8cc4e0" d="M2198.7 185h16.6v16.4h-16.6zM2470.1 169.2h16.6v16.4h-16.6zM2502.1 169.2h16.6v16.4h-16.6z"/><path fill="#66d4b0" d="M2214.7 169.2h16.6v16.4h-16.6zM2262.6 185h16.6v16.4h-16.6zM2294.5 169.2h16.6v16.4h-16.6zM2294.5 185h16.6v16.4h-16.6zM2310.5 169.2h16.6v16.4h-16.6zM2374.3 185h16.6v16.4h-16.6zM2390.3 185h16.6v16.4h-16.6z"/><path fill="#80cbd0" d="M2230.6 185h16.6v16.4h-16.6zM2310.5 185h16.6v16.4h-16.6zM2310.5 200.8h16.6v16.4h-16.6zM2326.4 200.8h16.6v16.4h-16.6zM2358.4 169.2h16.6v16.4h-16.6zM2358.4 185h16.6v16.4h-16.6zM2358.4 200.8h16.6v16.4h-16.6zM2486.1 185h16.6v16.4h-16.6z"/><path fill="#7ccdca" d="M2262.6 169.2h16.6v16.4h-16.6zM2262.6 200.8h16.6v16.4h-16.6zM2294.5 200.8h16.6v16.4h-16.6zM2342.4 185h16.6v16.4h-16.6zM2406.3 185h16.6v16.4h-16.6zM2406.3 200.8h16.6v16.4h-16.6zM2454.2 185h16.6v16.4h-16.6z"/><path fill="#88c6dc" d="M2278.5 200.8h16.6v16.4h-16.6z"/><path fill="#70d9ac" d="M2326.4 169.2h16.6v16.4h-16.6zM2422.2 169.2h16.6v16.4h-16.6zM2502.1 200.8h16.6v16.4h-16.6z"/><path fill="#94e09c" d="M2342.4 200.8h16.6v16.4h-16.6zM2502.1 185h16.6v16.4h-16.6z"/><path fill="#8ade9e" d="M2438.2 200.8h16.6v16.4h-16.6z"/></g>
<clipPath id="c2_midc"><polygon points="2218.5,293.1 2466.3,293.1 2470.3,470.6 2214.5,470.6"/></clipPath>
<g clip-path="url(#c2_midc)"><rect x="2214.5" y="293.1" width="255.9" height="177.5" fill="#6cd8b0"/><path fill="#94e09c" d="M2214.5 293.1h16.5v16.3h-16.5zM2262.1 403h16.5v16.3h-16.5zM2262.1 450.2h16.5v16.3h-16.5zM2389 403h16.5v16.3h-16.5zM2420.7 324.5h16.5v16.3h-16.5zM2468.3 434.5h16.5v16.3h-16.5z"/><path fill="#66d4b0" d="M2214.5 308.8h16.5v16.3h-16.5zM2214.5 434.5h16.5v16.3h-16.5zM2230.3 324.5h16.5v16.3h-16.5zM2262.1 293.1h16.5v16.3h-16.5zM2262.1 340.2h16.5v16.3h-16.5zM2262.1 387.3h16.5v16.3h-16.5zM2309.6 371.6h16.5v16.3h-16.5zM2325.5 371.6h16.5v16.3h-16.5zM2325.5 403h16.5v16.3h-16.5zM2341.4 434.5h16.5v16.3h-16.5zM2373.1 465.9h16.5v16.3h-16.5zM2389 308.8h16.5v16.3h-16.5zM2404.8 308.8h16.5v16.3h-16.5zM2404.8 355.9h16.5v16.3h-16.5zM2404.8 387.3h16.5v16.3h-16.5zM2420.7 450.2h16.5v16.3h-16.5zM2436.5 324.5h16.5v16.3h-16.5zM2436.5 371.6h16.5v16.3h-16.5zM2436.5 465.9h16.5v16.3h-16.5zM2468.3 324.5h16.5v16.3h-16.5z"/><path fill="#80cbd0" d="M2214.5 324.5h16.5v16.3h-16.5zM2214.5 355.9h16.5v16.3h-16.5zM2214.5 403h16.5v16.3h-16.5zM2230.3 418.7h16.5v16.3h-16.5zM2246.2 465.9h16.5v16.3h-16.5zM2262.1 371.6h16.5v16.3h-16.5zM2293.8 371.6h16.5v16.3h-16.5zM2309.6 387.3h16.5v16.3h-16.5zM2309.6 450.2h16.5v16.3h-16.5zM2325.5 324.5h16.5v16.3h-16.5zM2341.4 371.6h16.5v16.3h-16.5zM2341.4 465.9h16.5v16.3h-16.5zM2357.2 355.9h16.5v16.3h-16.5zM2357.2 450.2h16.5v16.3h-16.5zM2389 450.2h16.5v16.3h-16.5zM2404.8 418.7h16.5v16.3h-16.5zM2436.5 340.2h16.5v16.3h-16.5zM2452.4 324.5h16.5v16.3h-16.5zM2452.4 371.6h16.5v16.3h-16.5zM2452.4 418.7h16.5v16.3h-16.5zM2452.4 434.5h16.5v16.3h-16.5zM2468.3 293.1h16.5v16.3h-16.5zM2468.3 371.6h16.5v16.3h-16.5zM2468.3 387.3h16.5v16.3h-16.5z"/><path fill="#70d9ac" d="M2214.5 340.2h16.5v16.3h-16.5zM2214.5 418.7h16.5v16.3h-16.5zM2214.5 465.9h16.5v16.3h-16.5zM2230.3 293.1h16.5v16.3h-16.5zM2246.2 387.3h16.5v16.3h-16.5zM2246.2 450.2h16.5v16.3h-16.5zM2277.9 371.6h16.5v16.3h-16.5zM2293.8 324.5h16.5v16.3h-16.5zM2309.6 355.9h16.5v16.3h-16.5zM2309.6 403h16.5v16.3h-16.5zM2309.6 418.7h16.5v16.3h-16.5zM2325.5 434.5h16.5v16.3h-16.5zM2373.1 355.9h16.5v16.3h-16.5zM2404.8 340.2h16.5v16.3h-16.5zM2436.5 293.1h16.5v16.3h-16.5zM2436.5 450.2h16.5v16.3h-16.5zM2452.4 340.2h16.5v16.3h-16.5zM2452.4 403h16.5v16.3h-16.5zM2452.4 465.9h16.5v16.3h-16.5zM2468.3 355.9h16.5v16.3h-16.5z"/><path fill="#aae496" d="M2214.5 371.6h16.5v16.3h-16.5zM2262.1 355.9h16.5v16.3h-16.5zM2277.9 324.5h16.5v16.3h-16.5zM2341.4 308.8h16.5v16.3h-16.5zM2341.4 324.5h16.5v16.3h-16.5zM2341.4 355.9h16.5v16.3h-16.5zM2357.2 371.6h16.5v16.3h-16.5zM2373.1 403h16.5v16.3h-16.5zM2389 418.7h16.5v16.3h-16.5zM2420.7 355.9h16.5v16.3h-16.5z"/><path fill="#88c6dc" d="M2214.5 387.3h16.5v16.3h-16.5zM2230.3 434.5h16.5v16.3h-16.5zM2293.8 403h16.5v16.3h-16.5zM2309.6 465.9h16.5v16.3h-16.5zM2325.5 450.2h16.5v16.3h-16.5zM2404.8 403h16.5v16.3h-16.5zM2420.7 340.2h16.5v16.3h-16.5zM2468.3 308.8h16.5v16.3h-16.5z"/><path fill="#72d7b4" d="M2214.5 450.2h16.5v16.3h-16.5zM2246.2 371.6h16.5v16.3h-16.5zM2277.9 308.8h16.5v16.3h-16.5zM2277.9 418.7h16.5v16.3h-16.5zM2277.9 450.2h16.5v16.3h-16.5zM2293.8 418.7h16.5v16.3h-16.5zM2325.5 308.8h16.5v16.3h-16.5zM2341.4 387.3h16.5v16.3h-16.5zM2341.4 403h16.5v16.3h-16.5zM2373.1 340.2h16.5v16.3h-16.5zM2373.1 434.5h16.5v16.3h-16.5zM2389 371.6h16.5v16.3h-16.5zM2436.5 403h16.5v16.3h-16.5zM2436.5 434.5h16.5v16.3h-16.5zM2452.4 293.1h16.5v16.3h-16.5zM2468.3 340.2h16.5v16.3h-16.5z"/><path fill="#8ade9e" d="M2230.3 308.8h16.5v16.3h-16.5zM2246.2 324.5h16.5v16.3h-16.5zM2246.2 418.7h16.5v16.3h-16.5zM2357.2 308.8h16.5v16.3h-16.5zM2404.8 293.1h16.5v16.3h-16.5zM2404.8 465.9h16.5v16.3h-16.5zM2420.7 418.7h16.5v16.3h-16.5zM2436.5 308.8h16.5v16.3h-16.5z"/><path fill="#a2e29a" d="M2230.3 355.9h16.5v16.3h-16.5zM2262.1 324.5h16.5v16.3h-16.5zM2262.1 465.9h16.5v16.3h-16.5zM2293.8 340.2h16.5v16.3h-16.5zM2357.2 403h16.5v16.3h-16.5zM2357.2 434.5h16.5v16.3h-16.5zM2404.8 450.2h16.5v16.3h-16.5z"/><path fill="#68d6b2" d="M2230.3 371.6h16.5v16.3h-16.5zM2230.3 403h16.5v16.3h-16.5zM2246.2 308.8h16.5v16.3h-16.5zM2246.2 355.9h16.5v16.3h-16.5zM2277.9 434.5h16.5v16.3h-16.5zM2293.8 293.1h16.5v16.3h-16.5zM2309.6 434.5h16.5v16.3h-16.5zM2373.1 293.1h16.5v16.3h-16.5zM2373.1 387.3h16.5v16.3h-16.5zM2389 355.9h16.5v16.3h-16.5zM2389 387.3h16.5v16.3h-16.5zM2420.7 371.6h16.5v16.3h-16.5zM2468.3 403h16.5v16.3h-16.5zM2468.3 450.2h16.5v16.3h-16.5z"/><path fill="#7ccdca" d="M2230.3 387.3h16.5v16.3h-16.5zM2230.3 450.2h16.5v16.3h-16.5zM2246.2 434.5h16.5v16.3h-16.5zM2277.9 403h16.5v16.3h-16.5zM2309.6 340.2h16.5v16.3h-16.5zM2325.5 355.9h16.5v16.3h-16.5zM2373.1 308.8h16.5v16.3h-16.5zM2373.1 324.5h16.5v16.3h-16.5zM2389 434.5h16.5v16.3h-16.5zM2389 465.9h16.5v16.3h-16.5zM2404.8 434.5h16.5v16.3h-16.5zM2452.4 387.3h16.5v16.3h-16.5zM2452.4 450.2h16.5v16.3h-16.5zM2468.3 418.7h16.5v16.3h-16.5z"/><path fill="#76d0c4" d="M2230.3 465.9h16.5v16.3h-16.5zM2246.2 293.1h16.5v16.3h-16.5zM2262.1 308.8h16.5v16.3h-16.5zM2262.1 434.5h16.5v16.3h-16.5zM2277.9 340.2h16.5v16.3h-16.5zM2277.9 355.9h16.5v16.3h-16.5zM2277.9 465.9h16.5v16.3h-16.5zM2293.8 434.5h16.5v16.3h-16.5zM2293.8 450.2h16.5v16.3h-16.5zM2325.5 293.1h16.5v16.3h-16.5zM2325.5 418.7h16.5v16.3h-16.5zM2373.1 371.6h16.5v16.3h-16.5zM2389 340.2h16.5v16.3h-16.5zM2420.7 308.8h16.5v16.3h-16.5z"/><path fill="#8cc4e0" d="M2262.1 418.7h16.5v16.3h-16.5zM2325.5 387.3h16.5v16.3h-16.5zM2341.4 418.7h16.5v16.3h-16.5zM2373.1 450.2h16.5v16.3h-16.5zM2389 324.5h16.5v16.3h-16.5zM2436.5 418.7h16.5v16.3h-16.5zM2452.4 355.9h16.5v16.3h-16.5zM2468.3 465.9h16.5v16.3h-16.5z"/><path fill="#82dca4" d="M2277.9 293.1h16.5v16.3h-16.5zM2293.8 355.9h16.5v16.3h-16.5zM2293.8 387.3h16.5v16.3h-16.5zM2293.8 465.9h16.5v16.3h-16.5zM2309.6 324.5h16.5v16.3h-16.5zM2325.5 465.9h16.5v16.3h-16.5zM2357.2 293.1h16.5v16.3h-16.5zM2357.2 324.5h16.5v16.3h-16.5zM2357.2 387.3h16.5v16.3h-16.5zM2373.1 418.7h16.5v16.3h-16.5zM2389 293.1h16.5v16.3h-16.5zM2404.8 324.5h16.5v16.3h-16.5zM2404.8 371.6h16.5v16.3h-16.5zM2420.7 293.1h16.5v16.3h-16.5zM2420.7 387.3h16.5v16.3h-16.5zM2452.4 308.8h16.5v16.3h-16.5z"/></g>
<clipPath id="c2_midl"><polygon points="2085.3,315.8 2102,303.8 2186.3,303.8 2181.1,479.8 2110.7,479.8 2109.6,494.2 2091.6,496 2100.7,334.7 2076.1,501.4 2056.3,501.4"/></clipPath>
<g clip-path="url(#c2_midl)"><rect x="2056.3" y="303.8" width="130" height="197.6" fill="#70d9ac"/><path fill="#68d6b2" d="M2056.3 320.3h17.3v17.1h-17.3zM2056.3 485.6h17.3v17.1h-17.3zM2089.6 369.9h17.3v17.1h-17.3zM2123 369.9h17.3v17.1h-17.3z"/><path fill="#72d7b4" d="M2056.3 336.8h17.3v17.1h-17.3zM2056.3 353.4h17.3v17.1h-17.3zM2056.3 436h17.3v17.1h-17.3zM2073 469h17.3v17.1h-17.3zM2089.6 419.5h17.3v17.1h-17.3zM2089.6 436h17.3v17.1h-17.3zM2106.3 336.8h17.3v17.1h-17.3zM2106.3 436h17.3v17.1h-17.3zM2173.1 469h17.3v17.1h-17.3z"/><path fill="#c6ea94" d="M2056.3 386.4h17.3v17.1h-17.3zM2089.6 452.5h17.3v17.1h-17.3zM2106.3 386.4h17.3v17.1h-17.3z"/><path fill="#88c6dc" d="M2056.3 402.9h17.3v17.1h-17.3zM2056.3 469h17.3v17.1h-17.3zM2073 369.9h17.3v17.1h-17.3zM2073 386.4h17.3v17.1h-17.3z"/><path fill="#6cd8b0" d="M2056.3 419.5h17.3v17.1h-17.3zM2056.3 452.5h17.3v17.1h-17.3zM2089.6 353.4h17.3v17.1h-17.3zM2106.3 303.8h17.3v17.1h-17.3zM2106.3 353.4h17.3v17.1h-17.3zM2139.7 369.9h17.3v17.1h-17.3zM2139.7 436h17.3v17.1h-17.3zM2139.7 485.6h17.3v17.1h-17.3zM2156.4 369.9h17.3v17.1h-17.3zM2156.4 386.4h17.3v17.1h-17.3zM2156.4 469h17.3v17.1h-17.3zM2156.4 485.6h17.3v17.1h-17.3zM2173.1 402.9h17.3v17.1h-17.3zM2173.1 452.5h17.3v17.1h-17.3zM2173.1 485.6h17.3v17.1h-17.3z"/><path fill="#8cc4e0" d="M2073 303.8h17.3v17.1h-17.3zM2139.7 353.4h17.3v17.1h-17.3z"/><path fill="#a2e29a" d="M2073 320.3h17.3v17.1h-17.3zM2073 353.4h17.3v17.1h-17.3zM2073 419.5h17.3v17.1h-17.3zM2106.3 452.5h17.3v17.1h-17.3zM2139.7 402.9h17.3v17.1h-17.3zM2139.7 419.5h17.3v17.1h-17.3zM2156.4 419.5h17.3v17.1h-17.3z"/><path fill="#82dca4" d="M2073 336.8h17.3v17.1h-17.3zM2089.6 402.9h17.3v17.1h-17.3zM2106.3 320.3h17.3v17.1h-17.3zM2106.3 419.5h17.3v17.1h-17.3zM2173.1 419.5h17.3v17.1h-17.3zM2173.1 436h17.3v17.1h-17.3z"/><path fill="#aae496" d="M2073 402.9h17.3v17.1h-17.3zM2073 436h17.3v17.1h-17.3zM2073 452.5h17.3v17.1h-17.3zM2123 353.4h17.3v17.1h-17.3zM2139.7 336.8h17.3v17.1h-17.3zM2139.7 386.4h17.3v17.1h-17.3zM2156.4 336.8h17.3v17.1h-17.3zM2173.1 336.8h17.3v17.1h-17.3z"/><path fill="#66d4b0" d="M2073 485.6h17.3v17.1h-17.3zM2123 419.5h17.3v17.1h-17.3zM2123 436h17.3v17.1h-17.3zM2123 452.5h17.3v17.1h-17.3zM2139.7 452.5h17.3v17.1h-17.3zM2156.4 436h17.3v17.1h-17.3zM2173.1 320.3h17.3v17.1h-17.3z"/><path fill="#d0ec98" d="M2089.6 303.8h17.3v17.1h-17.3z"/><path fill="#94e09c" d="M2089.6 320.3h17.3v17.1h-17.3zM2106.3 469h17.3v17.1h-17.3zM2173.1 303.8h17.3v17.1h-17.3z"/><path fill="#80cbd0" d="M2089.6 336.8h17.3v17.1h-17.3zM2089.6 386.4h17.3v17.1h-17.3zM2123 402.9h17.3v17.1h-17.3zM2123 469h17.3v17.1h-17.3zM2139.7 469h17.3v17.1h-17.3zM2173.1 353.4h17.3v17.1h-17.3z"/><path fill="#bce894" d="M2089.6 485.6h17.3v17.1h-17.3zM2106.3 485.6h17.3v17.1h-17.3zM2123 303.8h17.3v17.1h-17.3z"/><path fill="#76d0c4" d="M2106.3 369.9h17.3v17.1h-17.3zM2123 320.3h17.3v17.1h-17.3zM2123 336.8h17.3v17.1h-17.3zM2123 485.6h17.3v17.1h-17.3zM2139.7 303.8h17.3v17.1h-17.3zM2156.4 320.3h17.3v17.1h-17.3zM2156.4 402.9h17.3v17.1h-17.3zM2156.4 452.5h17.3v17.1h-17.3z"/><path fill="#8ade9e" d="M2123 386.4h17.3v17.1h-17.3zM2139.7 320.3h17.3v17.1h-17.3zM2156.4 303.8h17.3v17.1h-17.3zM2173.1 386.4h17.3v17.1h-17.3z"/><path fill="#7ccdca" d="M2156.4 353.4h17.3v17.1h-17.3z"/></g>
<clipPath id="c2_midr"><polygon points="2599.5,315.8 2582.8,303.8 2498.5,303.8 2503.7,479.8 2574.2,479.8 2575.2,494.2 2593.2,496 2584.1,334.7 2608.7,501.4 2628.5,501.4"/></clipPath>
<g clip-path="url(#c2_midr)"><rect x="2498.5" y="303.8" width="130" height="197.6" fill="#68d6b2"/><path fill="#8ade9e" d="M2498.5 303.8h17.3v17.1h-17.3zM2498.5 386.4h17.3v17.1h-17.3zM2515.2 469h17.3v17.1h-17.3zM2531.9 336.8h17.3v17.1h-17.3zM2582 303.8h17.3v17.1h-17.3z"/><path fill="#66d4b0" d="M2498.5 320.3h17.3v17.1h-17.3zM2498.5 336.8h17.3v17.1h-17.3zM2498.5 419.5h17.3v17.1h-17.3zM2498.5 436h17.3v17.1h-17.3zM2498.5 469h17.3v17.1h-17.3zM2515.2 336.8h17.3v17.1h-17.3zM2548.6 452.5h17.3v17.1h-17.3zM2582 369.9h17.3v17.1h-17.3zM2598.7 436h17.3v17.1h-17.3zM2598.7 469h17.3v17.1h-17.3zM2598.7 485.6h17.3v17.1h-17.3zM2615.4 402.9h17.3v17.1h-17.3z"/><path fill="#a2e29a" d="M2498.5 353.4h17.3v17.1h-17.3zM2515.2 436h17.3v17.1h-17.3zM2531.9 303.8h17.3v17.1h-17.3zM2531.9 419.5h17.3v17.1h-17.3zM2582 320.3h17.3v17.1h-17.3zM2615.4 320.3h17.3v17.1h-17.3z"/><path fill="#72d7b4" d="M2498.5 369.9h17.3v17.1h-17.3zM2548.6 353.4h17.3v17.1h-17.3zM2565.3 369.9h17.3v17.1h-17.3zM2565.3 402.9h17.3v17.1h-17.3zM2598.7 419.5h17.3v17.1h-17.3z"/><path fill="#70d9ac" d="M2498.5 402.9h17.3v17.1h-17.3zM2531.9 386.4h17.3v17.1h-17.3zM2531.9 485.6h17.3v17.1h-17.3zM2548.6 436h17.3v17.1h-17.3zM2565.3 419.5h17.3v17.1h-17.3zM2615.4 336.8h17.3v17.1h-17.3zM2615.4 485.6h17.3v17.1h-17.3z"/><path fill="#8cc4e0" d="M2498.5 452.5h17.3v17.1h-17.3zM2582 469h17.3v17.1h-17.3z"/><path fill="#aae496" d="M2498.5 485.6h17.3v17.1h-17.3zM2515.2 320.3h17.3v17.1h-17.3zM2515.2 386.4h17.3v17.1h-17.3zM2548.6 320.3h17.3v17.1h-17.3zM2548.6 369.9h17.3v17.1h-17.3zM2565.3 320.3h17.3v17.1h-17.3zM2598.7 303.8h17.3v17.1h-17.3zM2598.7 353.4h17.3v17.1h-17.3zM2615.4 353.4h17.3v17.1h-17.3z"/><path fill="#c6ea94" d="M2515.2 303.8h17.3v17.1h-17.3z"/><path fill="#80cbd0" d="M2515.2 369.9h17.3v17.1h-17.3zM2531.9 320.3h17.3v17.1h-17.3zM2548.6 336.8h17.3v17.1h-17.3zM2548.6 469h17.3v17.1h-17.3zM2565.3 303.8h17.3v17.1h-17.3zM2565.3 336.8h17.3v17.1h-17.3zM2598.7 336.8h17.3v17.1h-17.3zM2615.4 386.4h17.3v17.1h-17.3zM2615.4 469h17.3v17.1h-17.3z"/><path fill="#bce894" d="M2515.2 402.9h17.3v17.1h-17.3zM2548.6 303.8h17.3v17.1h-17.3zM2598.7 369.9h17.3v17.1h-17.3z"/><path fill="#6cd8b0" d="M2515.2 419.5h17.3v17.1h-17.3zM2515.2 485.6h17.3v17.1h-17.3zM2531.9 402.9h17.3v17.1h-17.3zM2531.9 436h17.3v17.1h-17.3zM2531.9 469h17.3v17.1h-17.3zM2548.6 386.4h17.3v17.1h-17.3zM2548.6 402.9h17.3v17.1h-17.3zM2582 353.4h17.3v17.1h-17.3zM2598.7 386.4h17.3v17.1h-17.3z"/><path fill="#94e09c" d="M2515.2 452.5h17.3v17.1h-17.3zM2548.6 485.6h17.3v17.1h-17.3zM2582 436h17.3v17.1h-17.3zM2582 452.5h17.3v17.1h-17.3zM2615.4 303.8h17.3v17.1h-17.3z"/><path fill="#76d0c4" d="M2531.9 369.9h17.3v17.1h-17.3zM2565.3 353.4h17.3v17.1h-17.3zM2565.3 469h17.3v17.1h-17.3z"/><path fill="#d0ec98" d="M2531.9 452.5h17.3v17.1h-17.3zM2565.3 485.6h17.3v17.1h-17.3zM2615.4 419.5h17.3v17.1h-17.3z"/><path fill="#82dca4" d="M2548.6 419.5h17.3v17.1h-17.3zM2565.3 436h17.3v17.1h-17.3zM2582 336.8h17.3v17.1h-17.3zM2582 419.5h17.3v17.1h-17.3z"/><path fill="#7ccdca" d="M2565.3 386.4h17.3v17.1h-17.3zM2582 386.4h17.3v17.1h-17.3zM2598.7 320.3h17.3v17.1h-17.3zM2615.4 452.5h17.3v17.1h-17.3z"/></g>
<clipPath id="c2_lowc"><polygon points="2212.9,499.2 2471.9,499.2 2478.7,646.3 2206.1,646.3"/></clipPath>
<g clip-path="url(#c2_lowc)"><rect x="2206.1" y="499.2" width="272.5" height="147.1" fill="#70d9ac"/><path fill="#aae496" d="M2206.1 516.5h18v17.8h-18zM2240.9 533.7h18v17.8h-18zM2240.9 619.9h18v17.8h-18zM2275.8 533.7h18v17.8h-18zM2293.2 550.9h18v17.8h-18zM2293.2 602.7h18v17.8h-18zM2362.8 585.4h18v17.8h-18zM2415 602.7h18v17.8h-18zM2449.8 602.7h18v17.8h-18z"/><path fill="#94e09c" d="M2206.1 533.7h18v17.8h-18zM2258.4 550.9h18v17.8h-18zM2293.2 619.9h18v17.8h-18zM2310.6 550.9h18v17.8h-18zM2328 602.7h18v17.8h-18zM2397.6 568.2h18v17.8h-18zM2397.6 585.4h18v17.8h-18zM2415 550.9h18v17.8h-18zM2415 585.4h18v17.8h-18z"/><path fill="#68d6b2" d="M2206.1 550.9h18v17.8h-18zM2223.5 516.5h18v17.8h-18zM2240.9 499.2h18v17.8h-18zM2275.8 516.5h18v17.8h-18zM2293.2 637.1h18v17.8h-18zM2310.6 533.7h18v17.8h-18zM2328 568.2h18v17.8h-18zM2328 637.1h18v17.8h-18zM2345.4 499.2h18v17.8h-18zM2345.4 602.7h18v17.8h-18zM2380.2 585.4h18v17.8h-18zM2380.2 602.7h18v17.8h-18zM2380.2 619.9h18v17.8h-18zM2432.4 585.4h18v17.8h-18zM2449.8 568.2h18v17.8h-18z"/><path fill="#82dca4" d="M2206.1 568.2h18v17.8h-18zM2223.5 568.2h18v17.8h-18zM2275.8 568.2h18v17.8h-18zM2310.6 585.4h18v17.8h-18zM2310.6 602.7h18v17.8h-18zM2397.6 516.5h18v17.8h-18zM2432.4 499.2h18v17.8h-18zM2432.4 533.7h18v17.8h-18zM2449.8 516.5h18v17.8h-18zM2467.2 550.9h18v17.8h-18z"/><path fill="#76d0c4" d="M2206.1 585.4h18v17.8h-18zM2258.4 516.5h18v17.8h-18zM2328 516.5h18v17.8h-18zM2345.4 533.7h18v17.8h-18z"/><path fill="#a2e29a" d="M2206.1 602.7h18v17.8h-18zM2223.5 550.9h18v17.8h-18zM2240.9 516.5h18v17.8h-18zM2310.6 619.9h18v17.8h-18zM2328 550.9h18v17.8h-18zM2345.4 516.5h18v17.8h-18zM2362.8 499.2h18v17.8h-18zM2362.8 516.5h18v17.8h-18zM2362.8 533.7h18v17.8h-18z"/><path fill="#66d4b0" d="M2206.1 619.9h18v17.8h-18zM2223.5 533.7h18v17.8h-18zM2223.5 602.7h18v17.8h-18zM2293.2 499.2h18v17.8h-18zM2293.2 533.7h18v17.8h-18zM2310.6 499.2h18v17.8h-18zM2310.6 637.1h18v17.8h-18zM2328 533.7h18v17.8h-18zM2328 619.9h18v17.8h-18zM2380.2 550.9h18v17.8h-18zM2415 516.5h18v17.8h-18zM2432.4 568.2h18v17.8h-18zM2432.4 637.1h18v17.8h-18zM2449.8 533.7h18v17.8h-18zM2449.8 585.4h18v17.8h-18zM2467.2 619.9h18v17.8h-18z"/><path fill="#bce894" d="M2223.5 499.2h18v17.8h-18zM2310.6 516.5h18v17.8h-18zM2362.8 550.9h18v17.8h-18z"/><path fill="#6cd8b0" d="M2223.5 637.1h18v17.8h-18zM2240.9 585.4h18v17.8h-18zM2240.9 602.7h18v17.8h-18zM2258.4 533.7h18v17.8h-18zM2275.8 499.2h18v17.8h-18zM2275.8 619.9h18v17.8h-18zM2293.2 585.4h18v17.8h-18zM2345.4 585.4h18v17.8h-18zM2397.6 533.7h18v17.8h-18zM2397.6 550.9h18v17.8h-18zM2415 637.1h18v17.8h-18zM2449.8 550.9h18v17.8h-18zM2467.2 533.7h18v17.8h-18zM2467.2 568.2h18v17.8h-18zM2467.2 602.7h18v17.8h-18zM2467.2 637.1h18v17.8h-18z"/><path fill="#7ccdca" d="M2240.9 550.9h18v17.8h-18zM2240.9 568.2h18v17.8h-18zM2258.4 499.2h18v17.8h-18zM2345.4 550.9h18v17.8h-18zM2362.8 637.1h18v17.8h-18zM2380.2 499.2h18v17.8h-18zM2380.2 516.5h18v17.8h-18zM2415 533.7h18v17.8h-18zM2467.2 516.5h18v17.8h-18z"/><path fill="#72d7b4" d="M2240.9 637.1h18v17.8h-18zM2258.4 619.9h18v17.8h-18zM2275.8 550.9h18v17.8h-18zM2275.8 637.1h18v17.8h-18zM2362.8 568.2h18v17.8h-18zM2380.2 533.7h18v17.8h-18zM2380.2 568.2h18v17.8h-18zM2380.2 637.1h18v17.8h-18zM2397.6 619.9h18v17.8h-18zM2415 499.2h18v17.8h-18zM2415 568.2h18v17.8h-18zM2449.8 499.2h18v17.8h-18zM2467.2 585.4h18v17.8h-18z"/><path fill="#8ade9e" d="M2258.4 602.7h18v17.8h-18zM2275.8 602.7h18v17.8h-18zM2328 585.4h18v17.8h-18zM2345.4 568.2h18v17.8h-18zM2397.6 602.7h18v17.8h-18zM2397.6 637.1h18v17.8h-18zM2432.4 516.5h18v17.8h-18zM2449.8 619.9h18v17.8h-18zM2449.8 637.1h18v17.8h-18z"/><path fill="#80cbd0" d="M2310.6 568.2h18v17.8h-18zM2432.4 619.9h18v17.8h-18z"/><path fill="#c6ea94" d="M2397.6 499.2h18v17.8h-18z"/><path fill="#d0ec98" d="M2432.4 602.7h18v17.8h-18z"/></g>
<clipPath id="c2_lowl"><polygon points="2088.4,524.4 2124.6,523.1 2124.6,509.8 2178.1,512 2171.4,662.2 2115.2,662.2 2113.8,678.1 2079,678.1"/></clipPath>
<g clip-path="url(#c2_lowl)"><rect x="2079" y="509.8" width="99.1" height="168.3" fill="#6cd8b0"/><path fill="#8ade9e" d="M2079 509.8h18v17.8h-18zM2096.4 544.3h18v17.8h-18zM2113.8 527.1h18v17.8h-18zM2131.2 561.5h18v17.8h-18zM2148.7 544.3h18v17.8h-18z"/><path fill="#94e09c" d="M2079 527.1h18v17.8h-18zM2079 544.3h18v17.8h-18zM2079 578.8h18v17.8h-18zM2096.4 596h18v17.8h-18zM2113.8 665h18v17.8h-18zM2131.2 630.5h18v17.8h-18zM2131.2 665h18v17.8h-18zM2148.7 509.8h18v17.8h-18zM2166.1 544.3h18v17.8h-18z"/><path fill="#bce894" d="M2079 561.5h18v17.8h-18zM2096.4 561.5h18v17.8h-18zM2113.8 596h18v17.8h-18zM2131.2 509.8h18v17.8h-18zM2131.2 596h18v17.8h-18zM2148.7 630.5h18v17.8h-18zM2166.1 561.5h18v17.8h-18z"/><path fill="#aae496" d="M2079 596h18v17.8h-18zM2096.4 613.3h18v17.8h-18z"/><path fill="#68d6b2" d="M2079 613.3h18v17.8h-18zM2148.7 596h18v17.8h-18zM2166.1 665h18v17.8h-18z"/><path fill="#c6ea94" d="M2079 630.5h18v17.8h-18zM2096.4 509.8h18v17.8h-18zM2113.8 561.5h18v17.8h-18z"/><path fill="#82dca4" d="M2079 647.7h18v17.8h-18zM2096.4 578.8h18v17.8h-18zM2096.4 630.5h18v17.8h-18zM2148.7 665h18v17.8h-18zM2166.1 509.8h18v17.8h-18zM2166.1 527.1h18v17.8h-18zM2166.1 596h18v17.8h-18z"/><path fill="#d0ec98" d="M2079 665h18v17.8h-18zM2131.2 544.3h18v17.8h-18zM2131.2 578.8h18v17.8h-18zM2148.7 527.1h18v17.8h-18zM2148.7 578.8h18v17.8h-18zM2148.7 647.7h18v17.8h-18zM2166.1 647.7h18v17.8h-18z"/><path fill="#70d9ac" d="M2096.4 527.1h18v17.8h-18zM2096.4 665h18v17.8h-18zM2131.2 613.3h18v17.8h-18zM2166.1 578.8h18v17.8h-18z"/><path fill="#a2e29a" d="M2096.4 647.7h18v17.8h-18zM2113.8 544.3h18v17.8h-18zM2113.8 578.8h18v17.8h-18zM2113.8 613.3h18v17.8h-18z"/><path fill="#72d7b4" d="M2113.8 630.5h18v17.8h-18zM2113.8 647.7h18v17.8h-18zM2131.2 647.7h18v17.8h-18z"/><path fill="#66d4b0" d="M2131.2 527.1h18v17.8h-18zM2148.7 561.5h18v17.8h-18z"/><path fill="#7ccdca" d="M2166.1 613.3h18v17.8h-18z"/><path fill="#80cbd0" d="M2166.1 630.5h18v17.8h-18z"/></g>
<clipPath id="c2_lowr"><polygon points="2596.4,524.4 2560.2,523.1 2560.2,509.8 2506.7,512 2513.4,662.2 2569.6,662.2 2571,678.1 2605.8,678.1"/></clipPath>
<g clip-path="url(#c2_lowr)"><rect x="2506.7" y="509.8" width="99.1" height="168.3" fill="#70d9ac"/><path fill="#94e09c" d="M2506.7 509.8h18v17.8h-18zM2524.1 578.8h18v17.8h-18zM2524.1 613.3h18v17.8h-18zM2524.1 665h18v17.8h-18zM2541.5 561.5h18v17.8h-18zM2558.9 544.3h18v17.8h-18z"/><path fill="#66d4b0" d="M2506.7 527.1h18v17.8h-18zM2524.1 647.7h18v17.8h-18zM2541.5 578.8h18v17.8h-18zM2576.3 527.1h18v17.8h-18z"/><path fill="#a2e29a" d="M2506.7 544.3h18v17.8h-18zM2506.7 578.8h18v17.8h-18zM2524.1 561.5h18v17.8h-18zM2541.5 613.3h18v17.8h-18zM2558.9 527.1h18v17.8h-18zM2558.9 596h18v17.8h-18zM2576.3 596h18v17.8h-18zM2593.7 544.3h18v17.8h-18z"/><path fill="#c6ea94" d="M2506.7 561.5h18v17.8h-18zM2524.1 509.8h18v17.8h-18zM2524.1 596h18v17.8h-18zM2576.3 509.8h18v17.8h-18z"/><path fill="#aae496" d="M2506.7 596h18v17.8h-18zM2506.7 613.3h18v17.8h-18zM2506.7 630.5h18v17.8h-18zM2541.5 630.5h18v17.8h-18zM2541.5 647.7h18v17.8h-18zM2558.9 561.5h18v17.8h-18zM2558.9 630.5h18v17.8h-18zM2558.9 647.7h18v17.8h-18zM2558.9 665h18v17.8h-18z"/><path fill="#82dca4" d="M2506.7 647.7h18v17.8h-18zM2524.1 630.5h18v17.8h-18zM2541.5 596h18v17.8h-18z"/><path fill="#72d7b4" d="M2506.7 665h18v17.8h-18zM2541.5 527.1h18v17.8h-18zM2576.3 630.5h18v17.8h-18z"/><path fill="#68d6b2" d="M2524.1 527.1h18v17.8h-18zM2576.3 613.3h18v17.8h-18z"/><path fill="#7ccdca" d="M2524.1 544.3h18v17.8h-18z"/><path fill="#8ade9e" d="M2541.5 665h18v17.8h-18zM2558.9 578.8h18v17.8h-18zM2576.3 544.3h18v17.8h-18zM2576.3 561.5h18v17.8h-18zM2576.3 647.7h18v17.8h-18zM2593.7 509.8h18v17.8h-18zM2593.7 596h18v17.8h-18z"/><path fill="#d0ec98" d="M2558.9 509.8h18v17.8h-18zM2576.3 665h18v17.8h-18zM2593.7 665h18v17.8h-18z"/><path fill="#88c6dc" d="M2558.9 613.3h18v17.8h-18z"/><path fill="#6cd8b0" d="M2576.3 578.8h18v17.8h-18zM2593.7 578.8h18v17.8h-18z"/><path fill="#bce894" d="M2593.7 561.5h18v17.8h-18zM2593.7 630.5h18v17.8h-18z"/><path fill="#80cbd0" d="M2593.7 647.7h18v17.8h-18z"/></g>
<rect x="2453.1" y="200.3" width="15.2" height="15.8" fill="#5462c2"/><rect x="2468.4" y="200.3" width="17.4" height="15.8" fill="#8ea6de"/><rect x="2485.8" y="200.3" width="16.3" height="15.8" fill="#7494d8"/><rect x="2334.9" y="354.6" width="16.5" height="15.5" fill="#7080d0"/><rect x="2182.8" y="200.3" width="50.1" height="15.8" fill="#8cc4de"/>
<g filter="url(#soft)"><use href="#wire" transform="matrix(1.03 0 0 1.02 1756.3 -4.2)"/></g>
<linearGradient id="cb2" x1="0" y1="0" x2="0" y2="1"><stop offset="0" stop-color="#ee1818"/><stop offset="0.12" stop-color="#e82222"/><stop offset="0.23" stop-color="#e07a68"/><stop offset="0.3" stop-color="#e8c492"/><stop offset="0.35" stop-color="#eeee98"/><stop offset="0.42" stop-color="#a8e092"/><stop offset="0.5" stop-color="#64d4aa"/><stop offset="0.57" stop-color="#70cec6"/><stop offset="0.63" stop-color="#92c8e4"/><stop offset="0.7" stop-color="#7272c4"/><stop offset="0.79" stop-color="#1c1ca0"/><stop offset="0.86" stop-color="#141452"/><stop offset="0.95" stop-color="#151515"/><stop offset="1" stop-color="#111"/></linearGradient>
<rect x="2790.3" y="132.4" width="14.1" height="684.5" fill="url(#cb2)"/>
<text x="2785" y="331.3" font-size="11" text-anchor="end" fill="#383838">0.84</text>
<text x="2785" y="428.5" font-size="11" text-anchor="end" fill="#383838">0.42</text>
<text x="2785" y="526.2" font-size="11" text-anchor="end" fill="#383838">0.35</text>
<text x="2785" y="624.4" font-size="11" text-anchor="end" fill="#383838">0.23</text>
<text x="2785" y="723.2" font-size="11" text-anchor="end" fill="#383838">0.22</text>
<text x="2785" y="816.7" font-size="11" text-anchor="end" fill="#383838">0.02</text>
<text x="2660.4" y="229.4" font-size="10" fill="#383838" textLength="124.6" lengthAdjust="spacingAndGlyphs">ΣΩΗ2)  ⊕ 00 Θ M8 ¥ = 1.30</text>
<text x="2659.4" y="824" font-size="9.5" fill="#d04444" textLength="80" lengthAdjust="spacingAndGlyphs">30.6-  44 reerivers</text>
<circle cx="2342.4" cy="809.5" r="3" fill="#e02020"/>
<text x="2343.4" y="821.5" font-size="9" fill="#d03030">FE</text>
<line x1="263.0" y1="905.1" x2="1034.5" y2="905.1" stroke="#bdbdbd" stroke-width="1.3"/>
<line x1="259.5" y1="905.1" x2="263.0" y2="905.1" stroke="#222" stroke-width="1.2"/>
<text x="255.2" y="911.7" font-size="19" text-anchor="end" fill="#111">1</text>
<line x1="263.0" y1="936.2" x2="1034.5" y2="936.2" stroke="#bdbdbd" stroke-width="1.3"/>
<line x1="259.5" y1="936.2" x2="263.0" y2="936.2" stroke="#222" stroke-width="1.2"/>
<text x="255.2" y="942.8" font-size="19" text-anchor="end" fill="#111">0.95</text>
<line x1="263.0" y1="967.3" x2="1034.5" y2="967.3" stroke="#bdbdbd" stroke-width="1.3"/>
<line x1="259.5" y1="967.3" x2="263.0" y2="967.3" stroke="#222" stroke-width="1.2"/>
<text x="255.2" y="973.9" font-size="19" text-anchor="end" fill="#111">0.9</text>
<line x1="263.0" y1="998.3" x2="1034.5" y2="998.3" stroke="#bdbdbd" stroke-width="1.3"/>
<line x1="259.5" y1="998.3" x2="263.0" y2="998.3" stroke="#222" stroke-width="1.2"/>
<text x="255.2" y="1004.9" font-size="19" text-anchor="end" fill="#111">0.85</text>
<line x1="263.0" y1="1029.4" x2="1034.5" y2="1029.4" stroke="#bdbdbd" stroke-width="1.3"/>
<line x1="259.5" y1="1029.4" x2="263.0" y2="1029.4" stroke="#222" stroke-width="1.2"/>
<text x="255.2" y="1036.0" font-size="19" text-anchor="end" fill="#111">0.8</text>
<line x1="263.0" y1="1060.5" x2="1034.5" y2="1060.5" stroke="#bdbdbd" stroke-width="1.3"/>
<line x1="259.5" y1="1060.5" x2="263.0" y2="1060.5" stroke="#222" stroke-width="1.2"/>
<text x="255.2" y="1067.1" font-size="19" text-anchor="end" fill="#111">0.75</text>
<line x1="263.0" y1="1091.6" x2="1034.5" y2="1091.6" stroke="#bdbdbd" stroke-width="1.3"/>
<line x1="259.5" y1="1091.6" x2="263.0" y2="1091.6" stroke="#222" stroke-width="1.2"/>
<text x="255.2" y="1098.2" font-size="19" text-anchor="end" fill="#111">0.7</text>
<line x1="263.0" y1="1122.7" x2="1034.5" y2="1122.7" stroke="#bdbdbd" stroke-width="1.3"/>
<line x1="259.5" y1="1122.7" x2="263.0" y2="1122.7" stroke="#222" stroke-width="1.2"/>
<text x="255.2" y="1129.3" font-size="19" text-anchor="end" fill="#111">0.65</text>
<line x1="263.0" y1="1153.7" x2="1034.5" y2="1153.7" stroke="#bdbdbd" stroke-width="1.3"/>
<line x1="259.5" y1="1153.7" x2="263.0" y2="1153.7" stroke="#222" stroke-width="1.2"/>
<text x="255.2" y="1160.3" font-size="19" text-anchor="end" fill="#111">0.6</text>
<line x1="263.0" y1="1184.8" x2="1034.5" y2="1184.8" stroke="#bdbdbd" stroke-width="1.3"/>
<line x1="259.5" y1="1184.8" x2="263.0" y2="1184.8" stroke="#222" stroke-width="1.2"/>
<text x="255.2" y="1191.4" font-size="19" text-anchor="end" fill="#111">0.55</text>
<line x1="263.0" y1="1215.9" x2="1034.5" y2="1215.9" stroke="#bdbdbd" stroke-width="1.3"/>
<line x1="259.5" y1="1215.9" x2="263.0" y2="1215.9" stroke="#222" stroke-width="1.2"/>
<text x="255.2" y="1222.5" font-size="19" text-anchor="end" fill="#111">0.5</text>
<line x1="263.0" y1="1247.0" x2="1034.5" y2="1247.0" stroke="#bdbdbd" stroke-width="1.3"/>
<line x1="259.5" y1="1247.0" x2="263.0" y2="1247.0" stroke="#222" stroke-width="1.2"/>
<text x="255.2" y="1253.6" font-size="19" text-anchor="end" fill="#111">0.45</text>
<line x1="263.0" y1="1278.1" x2="1034.5" y2="1278.1" stroke="#bdbdbd" stroke-width="1.3"/>
<line x1="259.5" y1="1278.1" x2="263.0" y2="1278.1" stroke="#222" stroke-width="1.2"/>
<text x="255.2" y="1284.7" font-size="19" text-anchor="end" fill="#111">0.4</text>
<line x1="263.0" y1="1309.1" x2="1034.5" y2="1309.1" stroke="#bdbdbd" stroke-width="1.3"/>
<line x1="259.5" y1="1309.1" x2="263.0" y2="1309.1" stroke="#222" stroke-width="1.2"/>
<text x="255.2" y="1315.7" font-size="19" text-anchor="end" fill="#111">0.35</text>
<line x1="263.0" y1="1340.2" x2="1034.5" y2="1340.2" stroke="#bdbdbd" stroke-width="1.3"/>
<line x1="259.5" y1="1340.2" x2="263.0" y2="1340.2" stroke="#222" stroke-width="1.2"/>
<text x="255.2" y="1346.8" font-size="19" text-anchor="end" fill="#111">0.3</text>
<line x1="263.0" y1="1371.3" x2="1034.5" y2="1371.3" stroke="#bdbdbd" stroke-width="1.3"/>
<line x1="259.5" y1="1371.3" x2="263.0" y2="1371.3" stroke="#222" stroke-width="1.2"/>
<text x="255.2" y="1377.9" font-size="19" text-anchor="end" fill="#111">0.25</text>
<line x1="263.0" y1="1402.4" x2="1034.5" y2="1402.4" stroke="#bdbdbd" stroke-width="1.3"/>
<line x1="259.5" y1="1402.4" x2="263.0" y2="1402.4" stroke="#222" stroke-width="1.2"/>
<text x="255.2" y="1409.0" font-size="19" text-anchor="end" fill="#111">0.3</text>
<line x1="324.3" y1="888.0" x2="324.3" y2="1423.7" stroke="#a8a8a8" stroke-width="1.1"/>
<line x1="324.3" y1="1423.7" x2="324.3" y2="1427.2" stroke="#222" stroke-width="1.2"/>
<text x="327.3" y="1448.5" font-size="19" text-anchor="middle" fill="#111">63</text>
<line x1="417.1" y1="888.0" x2="417.1" y2="1423.7" stroke="#a8a8a8" stroke-width="1.1"/>
<line x1="417.1" y1="1423.7" x2="417.1" y2="1427.2" stroke="#222" stroke-width="1.2"/>
<text x="420.1" y="1448.5" font-size="19" text-anchor="middle" fill="#111">125</text>
<line x1="509.8" y1="888.0" x2="509.8" y2="1423.7" stroke="#a8a8a8" stroke-width="1.1"/>
<line x1="509.8" y1="1423.7" x2="509.8" y2="1427.2" stroke="#222" stroke-width="1.2"/>
<text x="512.8" y="1448.5" font-size="19" text-anchor="middle" fill="#111">250</text>
<line x1="602.6" y1="888.0" x2="602.6" y2="1423.7" stroke="#a8a8a8" stroke-width="1.1"/>
<line x1="602.6" y1="1423.7" x2="602.6" y2="1427.2" stroke="#222" stroke-width="1.2"/>
<text x="605.6" y="1448.5" font-size="19" text-anchor="middle" fill="#111">500</text>
<line x1="695.3" y1="888.0" x2="695.3" y2="1423.7" stroke="#a8a8a8" stroke-width="1.1"/>
<line x1="695.3" y1="1423.7" x2="695.3" y2="1427.2" stroke="#222" stroke-width="1.2"/>
<text x="698.3" y="1448.5" font-size="19" text-anchor="middle" fill="#111">1000</text>
<line x1="788.1" y1="888.0" x2="788.1" y2="1423.7" stroke="#a8a8a8" stroke-width="1.1"/>
<line x1="788.1" y1="1423.7" x2="788.1" y2="1427.2" stroke="#222" stroke-width="1.2"/>
<text x="791.1" y="1448.5" font-size="19" text-anchor="middle" fill="#111">2000</text>
<line x1="880.9" y1="888.0" x2="880.9" y2="1423.7" stroke="#a8a8a8" stroke-width="1.1"/>
<line x1="880.9" y1="1423.7" x2="880.9" y2="1427.2" stroke="#222" stroke-width="1.2"/>
<text x="883.9" y="1448.5" font-size="19" text-anchor="middle" fill="#111">4000</text>
<line x1="973.6" y1="888.0" x2="973.6" y2="1423.7" stroke="#a8a8a8" stroke-width="1.1"/>
<line x1="973.6" y1="1423.7" x2="973.6" y2="1427.2" stroke="#222" stroke-width="1.2"/>
<text x="976.6" y="1448.5" font-size="19" text-anchor="middle" fill="#111">8000</text>
<polyline points="263.0,888.0 1034.5,888.0 1034.5,1423.7" fill="none" stroke="#6a6a6a" stroke-width="1.6"/>
<line x1="263.0" y1="892.0" x2="263.0" y2="1423.7" stroke="#000" stroke-width="2.2"/>
<line x1="263.0" y1="1423.7" x2="1034.5" y2="1423.7" stroke="#000" stroke-width="2.2"/>
<polyline points="324.3,1106.5 417.1,1109.6 509.8,1080.4 602.6,1091.6 695.3,1111.5 788.1,1110.2 880.9,1079.1 973.6,1004.6" fill="none" stroke="#3a3a3a" stroke-width="1.3"/>
<polyline points="324.3,1215.9 417.1,1227.1 509.8,1197.9 602.6,1210.9 695.3,1233.3 788.1,1233.3 880.9,1204.1 973.6,1107.7" fill="none" stroke="#3a3a3a" stroke-width="1.3"/>
<polyline points="324.3,1173.0 417.1,1180.5 509.8,1153.7 602.6,1164.9 695.3,1181.1 788.1,1177.4 880.9,1150.0 973.6,1060.5" fill="none" stroke="#d42a2a" stroke-width="1.6"/>
<line x1="324.3" y1="1138.2" x2="324.3" y2="1205.3" stroke="#d42a2a" stroke-width="2.2"/>
<line x1="319.7" y1="1138.2" x2="328.9" y2="1138.2" stroke="#d42a2a" stroke-width="2.2"/>
<line x1="319.7" y1="1205.3" x2="328.9" y2="1205.3" stroke="#d42a2a" stroke-width="2.2"/>
<circle cx="324.3" cy="1173.0" r="6.0" fill="#e02020"/>
<line x1="417.1" y1="1145.7" x2="417.1" y2="1214.7" stroke="#d42a2a" stroke-width="2.2"/>
<line x1="412.5" y1="1145.7" x2="421.7" y2="1145.7" stroke="#d42a2a" stroke-width="2.2"/>
<line x1="412.5" y1="1214.7" x2="421.7" y2="1214.7" stroke="#d42a2a" stroke-width="2.2"/>
<circle cx="417.1" cy="1180.5" r="6.0" fill="#e02020"/>
<line x1="509.8" y1="1118.3" x2="509.8" y2="1188.5" stroke="#d42a2a" stroke-width="2.2"/>
<line x1="505.2" y1="1118.3" x2="514.4" y2="1118.3" stroke="#d42a2a" stroke-width="2.2"/>
<line x1="505.2" y1="1188.5" x2="514.4" y2="1188.5" stroke="#d42a2a" stroke-width="2.2"/>
<circle cx="509.8" cy="1153.7" r="6.0" fill="#e02020"/>
<line x1="602.6" y1="1129.5" x2="602.6" y2="1199.7" stroke="#d42a2a" stroke-width="2.2"/>
<line x1="598.0" y1="1129.5" x2="607.2" y2="1129.5" stroke="#d42a2a" stroke-width="2.2"/>
<line x1="598.0" y1="1199.7" x2="607.2" y2="1199.7" stroke="#d42a2a" stroke-width="2.2"/>
<circle cx="602.6" cy="1164.9" r="6.0" fill="#e02020"/>
<line x1="695.3" y1="1145.0" x2="695.3" y2="1217.1" stroke="#d42a2a" stroke-width="2.2"/>
<line x1="690.7" y1="1145.0" x2="699.9" y2="1145.0" stroke="#d42a2a" stroke-width="2.2"/>
<line x1="690.7" y1="1217.1" x2="699.9" y2="1217.1" stroke="#d42a2a" stroke-width="2.2"/>
<circle cx="695.3" cy="1181.1" r="6.0" fill="#e02020"/>
<line x1="788.1" y1="1143.2" x2="788.1" y2="1212.8" stroke="#d42a2a" stroke-width="2.2"/>
<line x1="783.5" y1="1143.2" x2="792.7" y2="1143.2" stroke="#d42a2a" stroke-width="2.2"/>
<line x1="783.5" y1="1212.8" x2="792.7" y2="1212.8" stroke="#d42a2a" stroke-width="2.2"/>
<circle cx="788.1" cy="1177.4" r="6.0" fill="#e02020"/>
<line x1="880.9" y1="1115.2" x2="880.9" y2="1182.3" stroke="#d42a2a" stroke-width="2.2"/>
<line x1="876.3" y1="1115.2" x2="885.5" y2="1115.2" stroke="#d42a2a" stroke-width="2.2"/>
<line x1="876.3" y1="1182.3" x2="885.5" y2="1182.3" stroke="#d42a2a" stroke-width="2.2"/>
<circle cx="880.9" cy="1150.0" r="6.0" fill="#e02020"/>
<line x1="973.6" y1="1032.5" x2="973.6" y2="1087.9" stroke="#d42a2a" stroke-width="2.2"/>
<line x1="969.0" y1="1032.5" x2="978.2" y2="1032.5" stroke="#d42a2a" stroke-width="2.2"/>
<line x1="969.0" y1="1087.9" x2="978.2" y2="1087.9" stroke="#d42a2a" stroke-width="2.2"/>
<circle cx="973.6" cy="1060.5" r="6.0" fill="#e02020"/>
<text x="583.6" y="853.9" font-size="19" fill="#1a1f8f" textLength="76.2" lengthAdjust="spacingAndGlyphs">Statistics</text>
<text x="420.0" y="877" font-size="19" fill="#1a1f8f" textLength="415.7" lengthAdjust="spacingAndGlyphs">Active receivers: 1,2,3,4,5,6,7,8,9,10,11,12,13,14</text>
<text x="588.0" y="1470.7" font-size="18.5" fill="#111" textLength="133.0" lengthAdjust="spacingAndGlyphs">Frequency (Hz)</text>
<text x="0" y="0" font-size="18" fill="#111" transform="translate(217,1154.5) rotate(-90)" text-anchor="middle">T(ßó)</text>
<line x1="1143.7" y1="899.3" x2="1913.5" y2="899.3" stroke="#bdbdbd" stroke-width="1.3"/>
<line x1="1140.2" y1="899.3" x2="1143.7" y2="899.3" stroke="#222" stroke-width="1.2"/>
<text x="1135.9" y="905.9" font-size="19" text-anchor="end" fill="#111">1</text>
<line x1="1143.7" y1="930.9" x2="1913.5" y2="930.9" stroke="#bdbdbd" stroke-width="1.3"/>
<line x1="1140.2" y1="930.9" x2="1143.7" y2="930.9" stroke="#222" stroke-width="1.2"/>
<text x="1135.9" y="937.5" font-size="19" text-anchor="end" fill="#111">0.95</text>
<line x1="1143.7" y1="962.6" x2="1913.5" y2="962.6" stroke="#bdbdbd" stroke-width="1.3"/>
<line x1="1140.2" y1="962.6" x2="1143.7" y2="962.6" stroke="#222" stroke-width="1.2"/>
<text x="1135.9" y="969.2" font-size="19" text-anchor="end" fill="#111">0.9</text>
<line x1="1143.7" y1="994.2" x2="1913.5" y2="994.2" stroke="#bdbdbd" stroke-width="1.3"/>
<line x1="1140.2" y1="994.2" x2="1143.7" y2="994.2" stroke="#222" stroke-width="1.2"/>
<text x="1135.9" y="1000.8" font-size="19" text-anchor="end" fill="#111">0.85</text>
<line x1="1143.7" y1="1025.9" x2="1913.5" y2="1025.9" stroke="#bdbdbd" stroke-width="1.3"/>
<line x1="1140.2" y1="1025.9" x2="1143.7" y2="1025.9" stroke="#222" stroke-width="1.2"/>
<text x="1135.9" y="1032.5" font-size="19" text-anchor="end" fill="#111">0.8</text>
<line x1="1143.7" y1="1057.5" x2="1913.5" y2="1057.5" stroke="#bdbdbd" stroke-width="1.3"/>
<line x1="1140.2" y1="1057.5" x2="1143.7" y2="1057.5" stroke="#222" stroke-width="1.2"/>
<text x="1135.9" y="1064.1" font-size="19" text-anchor="end" fill="#111">0.75</text>
<line x1="1143.7" y1="1089.1" x2="1913.5" y2="1089.1" stroke="#bdbdbd" stroke-width="1.3"/>
<line x1="1140.2" y1="1089.1" x2="1143.7" y2="1089.1" stroke="#222" stroke-width="1.2"/>
<text x="1135.9" y="1095.7" font-size="19" text-anchor="end" fill="#111">0.7</text>
<line x1="1143.7" y1="1120.8" x2="1913.5" y2="1120.8" stroke="#bdbdbd" stroke-width="1.3"/>
<line x1="1140.2" y1="1120.8" x2="1143.7" y2="1120.8" stroke="#222" stroke-width="1.2"/>
<text x="1135.9" y="1127.4" font-size="19" text-anchor="end" fill="#111">0.65</text>
<line x1="1143.7" y1="1152.4" x2="1913.5" y2="1152.4" stroke="#bdbdbd" stroke-width="1.3"/>
<line x1="1140.2" y1="1152.4" x2="1143.7" y2="1152.4" stroke="#222" stroke-width="1.2"/>
<text x="1135.9" y="1159.0" font-size="19" text-anchor="end" fill="#111">0.6</text>
<line x1="1143.7" y1="1184.1" x2="1913.5" y2="1184.1" stroke="#bdbdbd" stroke-width="1.3"/>
<line x1="1140.2" y1="1184.1" x2="1143.7" y2="1184.1" stroke="#222" stroke-width="1.2"/>
<text x="1135.9" y="1190.7" font-size="19" text-anchor="end" fill="#111">0.55</text>
<line x1="1143.7" y1="1215.7" x2="1913.5" y2="1215.7" stroke="#bdbdbd" stroke-width="1.3"/>
<line x1="1140.2" y1="1215.7" x2="1143.7" y2="1215.7" stroke="#222" stroke-width="1.2"/>
<text x="1135.9" y="1222.3" font-size="19" text-anchor="end" fill="#111">0.5</text>
<line x1="1143.7" y1="1247.3" x2="1913.5" y2="1247.3" stroke="#bdbdbd" stroke-width="1.3"/>
<line x1="1140.2" y1="1247.3" x2="1143.7" y2="1247.3" stroke="#222" stroke-width="1.2"/>
<text x="1135.9" y="1253.9" font-size="19" text-anchor="end" fill="#111">0.45</text>
<line x1="1143.7" y1="1279.0" x2="1913.5" y2="1279.0" stroke="#bdbdbd" stroke-width="1.3"/>
<line x1="1140.2" y1="1279.0" x2="1143.7" y2="1279.0" stroke="#222" stroke-width="1.2"/>
<text x="1135.9" y="1285.6" font-size="19" text-anchor="end" fill="#111">0.4</text>
<line x1="1143.7" y1="1310.6" x2="1913.5" y2="1310.6" stroke="#bdbdbd" stroke-width="1.3"/>
<line x1="1140.2" y1="1310.6" x2="1143.7" y2="1310.6" stroke="#222" stroke-width="1.2"/>
<text x="1135.9" y="1317.2" font-size="19" text-anchor="end" fill="#111">0.35</text>
<line x1="1143.7" y1="1342.3" x2="1913.5" y2="1342.3" stroke="#bdbdbd" stroke-width="1.3"/>
<line x1="1140.2" y1="1342.3" x2="1143.7" y2="1342.3" stroke="#222" stroke-width="1.2"/>
<text x="1135.9" y="1348.9" font-size="19" text-anchor="end" fill="#111">0.3</text>
<line x1="1143.7" y1="1373.9" x2="1913.5" y2="1373.9" stroke="#bdbdbd" stroke-width="1.3"/>
<line x1="1140.2" y1="1373.9" x2="1143.7" y2="1373.9" stroke="#222" stroke-width="1.2"/>
<text x="1135.9" y="1380.5" font-size="19" text-anchor="end" fill="#111">0.25</text>
<line x1="1143.7" y1="1405.5" x2="1913.5" y2="1405.5" stroke="#bdbdbd" stroke-width="1.3"/>
<line x1="1140.2" y1="1405.5" x2="1143.7" y2="1405.5" stroke="#222" stroke-width="1.2"/>
<text x="1135.9" y="1412.1" font-size="19" text-anchor="end" fill="#111">0.2</text>
<line x1="1204.0" y1="888.5" x2="1204.0" y2="1427.1" stroke="#a8a8a8" stroke-width="1.1"/>
<line x1="1204.0" y1="1427.1" x2="1204.0" y2="1430.6" stroke="#222" stroke-width="1.2"/>
<text x="1207.0" y="1452.7" font-size="19" text-anchor="middle" fill="#111">63</text>
<line x1="1296.8" y1="888.5" x2="1296.8" y2="1427.1" stroke="#a8a8a8" stroke-width="1.1"/>
<line x1="1296.8" y1="1427.1" x2="1296.8" y2="1430.6" stroke="#222" stroke-width="1.2"/>
<text x="1299.8" y="1452.7" font-size="19" text-anchor="middle" fill="#111">125</text>
<line x1="1389.6" y1="888.5" x2="1389.6" y2="1427.1" stroke="#a8a8a8" stroke-width="1.1"/>
<line x1="1389.6" y1="1427.1" x2="1389.6" y2="1430.6" stroke="#222" stroke-width="1.2"/>
<text x="1392.6" y="1452.7" font-size="19" text-anchor="middle" fill="#111">250</text>
<line x1="1482.4" y1="888.5" x2="1482.4" y2="1427.1" stroke="#a8a8a8" stroke-width="1.1"/>
<line x1="1482.4" y1="1427.1" x2="1482.4" y2="1430.6" stroke="#222" stroke-width="1.2"/>
<text x="1485.4" y="1452.7" font-size="19" text-anchor="middle" fill="#111">500</text>
<line x1="1575.2" y1="888.5" x2="1575.2" y2="1427.1" stroke="#a8a8a8" stroke-width="1.1"/>
<line x1="1575.2" y1="1427.1" x2="1575.2" y2="1430.6" stroke="#222" stroke-width="1.2"/>
<text x="1578.2" y="1452.7" font-size="19" text-anchor="middle" fill="#111">1000</text>
<line x1="1668.0" y1="888.5" x2="1668.0" y2="1427.1" stroke="#a8a8a8" stroke-width="1.1"/>
<line x1="1668.0" y1="1427.1" x2="1668.0" y2="1430.6" stroke="#222" stroke-width="1.2"/>
<text x="1671.0" y="1452.7" font-size="19" text-anchor="middle" fill="#111">2000</text>
<line x1="1760.7" y1="888.5" x2="1760.7" y2="1427.1" stroke="#a8a8a8" stroke-width="1.1"/>
<line x1="1760.7" y1="1427.1" x2="1760.7" y2="1430.6" stroke="#222" stroke-width="1.2"/>
<text x="1763.7" y="1452.7" font-size="19" text-anchor="middle" fill="#111">4000</text>
<line x1="1853.5" y1="888.5" x2="1853.5" y2="1427.1" stroke="#a8a8a8" stroke-width="1.1"/>
<line x1="1853.5" y1="1427.1" x2="1853.5" y2="1430.6" stroke="#222" stroke-width="1.2"/>
<text x="1856.5" y="1452.7" font-size="19" text-anchor="middle" fill="#111">8000</text>
<polyline points="1143.7,888.5 1913.5,888.5 1913.5,1427.1" fill="none" stroke="#6a6a6a" stroke-width="1.6"/>
<line x1="1143.7" y1="892.5" x2="1143.7" y2="1427.1" stroke="#000" stroke-width="2.2"/>
<line x1="1143.7" y1="1427.1" x2="1913.5" y2="1427.1" stroke="#000" stroke-width="2.2"/>
<polyline points="1204.0,1108.1 1296.8,1112.6 1389.6,1081.5 1482.4,1093.6 1575.2,1111.3 1668.0,1116.4 1760.7,1084.1 1853.5,1005.6" fill="none" stroke="#3a3a3a" stroke-width="1.3"/>
<polyline points="1204.0,1221.4 1296.8,1232.8 1389.6,1206.2 1482.4,1210.6 1575.2,1220.1 1668.0,1219.5 1760.7,1191.7 1853.5,1102.4" fill="none" stroke="#3a3a3a" stroke-width="1.3"/>
<polyline points="1204.0,1176.5 1296.8,1186.0 1389.6,1156.8 1482.4,1167.6 1575.2,1182.2 1668.0,1179.6 1760.7,1150.5 1853.5,1059.4" fill="none" stroke="#d42a2a" stroke-width="1.6"/>
<line x1="1204.0" y1="1142.9" x2="1204.0" y2="1209.4" stroke="#d42a2a" stroke-width="2.2"/>
<line x1="1199.4" y1="1142.9" x2="1208.6" y2="1142.9" stroke="#d42a2a" stroke-width="2.2"/>
<line x1="1199.4" y1="1209.4" x2="1208.6" y2="1209.4" stroke="#d42a2a" stroke-width="2.2"/>
<circle cx="1204.0" cy="1176.5" r="6.0" fill="#e02020"/>
<line x1="1296.8" y1="1150.5" x2="1296.8" y2="1220.1" stroke="#d42a2a" stroke-width="2.2"/>
<line x1="1292.2" y1="1150.5" x2="1301.4" y2="1150.5" stroke="#d42a2a" stroke-width="2.2"/>
<line x1="1292.2" y1="1220.1" x2="1301.4" y2="1220.1" stroke="#d42a2a" stroke-width="2.2"/>
<circle cx="1296.8" cy="1186.0" r="6.0" fill="#e02020"/>
<line x1="1389.6" y1="1121.4" x2="1389.6" y2="1192.3" stroke="#d42a2a" stroke-width="2.2"/>
<line x1="1385.0" y1="1121.4" x2="1394.2" y2="1121.4" stroke="#d42a2a" stroke-width="2.2"/>
<line x1="1385.0" y1="1192.3" x2="1394.2" y2="1192.3" stroke="#d42a2a" stroke-width="2.2"/>
<circle cx="1389.6" cy="1156.8" r="6.0" fill="#e02020"/>
<line x1="1482.4" y1="1132.8" x2="1482.4" y2="1200.5" stroke="#d42a2a" stroke-width="2.2"/>
<line x1="1477.8" y1="1132.8" x2="1487.0" y2="1132.8" stroke="#d42a2a" stroke-width="2.2"/>
<line x1="1477.8" y1="1200.5" x2="1487.0" y2="1200.5" stroke="#d42a2a" stroke-width="2.2"/>
<circle cx="1482.4" cy="1167.6" r="6.0" fill="#e02020"/>
<line x1="1575.2" y1="1148.6" x2="1575.2" y2="1215.1" stroke="#d42a2a" stroke-width="2.2"/>
<line x1="1570.6" y1="1148.6" x2="1579.8" y2="1148.6" stroke="#d42a2a" stroke-width="2.2"/>
<line x1="1570.6" y1="1215.1" x2="1579.8" y2="1215.1" stroke="#d42a2a" stroke-width="2.2"/>
<circle cx="1575.2" cy="1182.2" r="6.0" fill="#e02020"/>
<line x1="1668.0" y1="1146.7" x2="1668.0" y2="1211.9" stroke="#d42a2a" stroke-width="2.2"/>
<line x1="1663.4" y1="1146.7" x2="1672.5" y2="1146.7" stroke="#d42a2a" stroke-width="2.2"/>
<line x1="1663.4" y1="1211.9" x2="1672.5" y2="1211.9" stroke="#d42a2a" stroke-width="2.2"/>
<circle cx="1668.0" cy="1179.6" r="6.0" fill="#e02020"/>
<line x1="1760.7" y1="1118.9" x2="1760.7" y2="1182.2" stroke="#d42a2a" stroke-width="2.2"/>
<line x1="1756.1" y1="1118.9" x2="1765.3" y2="1118.9" stroke="#d42a2a" stroke-width="2.2"/>
<line x1="1756.1" y1="1182.2" x2="1765.3" y2="1182.2" stroke="#d42a2a" stroke-width="2.2"/>
<circle cx="1760.7" cy="1150.5" r="6.0" fill="#e02020"/>
<line x1="1853.5" y1="1032.8" x2="1853.5" y2="1086.0" stroke="#d42a2a" stroke-width="2.2"/>
<line x1="1848.9" y1="1032.8" x2="1858.1" y2="1032.8" stroke="#d42a2a" stroke-width="2.2"/>
<line x1="1848.9" y1="1086.0" x2="1858.1" y2="1086.0" stroke="#d42a2a" stroke-width="2.2"/>
<circle cx="1853.5" cy="1059.4" r="6.0" fill="#e02020"/>
<text x="1463.5" y="853.9" font-size="19" fill="#1a1f8f" textLength="76.3" lengthAdjust="spacingAndGlyphs">Statistics</text>
<text x="1299.6" y="877" font-size="19" fill="#1a1f8f" textLength="415.7" lengthAdjust="spacingAndGlyphs">Active receivers: 1,2,3,4,5,6,7,8,9,10,11,12,13,14</text>
<text x="1467.3" y="1475.0" font-size="18.5" fill="#111" textLength="133.9" lengthAdjust="spacingAndGlyphs">Frequency (Hz)</text>
<text x="0" y="0" font-size="18" fill="#111" transform="translate(1099,1155) rotate(-90)" text-anchor="middle">T(ßó)</text>
<line x1="2026.3" y1="907.2" x2="2797.0" y2="907.2" stroke="#bdbdbd" stroke-width="1.3"/>
<line x1="2022.8" y1="907.2" x2="2026.3" y2="907.2" stroke="#222" stroke-width="1.2"/>
<text x="2018.5" y="913.8" font-size="19" text-anchor="end" fill="#111">1</text>
<line x1="2026.3" y1="938.7" x2="2797.0" y2="938.7" stroke="#bdbdbd" stroke-width="1.3"/>
<line x1="2022.8" y1="938.7" x2="2026.3" y2="938.7" stroke="#222" stroke-width="1.2"/>
<text x="2018.5" y="945.3" font-size="19" text-anchor="end" fill="#111">0.95</text>
<line x1="2026.3" y1="970.1" x2="2797.0" y2="970.1" stroke="#bdbdbd" stroke-width="1.3"/>
<line x1="2022.8" y1="970.1" x2="2026.3" y2="970.1" stroke="#222" stroke-width="1.2"/>
<text x="2018.5" y="976.7" font-size="19" text-anchor="end" fill="#111">0.9</text>
<line x1="2026.3" y1="1001.6" x2="2797.0" y2="1001.6" stroke="#bdbdbd" stroke-width="1.3"/>
<line x1="2022.8" y1="1001.6" x2="2026.3" y2="1001.6" stroke="#222" stroke-width="1.2"/>
<text x="2018.5" y="1008.2" font-size="19" text-anchor="end" fill="#111">0.85</text>
<line x1="2026.3" y1="1033.0" x2="2797.0" y2="1033.0" stroke="#bdbdbd" stroke-width="1.3"/>
<line x1="2022.8" y1="1033.0" x2="2026.3" y2="1033.0" stroke="#222" stroke-width="1.2"/>
<text x="2018.5" y="1039.6" font-size="19" text-anchor="end" fill="#111">0.8</text>
<line x1="2026.3" y1="1064.5" x2="2797.0" y2="1064.5" stroke="#bdbdbd" stroke-width="1.3"/>
<line x1="2022.8" y1="1064.5" x2="2026.3" y2="1064.5" stroke="#222" stroke-width="1.2"/>
<text x="2018.5" y="1071.0" font-size="19" text-anchor="end" fill="#111">0.75</text>
<line x1="2026.3" y1="1095.9" x2="2797.0" y2="1095.9" stroke="#bdbdbd" stroke-width="1.3"/>
<line x1="2022.8" y1="1095.9" x2="2026.3" y2="1095.9" stroke="#222" stroke-width="1.2"/>
<text x="2018.5" y="1102.5" font-size="19" text-anchor="end" fill="#111">0.7</text>
<line x1="2026.3" y1="1127.4" x2="2797.0" y2="1127.4" stroke="#bdbdbd" stroke-width="1.3"/>
<line x1="2022.8" y1="1127.4" x2="2026.3" y2="1127.4" stroke="#222" stroke-width="1.2"/>
<text x="2018.5" y="1134.0" font-size="19" text-anchor="end" fill="#111">0.65</text>
<line x1="2026.3" y1="1158.8" x2="2797.0" y2="1158.8" stroke="#bdbdbd" stroke-width="1.3"/>
<line x1="2022.8" y1="1158.8" x2="2026.3" y2="1158.8" stroke="#222" stroke-width="1.2"/>
<text x="2018.5" y="1165.4" font-size="19" text-anchor="end" fill="#111">0.6</text>
<line x1="2026.3" y1="1190.2" x2="2797.0" y2="1190.2" stroke="#bdbdbd" stroke-width="1.3"/>
<line x1="2022.8" y1="1190.2" x2="2026.3" y2="1190.2" stroke="#222" stroke-width="1.2"/>
<text x="2018.5" y="1196.8" font-size="19" text-anchor="end" fill="#111">0.55</text>
<line x1="2026.3" y1="1221.7" x2="2797.0" y2="1221.7" stroke="#bdbdbd" stroke-width="1.3"/>
<line x1="2022.8" y1="1221.7" x2="2026.3" y2="1221.7" stroke="#222" stroke-width="1.2"/>
<text x="2018.5" y="1228.3" font-size="19" text-anchor="end" fill="#111">0.5</text>
<line x1="2026.3" y1="1253.2" x2="2797.0" y2="1253.2" stroke="#bdbdbd" stroke-width="1.3"/>
<line x1="2022.8" y1="1253.2" x2="2026.3" y2="1253.2" stroke="#222" stroke-width="1.2"/>
<text x="2018.5" y="1259.8" font-size="19" text-anchor="end" fill="#111">0.45</text>
<line x1="2026.3" y1="1284.6" x2="2797.0" y2="1284.6" stroke="#bdbdbd" stroke-width="1.3"/>
<line x1="2022.8" y1="1284.6" x2="2026.3" y2="1284.6" stroke="#222" stroke-width="1.2"/>
<text x="2018.5" y="1291.2" font-size="19" text-anchor="end" fill="#111">0.4</text>
<line x1="2026.3" y1="1316.0" x2="2797.0" y2="1316.0" stroke="#bdbdbd" stroke-width="1.3"/>
<line x1="2022.8" y1="1316.0" x2="2026.3" y2="1316.0" stroke="#222" stroke-width="1.2"/>
<text x="2018.5" y="1322.6" font-size="19" text-anchor="end" fill="#111">0.35</text>
<line x1="2026.3" y1="1347.5" x2="2797.0" y2="1347.5" stroke="#bdbdbd" stroke-width="1.3"/>
<line x1="2022.8" y1="1347.5" x2="2026.3" y2="1347.5" stroke="#222" stroke-width="1.2"/>
<text x="2018.5" y="1354.1" font-size="19" text-anchor="end" fill="#111">0.3</text>
<line x1="2026.3" y1="1379.0" x2="2797.0" y2="1379.0" stroke="#bdbdbd" stroke-width="1.3"/>
<line x1="2022.8" y1="1379.0" x2="2026.3" y2="1379.0" stroke="#222" stroke-width="1.2"/>
<text x="2018.5" y="1385.5" font-size="19" text-anchor="end" fill="#111">0.25</text>
<line x1="2026.3" y1="1410.4" x2="2797.0" y2="1410.4" stroke="#bdbdbd" stroke-width="1.3"/>
<line x1="2022.8" y1="1410.4" x2="2026.3" y2="1410.4" stroke="#222" stroke-width="1.2"/>
<text x="2018.5" y="1417.0" font-size="19" text-anchor="end" fill="#111">0.3</text>
<line x1="2087.2" y1="889.0" x2="2087.2" y2="1431.0" stroke="#a8a8a8" stroke-width="1.1"/>
<line x1="2087.2" y1="1431.0" x2="2087.2" y2="1434.5" stroke="#222" stroke-width="1.2"/>
<text x="2090.2" y="1457.0" font-size="19" text-anchor="middle" fill="#111">63</text>
<line x1="2179.9" y1="889.0" x2="2179.9" y2="1431.0" stroke="#a8a8a8" stroke-width="1.1"/>
<line x1="2179.9" y1="1431.0" x2="2179.9" y2="1434.5" stroke="#222" stroke-width="1.2"/>
<text x="2182.9" y="1457.0" font-size="19" text-anchor="middle" fill="#111">125</text>
<line x1="2272.6" y1="889.0" x2="2272.6" y2="1431.0" stroke="#a8a8a8" stroke-width="1.1"/>
<line x1="2272.6" y1="1431.0" x2="2272.6" y2="1434.5" stroke="#222" stroke-width="1.2"/>
<text x="2275.6" y="1457.0" font-size="19" text-anchor="middle" fill="#111">250</text>
<line x1="2365.3" y1="889.0" x2="2365.3" y2="1431.0" stroke="#a8a8a8" stroke-width="1.1"/>
<line x1="2365.3" y1="1431.0" x2="2365.3" y2="1434.5" stroke="#222" stroke-width="1.2"/>
<text x="2368.3" y="1457.0" font-size="19" text-anchor="middle" fill="#111">500</text>
<line x1="2458.0" y1="889.0" x2="2458.0" y2="1431.0" stroke="#a8a8a8" stroke-width="1.1"/>
<line x1="2458.0" y1="1431.0" x2="2458.0" y2="1434.5" stroke="#222" stroke-width="1.2"/>
<text x="2461.0" y="1457.0" font-size="19" text-anchor="middle" fill="#111">1000</text>
<line x1="2550.6" y1="889.0" x2="2550.6" y2="1431.0" stroke="#a8a8a8" stroke-width="1.1"/>
<line x1="2550.6" y1="1431.0" x2="2550.6" y2="1434.5" stroke="#222" stroke-width="1.2"/>
<text x="2553.6" y="1457.0" font-size="19" text-anchor="middle" fill="#111">2000</text>
<line x1="2643.3" y1="889.0" x2="2643.3" y2="1431.0" stroke="#a8a8a8" stroke-width="1.1"/>
<line x1="2643.3" y1="1431.0" x2="2643.3" y2="1434.5" stroke="#222" stroke-width="1.2"/>
<text x="2646.3" y="1457.0" font-size="19" text-anchor="middle" fill="#111">4000</text>
<line x1="2736.0" y1="889.0" x2="2736.0" y2="1431.0" stroke="#a8a8a8" stroke-width="1.1"/>
<line x1="2736.0" y1="1431.0" x2="2736.0" y2="1434.5" stroke="#222" stroke-width="1.2"/>
<text x="2739.0" y="1457.0" font-size="19" text-anchor="middle" fill="#111">8000</text>
<polyline points="2026.3,889.0 2797.0,889.0 2797.0,1431.0" fill="none" stroke="#6a6a6a" stroke-width="1.6"/>
<line x1="2026.3" y1="893.0" x2="2026.3" y2="1431.0" stroke="#000" stroke-width="2.2"/>
<line x1="2026.3" y1="1431.0" x2="2797.0" y2="1431.0" stroke="#000" stroke-width="2.2"/>
<polyline points="2087.2,1109.1 2179.9,1111.6 2272.6,1082.7 2365.3,1094.0 2458.0,1112.9 2550.6,1117.9 2643.3,1084.6 2736.0,1006.6" fill="none" stroke="#3a3a3a" stroke-width="1.3"/>
<polyline points="2087.2,1225.5 2179.9,1236.2 2272.6,1210.4 2365.3,1217.3 2458.0,1236.2 2550.6,1242.5 2643.3,1215.4 2736.0,1102.2" fill="none" stroke="#3a3a3a" stroke-width="1.3"/>
<polyline points="2087.2,1179.6 2179.9,1188.4 2272.6,1161.3 2365.3,1172.0 2458.0,1188.4 2550.6,1186.5 2643.3,1156.3 2736.0,1056.3" fill="none" stroke="#d42a2a" stroke-width="1.6"/>
<line x1="2087.2" y1="1145.0" x2="2087.2" y2="1214.2" stroke="#d42a2a" stroke-width="2.2"/>
<line x1="2082.6" y1="1145.0" x2="2091.8" y2="1145.0" stroke="#d42a2a" stroke-width="2.2"/>
<line x1="2082.6" y1="1214.2" x2="2091.8" y2="1214.2" stroke="#d42a2a" stroke-width="2.2"/>
<circle cx="2087.2" cy="1179.6" r="6.0" fill="#e02020"/>
<line x1="2179.9" y1="1153.1" x2="2179.9" y2="1222.3" stroke="#d42a2a" stroke-width="2.2"/>
<line x1="2175.3" y1="1153.1" x2="2184.5" y2="1153.1" stroke="#d42a2a" stroke-width="2.2"/>
<line x1="2175.3" y1="1222.3" x2="2184.5" y2="1222.3" stroke="#d42a2a" stroke-width="2.2"/>
<circle cx="2179.9" cy="1188.4" r="6.0" fill="#e02020"/>
<line x1="2272.6" y1="1124.2" x2="2272.6" y2="1196.5" stroke="#d42a2a" stroke-width="2.2"/>
<line x1="2268.0" y1="1124.2" x2="2277.2" y2="1124.2" stroke="#d42a2a" stroke-width="2.2"/>
<line x1="2268.0" y1="1196.5" x2="2277.2" y2="1196.5" stroke="#d42a2a" stroke-width="2.2"/>
<circle cx="2272.6" cy="1161.3" r="6.0" fill="#e02020"/>
<line x1="2365.3" y1="1135.5" x2="2365.3" y2="1207.2" stroke="#d42a2a" stroke-width="2.2"/>
<line x1="2360.7" y1="1135.5" x2="2369.9" y2="1135.5" stroke="#d42a2a" stroke-width="2.2"/>
<line x1="2360.7" y1="1207.2" x2="2369.9" y2="1207.2" stroke="#d42a2a" stroke-width="2.2"/>
<circle cx="2365.3" cy="1172.0" r="6.0" fill="#e02020"/>
<line x1="2458.0" y1="1153.1" x2="2458.0" y2="1224.2" stroke="#d42a2a" stroke-width="2.2"/>
<line x1="2453.4" y1="1153.1" x2="2462.6" y2="1153.1" stroke="#d42a2a" stroke-width="2.2"/>
<line x1="2453.4" y1="1224.2" x2="2462.6" y2="1224.2" stroke="#d42a2a" stroke-width="2.2"/>
<circle cx="2458.0" cy="1188.4" r="6.0" fill="#e02020"/>
<line x1="2550.6" y1="1150.6" x2="2550.6" y2="1222.3" stroke="#d42a2a" stroke-width="2.2"/>
<line x1="2546.0" y1="1150.6" x2="2555.2" y2="1150.6" stroke="#d42a2a" stroke-width="2.2"/>
<line x1="2546.0" y1="1222.3" x2="2555.2" y2="1222.3" stroke="#d42a2a" stroke-width="2.2"/>
<circle cx="2550.6" cy="1186.5" r="6.0" fill="#e02020"/>
<line x1="2643.3" y1="1119.8" x2="2643.3" y2="1190.9" stroke="#d42a2a" stroke-width="2.2"/>
<line x1="2638.7" y1="1119.8" x2="2647.9" y2="1119.8" stroke="#d42a2a" stroke-width="2.2"/>
<line x1="2638.7" y1="1190.9" x2="2647.9" y2="1190.9" stroke="#d42a2a" stroke-width="2.2"/>
<circle cx="2643.3" cy="1156.3" r="6.0" fill="#e02020"/>
<line x1="2736.0" y1="1030.5" x2="2736.0" y2="1080.2" stroke="#d42a2a" stroke-width="2.2"/>
<line x1="2731.4" y1="1030.5" x2="2740.6" y2="1030.5" stroke="#d42a2a" stroke-width="2.2"/>
<line x1="2731.4" y1="1080.2" x2="2740.6" y2="1080.2" stroke="#d42a2a" stroke-width="2.2"/>
<circle cx="2736.0" cy="1056.3" r="6.0" fill="#e02020"/>
<text x="2345.5" y="853.9" font-size="19" fill="#1a1f8f" textLength="77.3" lengthAdjust="spacingAndGlyphs">Statistics</text>
<text x="2181.0" y="877" font-size="19" fill="#1a1f8f" textLength="418.0" lengthAdjust="spacingAndGlyphs">Active receivers: 1,2,3,4,5,6,7,8,9,10,11,12,13,14</text>
<text x="2348.9" y="1479.2" font-size="18.5" fill="#111" textLength="134.3" lengthAdjust="spacingAndGlyphs">Frequency (Hz)</text>
<text x="0" y="0" font-size="18" fill="#111" transform="translate(1980.5,1156) rotate(-90)" text-anchor="middle">T(ßó)</text>
<text x="219.3" y="92" font-size="57" fill="#000" textLength="756.7" lengthAdjust="spacingAndGlyphs">Acoustic treatment Scheme 1</text>
<text x="1101.1" y="92" font-size="57" fill="#000" textLength="758.4" lengthAdjust="spacingAndGlyphs">Acoustic treatment Scheme 2</text>
<text x="1991" y="92" font-size="57" fill="#000" textLength="759.4" lengthAdjust="spacingAndGlyphs">Acoustic treatment Scheme 3</text>
<text x="0" y="0" font-size="59" fill="#000" textLength="405" lengthAdjust="spacingAndGlyphs" transform="translate(112.2,683.4) rotate(-90)">Grid Simulation</text>
<text x="0" y="0" font-size="59" fill="#000" textLength="310" lengthAdjust="spacingAndGlyphs" transform="translate(73.5,1318.8) rotate(-90)">Multi-point</text>
<text x="0" y="0" font-size="59" fill="#000" textLength="307" lengthAdjust="spacingAndGlyphs" transform="translate(145.5,1320) rotate(-90)">Calculation</text>
<rect x="14.95" y="18.85" width="2.7" height="1472.30" fill="#000"/>
<rect x="157.65" y="18.85" width="2.7" height="1472.30" fill="#000"/>
<rect x="1039.35" y="18.85" width="2.7" height="1472.30" fill="#000"/>
<rect x="1922.15" y="18.85" width="2.7" height="1472.30" fill="#000"/>
<rect x="2819.15" y="18.85" width="2.7" height="1472.30" fill="#000"/>
<rect x="14.95" y="18.85" width="2806.90" height="2.7" fill="#000"/>
<rect x="14.95" y="120.85" width="2806.90" height="2.7" fill="#000"/>
<rect x="14.95" y="833.65" width="2806.90" height="2.7" fill="#000"/>
<rect x="14.95" y="1488.45" width="2806.90" height="2.7" fill="#000"/>
</svg>
</body></html>
